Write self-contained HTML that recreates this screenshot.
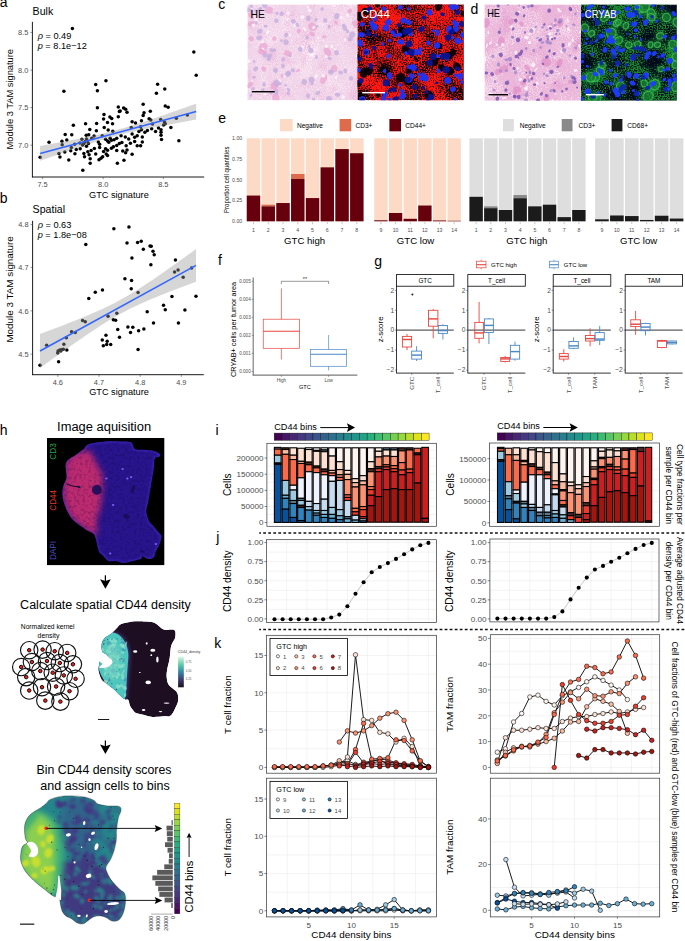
<!DOCTYPE html>
<html><head><meta charset="utf-8"><title>Figure</title>
<style>html,body{margin:0;padding:0;background:#fff;width:685px;height:941px;overflow:hidden}svg{display:block}</style>
</head><body>
<svg width="685" height="941" viewBox="0 0 685 941" font-family="'Liberation Sans', sans-serif">
<defs><filter id="bl05" color-interpolation-filters="sRGB"><feGaussianBlur stdDeviation="0.5"/></filter><filter id="bl1" color-interpolation-filters="sRGB"><feGaussianBlur stdDeviation="1"/></filter><filter id="bl2" x="-20%" y="-20%" width="140%" height="140%" color-interpolation-filters="sRGB"><feGaussianBlur stdDeviation="2"/></filter><filter id="bl3" x="-20%" y="-20%" width="140%" height="140%" color-interpolation-filters="sRGB"><feGaussianBlur stdDeviation="3"/></filter><clipPath id="cHE"><rect x="247.4" y="4.4" width="110.1" height="95.8"/></clipPath><filter id="cHEn1" x="0" y="0" width="100%" height="100%" color-interpolation-filters="sRGB"><feTurbulence type="fractalNoise" baseFrequency="0.05" numOctaves="2" seed="11" result="c"/><feTurbulence type="fractalNoise" baseFrequency="0.8" numOctaves="1" seed="12" result="f"/><feComposite in="c" in2="f" operator="arithmetic" k1="0" k2="0.4" k3="0.60" k4="0" result="m"/><feColorMatrix in="m" type="matrix" values="0 0 0 0 1.000 0 0 0 0 0.961 0 0 0 0 0.980 7 0 0 0 -3.4"/></filter><filter id="cHEn2" x="0" y="0" width="100%" height="100%" color-interpolation-filters="sRGB"><feTurbulence type="fractalNoise" baseFrequency="0.06" numOctaves="2" seed="16" result="c"/><feTurbulence type="fractalNoise" baseFrequency="0.9" numOctaves="1" seed="17" result="f"/><feComposite in="c" in2="f" operator="arithmetic" k1="0" k2="0.5" k3="0.50" k4="0" result="m"/><feColorMatrix in="m" type="matrix" values="0 0 0 0 0.914 0 0 0 0 0.639 0 0 0 0 0.816 6 0 0 0 -3.2"/></filter><clipPath id="cCD"><rect x="357.5" y="4.4" width="106.3" height="95.8"/></clipPath><filter id="cCDn1" x="0" y="0" width="100%" height="100%" color-interpolation-filters="sRGB"><feTurbulence type="fractalNoise" baseFrequency="0.04" numOctaves="2" seed="12" result="c"/><feTurbulence type="fractalNoise" baseFrequency="0.75" numOctaves="1" seed="13" result="f"/><feComposite in="c" in2="f" operator="arithmetic" k1="0" k2="0.4" k3="0.60" k4="0" result="m"/><feColorMatrix in="m" type="matrix" values="0 0 0 0 1.000 0 0 0 0 0.094 0 0 0 0 0.071 6 0 0 0 -2.3"/></filter><clipPath id="dHE"><rect x="484.5" y="4.4" width="96.4" height="96.3"/></clipPath><filter id="dHEn1" x="0" y="0" width="100%" height="100%" color-interpolation-filters="sRGB"><feTurbulence type="fractalNoise" baseFrequency="0.05" numOctaves="2" seed="21" result="c"/><feTurbulence type="fractalNoise" baseFrequency="0.8" numOctaves="1" seed="22" result="f"/><feComposite in="c" in2="f" operator="arithmetic" k1="0" k2="0.4" k3="0.60" k4="0" result="m"/><feColorMatrix in="m" type="matrix" values="0 0 0 0 1.000 0 0 0 0 0.961 0 0 0 0 0.980 7 0 0 0 -3.4"/></filter><filter id="dHEn2" x="0" y="0" width="100%" height="100%" color-interpolation-filters="sRGB"><feTurbulence type="fractalNoise" baseFrequency="0.06" numOctaves="2" seed="26" result="c"/><feTurbulence type="fractalNoise" baseFrequency="0.9" numOctaves="1" seed="27" result="f"/><feComposite in="c" in2="f" operator="arithmetic" k1="0" k2="0.5" k3="0.50" k4="0" result="m"/><feColorMatrix in="m" type="matrix" values="0 0 0 0 0.878 0 0 0 0 0.561 0 0 0 0 0.776 6 0 0 0 -3.2"/></filter><clipPath id="dCR"><rect x="580.9" y="4.4" width="96" height="96.3"/></clipPath><filter id="dCRn1" x="0" y="0" width="100%" height="100%" color-interpolation-filters="sRGB"><feTurbulence type="fractalNoise" baseFrequency="0.045" numOctaves="2" seed="22" result="c"/><feTurbulence type="fractalNoise" baseFrequency="0.75" numOctaves="1" seed="23" result="f"/><feComposite in="c" in2="f" operator="arithmetic" k1="0" k2="0.4" k3="0.60" k4="0" result="m"/><feColorMatrix in="m" type="matrix" values="0 0 0 0 0.118 0 0 0 0 0.647 0 0 0 0 0.196 6 0 0 0 -2.75"/></filter><clipPath id="tisA"><path d="M88.4 444.2 C91.6 443.0 97.4 442.2 102.6 441.8 C107.8 441.3 115.0 441.3 119.7 441.4 C124.5 441.5 128.6 441.1 131.1 442.3 C133.6 443.6 132.4 447.7 134.9 449.0 C137.4 450.2 143.1 449.6 146.3 449.9 C149.4 450.2 151.7 450.2 153.9 450.9 C156.1 451.5 158.6 452.8 159.6 453.7 C160.5 454.7 160.4 455.8 159.6 456.6 C158.8 457.4 155.8 456.6 154.8 458.5 C153.9 460.4 154.3 464.5 153.9 468.0 C153.4 471.4 152.6 475.5 152.0 479.3 C151.3 483.1 150.7 486.9 150.1 490.7 C149.4 494.5 148.8 498.6 148.2 502.1 C147.5 505.6 146.1 508.4 146.3 511.6 C146.4 514.8 147.9 518.6 149.1 521.1 C150.4 523.6 152.3 524.9 153.9 526.8 C155.5 528.7 157.4 530.9 158.6 532.5 C159.9 534.1 161.3 534.4 161.5 536.3 C161.6 538.2 160.5 541.3 159.6 543.9 C158.6 546.4 156.7 549.3 155.8 551.5 C154.8 553.7 155.1 555.9 153.9 557.2 C152.6 558.4 150.1 559.2 148.2 559.1 C146.3 558.9 143.8 556.2 142.5 556.2 C141.2 556.2 142.2 558.3 140.6 559.1 C139.0 559.8 135.8 560.3 133.0 561.0 C130.1 561.6 126.4 562.9 123.5 562.9 C120.7 562.9 118.4 561.3 115.9 561.0 C113.4 560.6 110.5 561.9 108.3 561.0 C106.1 560.0 104.2 556.8 102.6 555.3 C101.0 553.7 99.8 553.4 98.8 551.5 C97.9 549.6 97.6 546.4 96.9 543.9 C96.3 541.3 95.7 538.0 95.0 536.3 C94.4 534.5 94.4 534.4 93.1 533.4 C91.9 532.5 89.3 531.7 87.4 530.6 C85.5 529.5 84.0 528.4 81.8 526.8 C79.5 525.2 76.4 523.3 74.2 521.1 C71.9 518.9 70.2 516.7 68.5 513.5 C66.7 510.3 64.7 505.6 63.7 502.1 C62.7 498.6 62.4 495.5 62.4 492.6 C62.4 489.8 63.0 487.6 63.7 485.0 C64.4 482.5 66.3 480.6 66.6 477.4 C66.9 474.3 65.5 468.9 65.6 466.1 C65.8 463.2 65.8 462.3 67.5 460.4 C69.3 458.5 73.4 456.6 76.1 454.7 C78.7 452.8 81.6 450.7 83.7 449.0 C85.7 447.2 85.2 445.4 88.4 444.2 Z"/></clipPath><linearGradient id="gA" x1="0" y1="0" x2="1" y2="0.15"><stop offset="0" stop-color="#C4307E"/><stop offset="0.28" stop-color="#B52F88"/><stop offset="0.4" stop-color="#4A2AA8"/><stop offset="1" stop-color="#3325A0"/></linearGradient><filter id="tisN" x="0" y="0" width="100%" height="100%" filterUnits="objectBoundingBox" color-interpolation-filters="sRGB"><feTurbulence type="fractalNoise" baseFrequency="0.35" numOctaves="2" seed="5" result="t"/><feColorMatrix in="t" type="matrix" values="0 0 0 0 0.078 0 0 0 0 0.039 0 0 0 0 0.235 4 0 0 0 -1.9"/></filter><clipPath id="tisB"><path d="M120.7 624.2 C123.0 623.0 126.0 622.4 129.9 621.9 C133.7 621.4 139.6 621.3 143.6 621.4 C147.7 621.6 151.1 621.3 154.4 622.7 C157.7 624.0 160.8 628.4 163.6 629.6 C166.4 630.7 169.3 629.3 171.2 629.6 C173.2 629.8 174.4 629.7 175.1 631.1 C175.7 632.5 175.7 635.6 175.1 638.0 C174.4 640.4 172.1 642.3 171.2 645.7 C170.3 649.0 170.3 654.1 169.7 657.9 C169.1 661.8 167.9 665.6 167.4 668.6 C166.9 671.7 166.5 673.8 166.6 676.3 C166.8 678.9 167.2 681.9 168.2 684.0 C169.2 686.0 171.2 687.0 172.8 688.6 C174.3 690.1 176.5 691.1 177.4 693.2 C178.3 695.2 178.4 698.5 178.1 700.8 C177.9 703.1 176.7 704.9 175.8 707.0 C174.9 709.0 173.8 711.6 172.8 713.1 C171.7 714.6 171.2 715.7 169.7 716.2 C168.2 716.7 166.1 716.0 163.6 716.2 C161.0 716.3 156.9 716.9 154.4 716.9 C151.8 716.9 150.3 716.5 148.2 716.2 C146.2 715.8 144.2 715.1 142.1 714.6 C140.1 714.1 137.5 713.9 136.0 713.1 C134.5 712.3 133.9 711.3 132.9 710.0 C131.9 708.8 130.6 707.1 129.9 705.4 C129.1 703.8 129.2 701.1 128.3 700.1 C127.4 699.0 126.0 700.2 124.5 699.3 C123.0 698.4 121.0 696.5 119.1 694.7 C117.2 692.9 115.0 690.4 113.0 688.6 C110.9 686.8 108.8 685.5 106.9 684.0 C104.9 682.4 102.9 681.7 101.5 679.4 C100.1 677.1 98.8 672.7 98.4 670.2 C98.0 667.6 98.9 665.8 99.2 664.0 C99.5 662.3 99.2 660.5 100.0 659.5 C100.7 658.4 102.1 657.9 103.8 657.9 C105.5 657.9 109.4 660.0 109.9 659.5 C110.4 658.9 108.1 656.1 106.9 654.9 C105.6 653.6 103.2 653.6 102.3 651.8 C101.4 650.0 101.1 646.4 101.5 644.1 C101.9 641.8 102.9 639.8 104.6 638.0 C106.2 636.2 109.5 634.9 111.5 633.4 C113.4 631.9 114.5 630.3 116.1 628.8 C117.6 627.3 118.4 625.3 120.7 624.2 Z"/></clipPath><linearGradient id="gMako" x1="0" y1="0" x2="0" y2="1"><stop offset="0" stop-color="#DEF5E5"/><stop offset="0.25" stop-color="#60CEAC"/><stop offset="0.5" stop-color="#3487A6"/><stop offset="0.75" stop-color="#3F3C6C"/><stop offset="1" stop-color="#1A0F1F"/></linearGradient><clipPath id="tisC"><path d="M50.0 799.4 C52.4 798.3 56.8 797.0 60.6 796.4 C64.3 795.8 68.7 795.8 72.8 795.9 C76.9 796.0 81.6 796.4 85.1 797.1 C88.6 797.8 91.6 799.1 93.8 800.3 C96.0 801.4 95.9 803.2 98.2 804.1 C100.6 805.0 104.3 805.5 107.9 805.9 C111.4 806.2 117.0 805.6 119.2 806.4 C121.4 807.2 121.1 808.9 121.0 810.8 C120.8 812.7 119.1 814.6 118.4 817.8 C117.6 821.0 117.0 826.2 116.6 830.0 C116.3 833.8 116.7 837.0 116.3 840.6 C115.8 844.1 114.9 847.8 114.0 851.1 C113.0 854.3 111.8 857.2 110.5 859.8 C109.2 862.4 106.7 864.8 106.1 866.8 C105.5 868.9 106.2 870.0 107.0 872.1 C107.7 874.1 109.2 877.0 110.5 879.1 C111.8 881.1 113.3 882.6 114.9 884.3 C116.5 886.1 118.5 888.1 120.1 889.6 C121.7 891.1 123.6 891.4 124.5 893.1 C125.4 894.9 125.7 897.5 125.7 900.1 C125.7 902.7 125.1 906.2 124.5 908.9 C123.9 911.5 122.9 914.0 121.9 915.9 C120.8 917.8 120.0 919.4 118.4 920.3 C116.8 921.1 114.3 921.6 112.2 921.1 C110.2 920.7 108.0 918.5 106.1 917.6 C104.2 916.8 102.9 916.0 100.8 915.9 C98.8 915.7 95.9 916.0 93.8 916.8 C91.8 917.5 90.3 919.1 88.6 920.3 C86.8 921.4 85.2 923.3 83.3 923.8 C81.4 924.2 79.2 923.8 77.2 922.9 C75.1 922.0 73.0 919.7 71.1 918.5 C69.2 917.3 67.3 917.1 65.8 915.9 C64.3 914.7 63.2 913.3 62.3 911.5 C61.4 909.8 61.0 907.3 60.6 905.4 C60.1 903.5 60.3 901.4 59.7 900.1 C59.1 898.8 58.2 898.2 57.0 897.5 C55.9 896.8 54.7 897.0 52.7 895.7 C50.6 894.4 47.6 891.8 44.8 889.6 C42.0 887.4 38.9 885.2 36.0 882.6 C33.1 880.0 29.5 876.5 27.3 873.8 C25.1 871.2 24.0 869.2 22.9 866.8 C21.8 864.5 20.9 862.4 20.6 859.8 C20.3 857.2 20.8 853.4 21.1 851.1 C21.5 848.7 21.9 847.2 22.9 845.8 C23.9 844.4 26.8 843.8 27.3 842.7 C27.7 841.5 25.9 840.5 25.5 838.8 C25.1 837.1 24.8 834.7 24.6 832.7 C24.5 830.6 24.4 828.4 24.6 826.5 C24.8 824.6 25.1 823.0 25.9 821.3 C26.6 819.5 27.6 817.6 29.0 816.0 C30.4 814.4 32.2 813.1 34.3 811.6 C36.3 810.2 39.2 808.7 41.3 807.3 C43.3 805.8 45.1 804.2 46.5 802.9 C48.0 801.6 47.7 800.5 50.0 799.4 Z"/></clipPath></defs>
<rect width="685" height="941" fill="#fff"/>
<text x="-0.3" y="6.8" font-size="14" >a</text>
<text x="32.6" y="14.9" font-size="10.6" >Bulk</text>
<circle cx="105.94" cy="80.77" r="1.75" fill="#000" />
<circle cx="95.69" cy="84.45" r="1.75" fill="#000" />
<circle cx="97.4" cy="90.63" r="1.75" fill="#000" />
<circle cx="63.9" cy="91.28" r="1.75" fill="#000" />
<circle cx="97.4" cy="107.84" r="1.75" fill="#000" />
<circle cx="118.29" cy="107.05" r="1.75" fill="#000" />
<circle cx="119.34" cy="111.39" r="1.75" fill="#000" />
<circle cx="103.97" cy="114.41" r="1.75" fill="#000" />
<circle cx="109.88" cy="117.04" r="1.75" fill="#000" />
<circle cx="111.72" cy="118.61" r="1.75" fill="#000" />
<circle cx="103.58" cy="119.01" r="1.75" fill="#000" />
<circle cx="118.29" cy="116.64" r="1.75" fill="#000" />
<circle cx="107.52" cy="122.56" r="1.75" fill="#000" />
<circle cx="112.51" cy="123.87" r="1.75" fill="#000" />
<circle cx="85.58" cy="123.87" r="1.75" fill="#000" />
<circle cx="96.61" cy="123.48" r="1.75" fill="#000" />
<circle cx="73.36" cy="125.18" r="1.75" fill="#000" />
<circle cx="104.23" cy="127.42" r="1.75" fill="#000" />
<circle cx="89.78" cy="129.52" r="1.75" fill="#000" />
<circle cx="96.35" cy="130.7" r="1.75" fill="#000" />
<circle cx="108.18" cy="130.04" r="1.75" fill="#000" />
<circle cx="112.77" cy="131.23" r="1.75" fill="#000" />
<circle cx="65.21" cy="134.38" r="1.75" fill="#000" />
<circle cx="71.78" cy="134.64" r="1.75" fill="#000" />
<circle cx="86.23" cy="135.3" r="1.75" fill="#000" />
<circle cx="88.73" cy="134.64" r="1.75" fill="#000" />
<circle cx="94.12" cy="136.09" r="1.75" fill="#000" />
<circle cx="61.93" cy="141.21" r="1.75" fill="#000" />
<circle cx="66.79" cy="140.03" r="1.75" fill="#000" />
<circle cx="49.05" cy="142.26" r="1.75" fill="#000" />
<circle cx="81.9" cy="139.24" r="1.75" fill="#000" />
<circle cx="86.5" cy="138.98" r="1.75" fill="#000" />
<circle cx="87.42" cy="140.95" r="1.75" fill="#000" />
<circle cx="98.32" cy="142" r="1.75" fill="#000" />
<circle cx="105.55" cy="139.24" r="1.75" fill="#000" />
<circle cx="107.52" cy="140.95" r="1.75" fill="#000" />
<circle cx="111.46" cy="140.29" r="1.75" fill="#000" />
<circle cx="114.09" cy="139.64" r="1.75" fill="#000" />
<circle cx="116.72" cy="138.32" r="1.75" fill="#000" />
<circle cx="62.19" cy="144.63" r="1.75" fill="#000" />
<circle cx="71.39" cy="147.52" r="1.75" fill="#000" />
<circle cx="74.67" cy="144.23" r="1.75" fill="#000" />
<circle cx="83.87" cy="143.58" r="1.75" fill="#000" />
<circle cx="88.47" cy="143.58" r="1.75" fill="#000" />
<circle cx="99.64" cy="144.23" r="1.75" fill="#000" />
<circle cx="108.83" cy="142.26" r="1.75" fill="#000" />
<circle cx="113.43" cy="146.86" r="1.75" fill="#000" />
<circle cx="116.72" cy="145.55" r="1.75" fill="#000" />
<circle cx="119.34" cy="143.58" r="1.75" fill="#000" />
<circle cx="76.25" cy="149.49" r="1.75" fill="#000" />
<circle cx="80.19" cy="148.83" r="1.75" fill="#000" />
<circle cx="70.73" cy="150.8" r="1.75" fill="#000" />
<circle cx="64.82" cy="152.12" r="1.75" fill="#000" />
<circle cx="58.91" cy="153.43" r="1.75" fill="#000" />
<circle cx="87.81" cy="151.72" r="1.75" fill="#000" />
<circle cx="91.1" cy="150.41" r="1.75" fill="#000" />
<circle cx="94.38" cy="148.57" r="1.75" fill="#000" />
<circle cx="99.64" cy="147.52" r="1.75" fill="#000" />
<circle cx="105.55" cy="148.83" r="1.75" fill="#000" />
<circle cx="107.52" cy="150.15" r="1.75" fill="#000" />
<circle cx="116.72" cy="150.41" r="1.75" fill="#000" />
<circle cx="83.87" cy="153.43" r="1.75" fill="#000" />
<circle cx="74.93" cy="153.83" r="1.75" fill="#000" />
<circle cx="59.96" cy="156.98" r="1.75" fill="#000" />
<circle cx="89.12" cy="154.75" r="1.75" fill="#000" />
<circle cx="84.53" cy="156.72" r="1.75" fill="#000" />
<circle cx="106.21" cy="154.09" r="1.75" fill="#000" />
<circle cx="107.52" cy="155.4" r="1.75" fill="#000" />
<circle cx="102.66" cy="156.72" r="1.75" fill="#000" />
<circle cx="100.95" cy="158.29" r="1.75" fill="#000" />
<circle cx="98.98" cy="159.74" r="1.75" fill="#000" />
<circle cx="90.18" cy="158.69" r="1.75" fill="#000" />
<circle cx="68.76" cy="160" r="1.75" fill="#000" />
<circle cx="40.12" cy="157.37" r="1.75" fill="#000" />
<circle cx="90.18" cy="163.29" r="1.75" fill="#000" />
<circle cx="117.37" cy="163.29" r="1.75" fill="#000" />
<circle cx="82.82" cy="170.25" r="1.75" fill="#000" />
<circle cx="85.18" cy="141.61" r="1.75" fill="#000" />
<circle cx="82.56" cy="144.89" r="1.75" fill="#000" />
<circle cx="86.5" cy="146.21" r="1.75" fill="#000" />
<circle cx="103.58" cy="151.46" r="1.75" fill="#000" />
<circle cx="110.15" cy="138.32" r="1.75" fill="#000" />
<circle cx="102.26" cy="135.69" r="1.75" fill="#000" />
<circle cx="91.75" cy="138.32" r="1.75" fill="#000" />
<circle cx="79.93" cy="142.92" r="1.75" fill="#000" />
<circle cx="95.69" cy="154.09" r="1.75" fill="#000" />
<circle cx="111.46" cy="148.18" r="1.75" fill="#000" />
<circle cx="193.84" cy="51.97" r="1.75" fill="#000" />
<circle cx="196.22" cy="75.27" r="1.75" fill="#000" />
<circle cx="157.62" cy="84.29" r="1.75" fill="#000" />
<circle cx="164.76" cy="88.88" r="1.75" fill="#000" />
<circle cx="156.43" cy="93.13" r="1.75" fill="#000" />
<circle cx="143.16" cy="104.35" r="1.75" fill="#000" />
<circle cx="165.27" cy="105.88" r="1.75" fill="#000" />
<circle cx="168.16" cy="107.24" r="1.75" fill="#000" />
<circle cx="123.61" cy="108.1" r="1.75" fill="#000" />
<circle cx="125.65" cy="109.29" r="1.75" fill="#000" />
<circle cx="120.2" cy="110.99" r="1.75" fill="#000" />
<circle cx="127.01" cy="112.35" r="1.75" fill="#000" />
<circle cx="150.31" cy="111.33" r="1.75" fill="#000" />
<circle cx="144.01" cy="112.69" r="1.75" fill="#000" />
<circle cx="143.16" cy="115.58" r="1.75" fill="#000" />
<circle cx="132.11" cy="121.7" r="1.75" fill="#000" />
<circle cx="149.12" cy="118.64" r="1.75" fill="#000" />
<circle cx="150.82" cy="120" r="1.75" fill="#000" />
<circle cx="141.46" cy="120.68" r="1.75" fill="#000" />
<circle cx="160.68" cy="119.49" r="1.75" fill="#000" />
<circle cx="164.42" cy="122.04" r="1.75" fill="#000" />
<circle cx="165.27" cy="123.74" r="1.75" fill="#000" />
<circle cx="163.57" cy="125.1" r="1.75" fill="#000" />
<circle cx="176.33" cy="118.3" r="1.75" fill="#000" />
<circle cx="187.38" cy="114.9" r="1.75" fill="#000" />
<circle cx="131.26" cy="127.48" r="1.75" fill="#000" />
<circle cx="140.61" cy="126.8" r="1.75" fill="#000" />
<circle cx="141.46" cy="129.69" r="1.75" fill="#000" />
<circle cx="138.91" cy="131.39" r="1.75" fill="#000" />
<circle cx="147.41" cy="130.54" r="1.75" fill="#000" />
<circle cx="151.67" cy="128.84" r="1.75" fill="#000" />
<circle cx="158.47" cy="127.99" r="1.75" fill="#000" />
<circle cx="161.02" cy="129.69" r="1.75" fill="#000" />
<circle cx="170.88" cy="127.48" r="1.75" fill="#000" />
<circle cx="161.02" cy="132.24" r="1.75" fill="#000" />
<circle cx="161.02" cy="135.31" r="1.75" fill="#000" />
<circle cx="161.53" cy="139.56" r="1.75" fill="#000" />
<circle cx="178.88" cy="140.75" r="1.75" fill="#000" />
<circle cx="121.05" cy="135.65" r="1.75" fill="#000" />
<circle cx="125.31" cy="137.01" r="1.75" fill="#000" />
<circle cx="132.11" cy="133.95" r="1.75" fill="#000" />
<circle cx="134.66" cy="137.35" r="1.75" fill="#000" />
<circle cx="137.21" cy="135.65" r="1.75" fill="#000" />
<circle cx="144.86" cy="132.24" r="1.75" fill="#000" />
<circle cx="142.31" cy="137.01" r="1.75" fill="#000" />
<circle cx="121.9" cy="142.45" r="1.75" fill="#000" />
<circle cx="130.41" cy="143.3" r="1.75" fill="#000" />
<circle cx="134.66" cy="141.6" r="1.75" fill="#000" />
<circle cx="142.31" cy="141.94" r="1.75" fill="#000" />
<circle cx="140.61" cy="145.85" r="1.75" fill="#000" />
<circle cx="126.16" cy="145.85" r="1.75" fill="#000" />
<circle cx="122.76" cy="150.95" r="1.75" fill="#000" />
<circle cx="127.01" cy="150.1" r="1.75" fill="#000" />
<circle cx="125.65" cy="152.65" r="1.75" fill="#000" />
<circle cx="132.11" cy="154.35" r="1.75" fill="#000" />
<circle cx="123.95" cy="160.31" r="1.75" fill="#000" />
<circle cx="135.51" cy="122.89" r="1.75" fill="#000" />
<circle cx="128.71" cy="139.05" r="1.75" fill="#000" />
<circle cx="137.21" cy="145.85" r="1.75" fill="#000" />
<circle cx="152.52" cy="124.08" r="1.75" fill="#000" />
<circle cx="155.58" cy="131.39" r="1.75" fill="#000" />
<circle cx="72.4" cy="28.6" r="1.75" fill="#000" />
<path d="M40.1 146.06 L44.1 145.32 L48.11 144.58 L52.11 143.84 L56.11 143.09 L60.11 142.33 L64.12 141.57 L68.12 140.81 L72.12 140.03 L76.12 139.25 L80.13 138.45 L84.13 137.64 L88.13 136.82 L92.13 135.97 L96.14 135.1 L100.14 134.2 L104.14 133.27 L108.14 132.3 L112.15 131.28 L116.15 130.22 L120.15 129.11 L124.15 127.95 L128.16 126.76 L132.16 125.53 L136.16 124.26 L140.16 122.97 L144.17 121.66 L148.17 120.33 L152.17 118.99 L156.17 117.63 L160.18 116.26 L164.18 114.89 L168.18 113.5 L172.18 112.11 L176.19 110.72 L180.19 109.32 L184.19 107.92 L188.19 106.52 L192.2 105.11 L196.2 103.7 L196.2 119.43 L192.2 120.17 L188.19 120.91 L184.19 121.65 L180.19 122.39 L176.19 123.14 L172.18 123.89 L168.18 124.64 L164.18 125.41 L160.18 126.18 L156.17 126.95 L152.17 127.74 L148.17 128.54 L144.17 129.36 L140.16 130.19 L136.16 131.05 L132.16 131.93 L128.16 132.84 L124.15 133.79 L120.15 134.78 L116.15 135.82 L112.15 136.9 L108.14 138.03 L104.14 139.2 L100.14 140.42 L96.14 141.66 L92.13 142.94 L88.13 144.24 L84.13 145.56 L80.13 146.89 L76.12 148.24 L72.12 149.61 L68.12 150.98 L64.12 152.36 L60.11 153.74 L56.11 155.13 L52.11 156.53 L48.11 157.93 L44.1 159.33 L40.1 160.74 Z" fill="#999" fill-opacity="0.4"/>
<line x1="40.1" y1="153.4" x2="196.2" y2="111.57" stroke="#3366FF" stroke-width="1.55" />
<line x1="32.4" y1="21.8" x2="32.4" y2="177.4" stroke="#000" stroke-width="0.9" />
<line x1="32" y1="177" x2="204.2" y2="177" stroke="#000" stroke-width="0.9" />
<line x1="30.3" y1="32.4" x2="32.4" y2="32.4" stroke="#333" stroke-width="0.5" />
<text x="28.3" y="35" font-size="7.4" fill="#4D4D4D" text-anchor="end" >8.5</text>
<line x1="30.3" y1="70.1" x2="32.4" y2="70.1" stroke="#333" stroke-width="0.5" />
<text x="28.3" y="72.7" font-size="7.4" fill="#4D4D4D" text-anchor="end" >8.0</text>
<line x1="30.3" y1="107.6" x2="32.4" y2="107.6" stroke="#333" stroke-width="0.5" />
<text x="28.3" y="110.2" font-size="7.4" fill="#4D4D4D" text-anchor="end" >7.5</text>
<line x1="30.3" y1="145.2" x2="32.4" y2="145.2" stroke="#333" stroke-width="0.5" />
<text x="28.3" y="147.8" font-size="7.4" fill="#4D4D4D" text-anchor="end" >7.0</text>
<line x1="42.6" y1="177" x2="42.6" y2="179.2" stroke="#333" stroke-width="0.5" />
<text x="42.6" y="186.8" font-size="7.4" fill="#4D4D4D" text-anchor="middle" >7.5</text>
<line x1="103.2" y1="177" x2="103.2" y2="179.2" stroke="#333" stroke-width="0.5" />
<text x="103.2" y="186.8" font-size="7.4" fill="#4D4D4D" text-anchor="middle" >8.0</text>
<line x1="163.3" y1="177" x2="163.3" y2="179.2" stroke="#333" stroke-width="0.5" />
<text x="163.3" y="186.8" font-size="7.4" fill="#4D4D4D" text-anchor="middle" >8.5</text>
<text x="118.9" y="197.6" font-size="9.2" text-anchor="middle" >GTC signature</text>
<text x="13" y="99.2" font-size="9.3" text-anchor="middle" transform="rotate(-90 13 99.2)" textLength="100.5" lengthAdjust="spacingAndGlyphs" >Module 3 TAM signature</text>
<text x="37.7" y="38.5" font-size="9.2"><tspan font-style="italic">ρ</tspan> = 0.49</text>
<text x="37.7" y="48.7" font-size="9.2"><tspan font-style="italic">p</tspan> = 8.1e−12</text>
<text x="-0.2" y="203" font-size="14" >b</text>
<text x="32.6" y="213" font-size="10.6" >Spatial</text>
<circle cx="113.86" cy="228.68" r="1.75" fill="#000" />
<circle cx="85.79" cy="244.47" r="1.75" fill="#000" />
<circle cx="102.46" cy="290.09" r="1.75" fill="#000" />
<circle cx="95.26" cy="292.19" r="1.75" fill="#000" />
<circle cx="88.77" cy="298.51" r="1.75" fill="#000" />
<circle cx="108.07" cy="316.23" r="1.75" fill="#000" />
<circle cx="116.84" cy="313.25" r="1.75" fill="#000" />
<circle cx="113.33" cy="319.74" r="1.75" fill="#000" />
<circle cx="115.61" cy="320.26" r="1.75" fill="#000" />
<circle cx="82.63" cy="320.61" r="1.75" fill="#000" />
<circle cx="85.26" cy="321.67" r="1.75" fill="#000" />
<circle cx="117.72" cy="329.56" r="1.75" fill="#000" />
<circle cx="119.47" cy="337.28" r="1.75" fill="#000" />
<circle cx="71.58" cy="331.67" r="1.75" fill="#000" />
<circle cx="75.26" cy="332.54" r="1.75" fill="#000" />
<circle cx="66.32" cy="337.81" r="1.75" fill="#000" />
<circle cx="105.96" cy="335.18" r="1.75" fill="#000" />
<circle cx="102.28" cy="339.91" r="1.75" fill="#000" />
<circle cx="107.19" cy="341.32" r="1.75" fill="#000" />
<circle cx="103.33" cy="345.7" r="1.75" fill="#000" />
<circle cx="106.67" cy="344.47" r="1.75" fill="#000" />
<circle cx="110.7" cy="344.47" r="1.75" fill="#000" />
<circle cx="63.86" cy="344.3" r="1.75" fill="#000" />
<circle cx="46.67" cy="345.18" r="1.75" fill="#000" />
<circle cx="58.07" cy="350.96" r="1.75" fill="#000" />
<circle cx="59.82" cy="350.09" r="1.75" fill="#000" />
<circle cx="61.58" cy="349.74" r="1.75" fill="#000" />
<circle cx="63.33" cy="349.21" r="1.75" fill="#000" />
<circle cx="66.84" cy="350.09" r="1.75" fill="#000" />
<circle cx="57.72" cy="353.07" r="1.75" fill="#000" />
<circle cx="60.7" cy="350.96" r="1.75" fill="#000" />
<circle cx="58.6" cy="361.67" r="1.75" fill="#000" />
<circle cx="40" cy="365.35" r="1.75" fill="#000" />
<circle cx="128.95" cy="226.93" r="1.75" fill="#000" />
<circle cx="127.02" cy="243.07" r="1.75" fill="#000" />
<circle cx="137.54" cy="242.54" r="1.75" fill="#000" />
<circle cx="141.23" cy="241.32" r="1.75" fill="#000" />
<circle cx="143.33" cy="249.21" r="1.75" fill="#000" />
<circle cx="150" cy="246.05" r="1.75" fill="#000" />
<circle cx="151.23" cy="246.23" r="1.75" fill="#000" />
<circle cx="152.98" cy="251.32" r="1.75" fill="#000" />
<circle cx="154.21" cy="254.82" r="1.75" fill="#000" />
<circle cx="131.93" cy="257.98" r="1.75" fill="#000" />
<circle cx="150.88" cy="264.82" r="1.75" fill="#000" />
<circle cx="175.44" cy="259.91" r="1.75" fill="#000" />
<circle cx="174.56" cy="272.02" r="1.75" fill="#000" />
<circle cx="178.07" cy="269.91" r="1.75" fill="#000" />
<circle cx="191.58" cy="267.98" r="1.75" fill="#000" />
<circle cx="183.16" cy="277.28" r="1.75" fill="#000" />
<circle cx="124.91" cy="278.68" r="1.75" fill="#000" />
<circle cx="131.58" cy="280.44" r="1.75" fill="#000" />
<circle cx="131.23" cy="288.68" r="1.75" fill="#000" />
<circle cx="138.07" cy="292.54" r="1.75" fill="#000" />
<circle cx="171.93" cy="296.58" r="1.75" fill="#000" />
<circle cx="195.96" cy="296.23" r="1.75" fill="#000" />
<circle cx="163.51" cy="305.35" r="1.75" fill="#000" />
<circle cx="165.26" cy="309.74" r="1.75" fill="#000" />
<circle cx="184.91" cy="309.91" r="1.75" fill="#000" />
<circle cx="147.19" cy="311.84" r="1.75" fill="#000" />
<circle cx="153.51" cy="322.89" r="1.75" fill="#000" />
<circle cx="178.42" cy="322.89" r="1.75" fill="#000" />
<circle cx="127.89" cy="326.93" r="1.75" fill="#000" />
<circle cx="132.81" cy="327.28" r="1.75" fill="#000" />
<circle cx="130.53" cy="332.54" r="1.75" fill="#000" />
<circle cx="138.6" cy="330.79" r="1.75" fill="#000" />
<circle cx="143.86" cy="329.04" r="1.75" fill="#000" />
<circle cx="138.07" cy="349.56" r="1.75" fill="#000" />
<path d="M40 334 L44 332.51 L48 331.01 L52 329.5 L56 327.98 L60 326.46 L64 324.92 L68 323.36 L72 321.8 L76 320.21 L80 318.6 L84 316.96 L88 315.3 L92 313.6 L96 311.85 L100 310.06 L104 308.21 L108 306.29 L112 304.3 L116 302.23 L120 300.08 L124 297.84 L128 295.52 L132 293.12 L136 290.64 L140 288.1 L144 285.5 L148 282.85 L152 280.16 L156 277.44 L160 274.68 L164 271.9 L168 269.09 L172 266.27 L176 263.43 L180 260.58 L184 257.71 L188 254.83 L192 251.95 L196 249.06 L196 281.65 L192 283.15 L188 284.66 L184 286.18 L180 287.7 L176 289.24 L172 290.8 L168 292.36 L164 293.95 L160 295.56 L156 297.2 L152 298.86 L148 300.56 L144 302.31 L140 304.1 L136 305.95 L132 307.87 L128 309.86 L124 311.93 L120 314.08 L116 316.32 L112 318.64 L108 321.04 L104 323.52 L100 326.06 L96 328.66 L92 331.31 L88 334 L84 336.72 L80 339.48 L76 342.26 L72 345.07 L68 347.89 L64 350.73 L60 353.58 L56 356.45 L52 359.33 L48 362.21 L44 365.1 L40 368 Z" fill="#999" fill-opacity="0.4"/>
<line x1="40" y1="351" x2="196" y2="265.36" stroke="#3366FF" stroke-width="1.55" />
<line x1="32.6" y1="220.8" x2="32.6" y2="375.1" stroke="#000" stroke-width="0.9" />
<line x1="32.2" y1="374.7" x2="203.8" y2="374.7" stroke="#000" stroke-width="0.9" />
<line x1="30.5" y1="224.6" x2="32.6" y2="224.6" stroke="#333" stroke-width="0.5" />
<text x="28.5" y="227.2" font-size="7.4" fill="#4D4D4D" text-anchor="end" >4.8</text>
<line x1="30.5" y1="267.4" x2="32.6" y2="267.4" stroke="#333" stroke-width="0.5" />
<text x="28.5" y="270" font-size="7.4" fill="#4D4D4D" text-anchor="end" >4.7</text>
<line x1="30.5" y1="310.9" x2="32.6" y2="310.9" stroke="#333" stroke-width="0.5" />
<text x="28.5" y="313.5" font-size="7.4" fill="#4D4D4D" text-anchor="end" >4.6</text>
<line x1="30.5" y1="354.2" x2="32.6" y2="354.2" stroke="#333" stroke-width="0.5" />
<text x="28.5" y="356.8" font-size="7.4" fill="#4D4D4D" text-anchor="end" >4.5</text>
<line x1="57.8" y1="374.7" x2="57.8" y2="376.9" stroke="#333" stroke-width="0.5" />
<text x="57.8" y="384.8" font-size="7.4" fill="#4D4D4D" text-anchor="middle" >4.6</text>
<line x1="99" y1="374.7" x2="99" y2="376.9" stroke="#333" stroke-width="0.5" />
<text x="99" y="384.8" font-size="7.4" fill="#4D4D4D" text-anchor="middle" >4.7</text>
<line x1="140.2" y1="374.7" x2="140.2" y2="376.9" stroke="#333" stroke-width="0.5" />
<text x="140.2" y="384.8" font-size="7.4" fill="#4D4D4D" text-anchor="middle" >4.8</text>
<line x1="181.3" y1="374.7" x2="181.3" y2="376.9" stroke="#333" stroke-width="0.5" />
<text x="181.3" y="384.8" font-size="7.4" fill="#4D4D4D" text-anchor="middle" >4.9</text>
<text x="119" y="395.3" font-size="9.2" text-anchor="middle" >GTC signature</text>
<text x="13.2" y="289.4" font-size="9.8" text-anchor="middle" transform="rotate(-90 13.2 289.4)" textLength="106.4" lengthAdjust="spacingAndGlyphs" >Module 3 TAM signature</text>
<text x="37.7" y="228.2" font-size="9.2"><tspan font-style="italic">ρ</tspan> = 0.63</text>
<text x="37.7" y="237.9" font-size="9.2"><tspan font-style="italic">p</tspan> = 1.8e−08</text>
<text x="218.2" y="9.1" font-size="14" >c</text>
<g clip-path="url(#cHE)">
<rect x="247.4" y="4.4" width="110.1" height="95.8" fill="#F1D4E9" />
<rect x="247.4" y="4.4" width="110.1" height="95.8" filter="url(#cHEn1)" opacity="0.55"/>
<rect x="247.4" y="4.4" width="110.1" height="95.8" filter="url(#cHEn2)" opacity="0.5"/>
<g filter="url(#bl05)"><ellipse cx="261.6" cy="52.2" rx="4.0" ry="2.4" transform="rotate(27 261.6 52.2)" fill="#E9A3D0" fill-opacity="0.70" /><ellipse cx="349.6" cy="11.1" rx="2.6" ry="2.3" transform="rotate(112 349.6 11.1)" fill="#E9A3D0" fill-opacity="0.70" /><ellipse cx="288.0" cy="53.4" rx="4.2" ry="2.9" transform="rotate(25 288.0 53.4)" fill="#E9A3D0" fill-opacity="0.70" /><ellipse cx="334.2" cy="68.6" rx="3.7" ry="3.2" transform="rotate(99 334.2 68.6)" fill="#E9A3D0" fill-opacity="0.70" /><ellipse cx="355.4" cy="24.0" rx="3.9" ry="2.9" transform="rotate(64 355.4 24.0)" fill="#E9A3D0" fill-opacity="0.70" /><ellipse cx="312.5" cy="26.9" rx="4.6" ry="4.0" transform="rotate(23 312.5 26.9)" fill="#E9A3D0" fill-opacity="0.70" /><ellipse cx="298.8" cy="31.0" rx="2.4" ry="2.1" transform="rotate(77 298.8 31.0)" fill="#E9A3D0" fill-opacity="0.70" /><ellipse cx="263.7" cy="68.9" rx="2.8" ry="2.4" transform="rotate(39 263.7 68.9)" fill="#E9A3D0" fill-opacity="0.70" /><ellipse cx="251.0" cy="23.6" rx="3.2" ry="2.4" transform="rotate(163 251.0 23.6)" fill="#E9A3D0" fill-opacity="0.70" /><ellipse cx="324.2" cy="36.9" rx="2.3" ry="1.5" transform="rotate(179 324.2 36.9)" fill="#E9A3D0" fill-opacity="0.70" /><ellipse cx="298.0" cy="70.6" rx="2.4" ry="1.4" transform="rotate(152 298.0 70.6)" fill="#E9A3D0" fill-opacity="0.70" /><ellipse cx="312.1" cy="34.0" rx="3.2" ry="2.0" transform="rotate(31 312.1 34.0)" fill="#E9A3D0" fill-opacity="0.70" /><ellipse cx="250.1" cy="84.8" rx="3.6" ry="2.3" transform="rotate(133 250.1 84.8)" fill="#E9A3D0" fill-opacity="0.70" /><ellipse cx="268.9" cy="10.3" rx="4.0" ry="3.5" transform="rotate(5 268.9 10.3)" fill="#E9A3D0" fill-opacity="0.70" /><ellipse cx="336.0" cy="22.6" rx="2.5" ry="1.5" transform="rotate(53 336.0 22.6)" fill="#E9A3D0" fill-opacity="0.70" /><ellipse cx="327.5" cy="51.6" rx="4.8" ry="3.2" transform="rotate(57 327.5 51.6)" fill="#E9A3D0" fill-opacity="0.70" /><ellipse cx="275.8" cy="98.1" rx="5.0" ry="3.5" transform="rotate(78 275.8 98.1)" fill="#E9A3D0" fill-opacity="0.70" /><ellipse cx="282.0" cy="75.9" rx="2.3" ry="1.4" transform="rotate(73 282.0 75.9)" fill="#E9A3D0" fill-opacity="0.70" /><ellipse cx="274.4" cy="85.4" rx="4.4" ry="3.4" transform="rotate(119 274.4 85.4)" fill="#E9A3D0" fill-opacity="0.70" /><ellipse cx="323.6" cy="79.2" rx="5.0" ry="3.2" transform="rotate(113 323.6 79.2)" fill="#E9A3D0" fill-opacity="0.70" /><ellipse cx="263.2" cy="46.9" rx="4.6" ry="4.0" transform="rotate(137 263.2 46.9)" fill="#E9A3D0" fill-opacity="0.70" /><ellipse cx="251.3" cy="38.8" rx="2.7" ry="2.4" transform="rotate(26 251.3 38.8)" fill="#E9A3D0" fill-opacity="0.70" /><ellipse cx="274.3" cy="38.6" rx="2.4" ry="2.1" transform="rotate(115 274.3 38.6)" fill="#E9A3D0" fill-opacity="0.70" /><ellipse cx="265.0" cy="52.1" rx="2.4" ry="1.9" transform="rotate(42 265.0 52.1)" fill="#E9A3D0" fill-opacity="0.70" /><ellipse cx="251.7" cy="15.4" rx="3.9" ry="3.1" transform="rotate(58 251.7 15.4)" fill="#E9A3D0" fill-opacity="0.70" /><ellipse cx="318.2" cy="38.1" rx="1.0" ry="1.2" transform="rotate(71 318.2 38.1)" fill="#FFF6FB" fill-opacity="0.85" /><ellipse cx="347.9" cy="15.5" rx="1.0" ry="1.6" transform="rotate(173 347.9 15.5)" fill="#FFF6FB" fill-opacity="0.85" /><ellipse cx="347.3" cy="71.5" rx="0.9" ry="1.9" transform="rotate(123 347.3 71.5)" fill="#FFF6FB" fill-opacity="0.85" /><ellipse cx="263.2" cy="48.9" rx="0.9" ry="1.9" transform="rotate(129 263.2 48.9)" fill="#FFF6FB" fill-opacity="0.85" /><ellipse cx="336.0" cy="77.2" rx="1.3" ry="1.9" transform="rotate(45 336.0 77.2)" fill="#FFF6FB" fill-opacity="0.85" /><ellipse cx="262.6" cy="41.8" rx="1.7" ry="1.2" transform="rotate(109 262.6 41.8)" fill="#FFF6FB" fill-opacity="0.85" /><ellipse cx="313.7" cy="27.4" rx="1.9" ry="1.3" transform="rotate(132 313.7 27.4)" fill="#FFF6FB" fill-opacity="0.85" /><ellipse cx="279.4" cy="80.9" rx="1.5" ry="1.6" transform="rotate(121 279.4 80.9)" fill="#FFF6FB" fill-opacity="0.85" /><ellipse cx="304.5" cy="29.1" rx="2.6" ry="0.9" transform="rotate(58 304.5 29.1)" fill="#FFF6FB" fill-opacity="0.85" /><ellipse cx="307.9" cy="7.1" rx="1.1" ry="1.9" transform="rotate(141 307.9 7.1)" fill="#FFF6FB" fill-opacity="0.85" /><ellipse cx="317.5" cy="90.8" rx="2.2" ry="1.2" transform="rotate(116 317.5 90.8)" fill="#FFF6FB" fill-opacity="0.85" /><ellipse cx="284.8" cy="76.2" rx="1.5" ry="1.0" transform="rotate(158 284.8 76.2)" fill="#FFF6FB" fill-opacity="0.85" /><ellipse cx="323.4" cy="75.7" rx="1.8" ry="1.9" transform="rotate(81 323.4 75.7)" fill="#FFF6FB" fill-opacity="0.85" /><ellipse cx="309.7" cy="10.4" rx="1.8" ry="1.9" transform="rotate(127 309.7 10.4)" fill="#FFF6FB" fill-opacity="0.85" /><ellipse cx="335.8" cy="51.9" rx="2.4" ry="1.0" transform="rotate(158 335.8 51.9)" fill="#FFF6FB" fill-opacity="0.85" /><ellipse cx="288.3" cy="13.1" rx="1.9" ry="1.4" transform="rotate(77 288.3 13.1)" fill="#FFF6FB" fill-opacity="0.85" /><ellipse cx="341.2" cy="17.6" rx="1.9" ry="1.4" transform="rotate(95 341.2 17.6)" fill="#FFF6FB" fill-opacity="0.85" /><ellipse cx="302.4" cy="17.2" rx="1.7" ry="2.0" transform="rotate(31 302.4 17.2)" fill="#FFF6FB" fill-opacity="0.85" /><ellipse cx="248.7" cy="10.9" rx="1.6" ry="2.2" transform="rotate(8 248.7 10.9)" fill="#FFF6FB" fill-opacity="0.85" /><ellipse cx="356.5" cy="55.8" rx="1.0" ry="1.4" transform="rotate(37 356.5 55.8)" fill="#FFF6FB" fill-opacity="0.85" /><ellipse cx="326.0" cy="56.3" rx="1.3" ry="1.2" transform="rotate(156 326.0 56.3)" fill="#FFF6FB" fill-opacity="0.85" /><ellipse cx="331.8" cy="46.2" rx="1.5" ry="1.8" transform="rotate(175 331.8 46.2)" fill="#FFF6FB" fill-opacity="0.85" /><ellipse cx="256.2" cy="19.6" rx="1.5" ry="1.5" transform="rotate(13 256.2 19.6)" fill="#FFF6FB" fill-opacity="0.85" /><ellipse cx="253.3" cy="25.4" rx="1.5" ry="1.8" transform="rotate(110 253.3 25.4)" fill="#FFF6FB" fill-opacity="0.85" /><ellipse cx="250.6" cy="8.7" rx="1.6" ry="2.0" transform="rotate(165 250.6 8.7)" fill="#FFF6FB" fill-opacity="0.85" /><ellipse cx="287.6" cy="89.4" rx="2.5" ry="1.4" transform="rotate(134 287.6 89.4)" fill="#FFF6FB" fill-opacity="0.85" /><ellipse cx="287.6" cy="19.1" rx="1.8" ry="0.9" transform="rotate(119 287.6 19.1)" fill="#FFF6FB" fill-opacity="0.85" /><ellipse cx="336.5" cy="92.1" rx="1.6" ry="1.0" transform="rotate(162 336.5 92.1)" fill="#FFF6FB" fill-opacity="0.85" /><ellipse cx="343.2" cy="97.1" rx="1.9" ry="1.7" transform="rotate(67 343.2 97.1)" fill="#FFF6FB" fill-opacity="0.85" /><ellipse cx="267.6" cy="32.3" rx="2.1" ry="1.3" transform="rotate(124 267.6 32.3)" fill="#FFF6FB" fill-opacity="0.85" /><ellipse cx="302.7" cy="47.4" rx="2.5" ry="1.0" transform="rotate(88 302.7 47.4)" fill="#FFF6FB" fill-opacity="0.85" /><ellipse cx="265.0" cy="94.2" rx="1.7" ry="1.3" transform="rotate(30 265.0 94.2)" fill="#FFF6FB" fill-opacity="0.85" /><ellipse cx="312.8" cy="42.6" rx="1.0" ry="0.8" transform="rotate(70 312.8 42.6)" fill="#FFF6FB" fill-opacity="0.85" /><ellipse cx="311.6" cy="54.1" rx="2.4" ry="2.1" transform="rotate(169 311.6 54.1)" fill="#FFF6FB" fill-opacity="0.85" /><ellipse cx="335.4" cy="50.2" rx="1.7" ry="1.4" transform="rotate(72 335.4 50.2)" fill="#FFF6FB" fill-opacity="0.85" /><ellipse cx="252.0" cy="80.9" rx="1.2" ry="0.8" transform="rotate(84 252.0 80.9)" fill="#FFF6FB" fill-opacity="0.85" /><ellipse cx="326.4" cy="46.2" rx="1.5" ry="1.7" transform="rotate(29 326.4 46.2)" fill="#FFF6FB" fill-opacity="0.85" /><ellipse cx="248.6" cy="61.2" rx="1.8" ry="2.0" transform="rotate(75 248.6 61.2)" fill="#FFF6FB" fill-opacity="0.85" /><ellipse cx="334.0" cy="6.1" rx="0.8" ry="1.6" transform="rotate(41 334.0 6.1)" fill="#FFF6FB" fill-opacity="0.85" /><ellipse cx="254.8" cy="16.6" rx="1.5" ry="1.3" transform="rotate(101 254.8 16.6)" fill="#FFF6FB" fill-opacity="0.85" /><ellipse cx="345.1" cy="39.4" rx="1.1" ry="1.6" transform="rotate(0 345.1 39.4)" fill="#FFF6FB" fill-opacity="0.85" /><ellipse cx="289.8" cy="34.8" rx="1.5" ry="0.9" transform="rotate(100 289.8 34.8)" fill="#FFF6FB" fill-opacity="0.85" /><ellipse cx="316.1" cy="76.2" rx="2.5" ry="1.3" transform="rotate(118 316.1 76.2)" fill="#FFF6FB" fill-opacity="0.85" /><ellipse cx="296.1" cy="25.0" rx="2.4" ry="1.8" transform="rotate(170 296.1 25.0)" fill="#FFF6FB" fill-opacity="0.85" /><ellipse cx="337.9" cy="92.3" rx="1.0" ry="0.8" transform="rotate(36 337.9 92.3)" fill="#FFF6FB" fill-opacity="0.85" /></g>
<g filter="url(#bl05)"><ellipse cx="292.8" cy="70.3" rx="2.2" ry="2.0" transform="rotate(13 292.8 70.3)" fill="#C8B0DE" fill-opacity="0.85" /><ellipse cx="322.1" cy="9.1" rx="1.8" ry="1.7" transform="rotate(73 322.1 9.1)" fill="#C8B0DE" fill-opacity="0.85" /><ellipse cx="279.8" cy="83.7" rx="1.9" ry="1.5" transform="rotate(4 279.8 83.7)" fill="#C8B0DE" fill-opacity="0.85" /><ellipse cx="336.7" cy="16.1" rx="3.2" ry="2.5" transform="rotate(105 336.7 16.1)" fill="#C8B0DE" fill-opacity="0.85" /><ellipse cx="281.3" cy="40.7" rx="1.6" ry="1.1" transform="rotate(40 281.3 40.7)" fill="#C8B0DE" fill-opacity="0.85" /><ellipse cx="347.5" cy="31.3" rx="1.9" ry="1.8" transform="rotate(53 347.5 31.3)" fill="#C8B0DE" fill-opacity="0.85" /><ellipse cx="288.8" cy="72.9" rx="2.8" ry="2.1" transform="rotate(33 288.8 72.9)" fill="#C8B0DE" fill-opacity="0.85" /><ellipse cx="330.9" cy="72.1" rx="3.0" ry="2.5" transform="rotate(24 330.9 72.1)" fill="#C8B0DE" fill-opacity="0.85" /><ellipse cx="345.4" cy="71.0" rx="2.4" ry="2.0" transform="rotate(62 345.4 71.0)" fill="#C8B0DE" fill-opacity="0.85" /><ellipse cx="310.8" cy="50.6" rx="2.7" ry="2.6" transform="rotate(70 310.8 50.6)" fill="#C8B0DE" fill-opacity="0.85" /><ellipse cx="288.4" cy="93.2" rx="2.1" ry="1.5" transform="rotate(81 288.4 93.2)" fill="#C8B0DE" fill-opacity="0.85" /><ellipse cx="304.2" cy="81.9" rx="3.0" ry="2.7" transform="rotate(113 304.2 81.9)" fill="#C8B0DE" fill-opacity="0.85" /><ellipse cx="264.1" cy="84.3" rx="2.4" ry="1.8" transform="rotate(94 264.1 84.3)" fill="#C8B0DE" fill-opacity="0.85" /><ellipse cx="283.0" cy="65.9" rx="2.5" ry="2.0" transform="rotate(91 283.0 65.9)" fill="#C8B0DE" fill-opacity="0.85" /><ellipse cx="288.4" cy="89.7" rx="2.2" ry="1.7" transform="rotate(46 288.4 89.7)" fill="#C8B0DE" fill-opacity="0.85" /><ellipse cx="352.4" cy="34.5" rx="3.0" ry="3.0" transform="rotate(30 352.4 34.5)" fill="#C8B0DE" fill-opacity="0.85" /><ellipse cx="351.1" cy="78.4" rx="2.4" ry="2.2" transform="rotate(81 351.1 78.4)" fill="#C8B0DE" fill-opacity="0.85" /><ellipse cx="317.3" cy="26.3" rx="1.4" ry="1.2" transform="rotate(163 317.3 26.3)" fill="#C8B0DE" fill-opacity="0.85" /><ellipse cx="276.5" cy="82.8" rx="3.2" ry="3.2" transform="rotate(29 276.5 82.8)" fill="#C8B0DE" fill-opacity="0.85" /><ellipse cx="265.6" cy="26.3" rx="2.0" ry="1.5" transform="rotate(3 265.6 26.3)" fill="#C8B0DE" fill-opacity="0.85" /><ellipse cx="350.2" cy="39.0" rx="2.5" ry="2.3" transform="rotate(145 350.2 39.0)" fill="#C8B0DE" fill-opacity="0.85" /><ellipse cx="289.6" cy="55.7" rx="1.6" ry="1.2" transform="rotate(56 289.6 55.7)" fill="#C8B0DE" fill-opacity="0.85" /><ellipse cx="283.1" cy="59.5" rx="2.0" ry="1.9" transform="rotate(2 283.1 59.5)" fill="#C8B0DE" fill-opacity="0.85" /><ellipse cx="248.0" cy="9.9" rx="3.0" ry="2.7" transform="rotate(172 248.0 9.9)" fill="#C8B0DE" fill-opacity="0.85" /><ellipse cx="271.4" cy="92.5" rx="1.8" ry="1.7" transform="rotate(144 271.4 92.5)" fill="#C8B0DE" fill-opacity="0.85" /><ellipse cx="274.7" cy="50.1" rx="1.5" ry="1.5" transform="rotate(163 274.7 50.1)" fill="#C8B0DE" fill-opacity="0.85" /><ellipse cx="311.5" cy="79.7" rx="3.0" ry="3.0" transform="rotate(81 311.5 79.7)" fill="#C8B0DE" fill-opacity="0.85" /><ellipse cx="264.9" cy="55.2" rx="2.5" ry="2.2" transform="rotate(7 264.9 55.2)" fill="#C8B0DE" fill-opacity="0.85" /><ellipse cx="317.8" cy="92.7" rx="2.6" ry="2.2" transform="rotate(146 317.8 92.7)" fill="#C8B0DE" fill-opacity="0.85" /><ellipse cx="262.8" cy="90.2" rx="2.2" ry="1.7" transform="rotate(112 262.8 90.2)" fill="#C8B0DE" fill-opacity="0.85" /><ellipse cx="340.6" cy="72.5" rx="2.5" ry="1.8" transform="rotate(18 340.6 72.5)" fill="#C8B0DE" fill-opacity="0.85" /><ellipse cx="308.1" cy="95.9" rx="2.6" ry="1.9" transform="rotate(81 308.1 95.9)" fill="#C8B0DE" fill-opacity="0.85" /><ellipse cx="300.3" cy="49.3" rx="2.5" ry="2.4" transform="rotate(52 300.3 49.3)" fill="#C8B0DE" fill-opacity="0.85" /><ellipse cx="259.2" cy="37.8" rx="3.1" ry="2.4" transform="rotate(167 259.2 37.8)" fill="#C8B0DE" fill-opacity="0.85" /><ellipse cx="285.7" cy="85.2" rx="1.5" ry="1.1" transform="rotate(33 285.7 85.2)" fill="#C8B0DE" fill-opacity="0.85" /><ellipse cx="329.1" cy="99.2" rx="3.1" ry="3.1" transform="rotate(178 329.1 99.2)" fill="#C8B0DE" fill-opacity="0.85" /><ellipse cx="308.3" cy="18.3" rx="2.9" ry="2.3" transform="rotate(90 308.3 18.3)" fill="#C8B0DE" fill-opacity="0.85" /><ellipse cx="251.2" cy="6.2" rx="1.9" ry="1.7" transform="rotate(172 251.2 6.2)" fill="#C8B0DE" fill-opacity="0.85" /><ellipse cx="337.5" cy="94.6" rx="2.6" ry="2.2" transform="rotate(15 337.5 94.6)" fill="#C8B0DE" fill-opacity="0.85" /><ellipse cx="254.2" cy="77.2" rx="1.8" ry="1.5" transform="rotate(1 254.2 77.2)" fill="#C8B0DE" fill-opacity="0.85" /><ellipse cx="309.2" cy="46.8" rx="1.5" ry="1.2" transform="rotate(62 309.2 46.8)" fill="#C8B0DE" fill-opacity="0.85" /><ellipse cx="325.2" cy="20.4" rx="2.2" ry="2.2" transform="rotate(21 325.2 20.4)" fill="#C8B0DE" fill-opacity="0.85" /><ellipse cx="256.1" cy="22.8" rx="1.8" ry="1.3" transform="rotate(38 256.1 22.8)" fill="#C8B0DE" fill-opacity="0.85" /><ellipse cx="272.0" cy="50.3" rx="2.6" ry="1.9" transform="rotate(17 272.0 50.3)" fill="#C8B0DE" fill-opacity="0.85" /><ellipse cx="276.4" cy="20.8" rx="2.3" ry="2.1" transform="rotate(37 276.4 20.8)" fill="#C8B0DE" fill-opacity="0.85" /><ellipse cx="251.3" cy="10.9" rx="2.2" ry="2.0" transform="rotate(15 251.3 10.9)" fill="#C8B0DE" fill-opacity="0.85" /><ellipse cx="275.4" cy="70.1" rx="2.4" ry="2.4" transform="rotate(20 275.4 70.1)" fill="#C8B0DE" fill-opacity="0.85" /><ellipse cx="268.9" cy="58.6" rx="2.4" ry="2.4" transform="rotate(106 268.9 58.6)" fill="#C8B0DE" fill-opacity="0.85" /><ellipse cx="331.0" cy="71.2" rx="1.6" ry="1.3" transform="rotate(65 331.0 71.2)" fill="#C8B0DE" fill-opacity="0.85" /><ellipse cx="264.6" cy="5.2" rx="3.0" ry="2.7" transform="rotate(52 264.6 5.2)" fill="#C8B0DE" fill-opacity="0.85" /><ellipse cx="293.4" cy="21.3" rx="2.5" ry="2.3" transform="rotate(168 293.4 21.3)" fill="#C8B0DE" fill-opacity="0.85" /><ellipse cx="276.1" cy="71.6" rx="1.6" ry="1.2" transform="rotate(97 276.1 71.6)" fill="#C8B0DE" fill-opacity="0.85" /><ellipse cx="307.1" cy="37.6" rx="2.0" ry="1.7" transform="rotate(73 307.1 37.6)" fill="#C8B0DE" fill-opacity="0.85" /><ellipse cx="259.8" cy="31.4" rx="2.9" ry="2.4" transform="rotate(157 259.8 31.4)" fill="#C8B0DE" fill-opacity="0.85" /><ellipse cx="343.6" cy="25.3" rx="1.9" ry="1.5" transform="rotate(172 343.6 25.3)" fill="#C8B0DE" fill-opacity="0.85" /><ellipse cx="287.6" cy="74.4" rx="2.7" ry="2.6" transform="rotate(59 287.6 74.4)" fill="#C8B0DE" fill-opacity="0.85" /><ellipse cx="259.5" cy="9.2" rx="2.2" ry="1.7" transform="rotate(152 259.5 9.2)" fill="#C8B0DE" fill-opacity="0.85" /><ellipse cx="276.9" cy="85.6" rx="1.4" ry="1.1" transform="rotate(81 276.9 85.6)" fill="#C8B0DE" fill-opacity="0.85" /><ellipse cx="286.0" cy="42.2" rx="2.9" ry="2.6" transform="rotate(70 286.0 42.2)" fill="#C8B0DE" fill-opacity="0.85" /><ellipse cx="336.4" cy="52.5" rx="2.8" ry="2.4" transform="rotate(78 336.4 52.5)" fill="#C8B0DE" fill-opacity="0.85" /><ellipse cx="276.4" cy="91.8" rx="2.8" ry="2.1" transform="rotate(79 276.4 91.8)" fill="#C8B0DE" fill-opacity="0.85" /><ellipse cx="344.7" cy="28.0" rx="2.9" ry="2.2" transform="rotate(68 344.7 28.0)" fill="#C8B0DE" fill-opacity="0.85" /><ellipse cx="255.8" cy="68.9" rx="2.7" ry="2.1" transform="rotate(138 255.8 68.9)" fill="#C8B0DE" fill-opacity="0.85" /><ellipse cx="269.5" cy="55.8" rx="2.9" ry="2.1" transform="rotate(164 269.5 55.8)" fill="#C8B0DE" fill-opacity="0.85" /><ellipse cx="329.6" cy="58.5" rx="2.0" ry="1.6" transform="rotate(21 329.6 58.5)" fill="#C8B0DE" fill-opacity="0.85" /><ellipse cx="260.8" cy="8.7" rx="1.7" ry="1.5" transform="rotate(104 260.8 8.7)" fill="#C8B0DE" fill-opacity="0.85" /><ellipse cx="312.4" cy="83.1" rx="1.6" ry="1.1" transform="rotate(75 312.4 83.1)" fill="#C8B0DE" fill-opacity="0.85" /><ellipse cx="256.1" cy="10.8" rx="1.6" ry="1.5" transform="rotate(51 256.1 10.8)" fill="#C8B0DE" fill-opacity="0.85" /><ellipse cx="329.1" cy="26.7" rx="1.9" ry="1.4" transform="rotate(81 329.1 26.7)" fill="#C8B0DE" fill-opacity="0.85" /><ellipse cx="311.7" cy="83.4" rx="1.5" ry="1.3" transform="rotate(104 311.7 83.4)" fill="#C8B0DE" fill-opacity="0.85" /><ellipse cx="253.0" cy="88.7" rx="1.9" ry="1.6" transform="rotate(164 253.0 88.7)" fill="#C8B0DE" fill-opacity="0.85" /><ellipse cx="313.6" cy="99.4" rx="1.8" ry="1.6" transform="rotate(92 313.6 99.4)" fill="#C8B0DE" fill-opacity="0.85" /><ellipse cx="316.5" cy="57.1" rx="2.0" ry="1.4" transform="rotate(86 316.5 57.1)" fill="#C8B0DE" fill-opacity="0.85" /><ellipse cx="297.3" cy="24.8" rx="2.4" ry="1.8" transform="rotate(53 297.3 24.8)" fill="#C8B0DE" fill-opacity="0.85" /><ellipse cx="254.2" cy="61.6" rx="1.5" ry="1.3" transform="rotate(81 254.2 61.6)" fill="#C8B0DE" fill-opacity="0.85" /><ellipse cx="251.0" cy="95.2" rx="1.8" ry="1.4" transform="rotate(107 251.0 95.2)" fill="#C8B0DE" fill-opacity="0.85" /><ellipse cx="286.2" cy="34.9" rx="2.3" ry="2.0" transform="rotate(124 286.2 34.9)" fill="#C8B0DE" fill-opacity="0.85" /><ellipse cx="277.0" cy="13.2" rx="1.8" ry="1.6" transform="rotate(75 277.0 13.2)" fill="#C8B0DE" fill-opacity="0.85" /><ellipse cx="281.7" cy="13.8" rx="2.5" ry="2.1" transform="rotate(124 281.7 13.8)" fill="#C8B0DE" fill-opacity="0.85" /><ellipse cx="316.0" cy="19.7" rx="2.0" ry="1.5" transform="rotate(122 316.0 19.7)" fill="#C8B0DE" fill-opacity="0.85" /></g>
</g>
<g clip-path="url(#cCD)">
<rect x="357.5" y="4.4" width="106.3" height="95.8" fill="#030008" />
<rect x="357.5" y="4.4" width="106.3" height="95.8" filter="url(#cCDn1)"/>
<g filter="url(#bl05)"><ellipse cx="384.2" cy="95.1" rx="2.7" ry="2.0" transform="rotate(63 384.2 95.1)" fill="#02010A" fill-opacity="0.90" /><ellipse cx="382.0" cy="68.6" rx="2.5" ry="2.4" transform="rotate(154 382.0 68.6)" fill="#02010A" fill-opacity="0.90" /><ellipse cx="357.8" cy="56.3" rx="2.5" ry="1.9" transform="rotate(75 357.8 56.3)" fill="#02010A" fill-opacity="0.90" /><ellipse cx="405.7" cy="49.2" rx="4.6" ry="3.6" transform="rotate(34 405.7 49.2)" fill="#02010A" fill-opacity="0.90" /><ellipse cx="428.8" cy="95.1" rx="4.6" ry="4.4" transform="rotate(12 428.8 95.1)" fill="#02010A" fill-opacity="0.90" /><ellipse cx="457.1" cy="66.6" rx="4.5" ry="3.7" transform="rotate(39 457.1 66.6)" fill="#02010A" fill-opacity="0.90" /><ellipse cx="441.8" cy="67.8" rx="4.2" ry="3.2" transform="rotate(24 441.8 67.8)" fill="#02010A" fill-opacity="0.90" /><ellipse cx="438.7" cy="6.3" rx="4.7" ry="3.4" transform="rotate(108 438.7 6.3)" fill="#02010A" fill-opacity="0.90" /><ellipse cx="402.0" cy="35.4" rx="2.6" ry="2.5" transform="rotate(165 402.0 35.4)" fill="#02010A" fill-opacity="0.90" /><ellipse cx="435.0" cy="61.9" rx="4.0" ry="3.5" transform="rotate(100 435.0 61.9)" fill="#02010A" fill-opacity="0.90" /><ellipse cx="453.8" cy="31.5" rx="2.8" ry="2.7" transform="rotate(170 453.8 31.5)" fill="#02010A" fill-opacity="0.90" /><ellipse cx="408.1" cy="81.1" rx="4.1" ry="4.1" transform="rotate(15 408.1 81.1)" fill="#02010A" fill-opacity="0.90" /><ellipse cx="453.0" cy="52.3" rx="3.4" ry="3.1" transform="rotate(111 453.0 52.3)" fill="#02010A" fill-opacity="0.90" /><ellipse cx="403.9" cy="32.3" rx="4.6" ry="4.3" transform="rotate(18 403.9 32.3)" fill="#02010A" fill-opacity="0.90" /><ellipse cx="400.5" cy="77.5" rx="4.5" ry="4.4" transform="rotate(43 400.5 77.5)" fill="#02010A" fill-opacity="0.90" /><ellipse cx="452.3" cy="71.0" rx="2.4" ry="1.8" transform="rotate(34 452.3 71.0)" fill="#02010A" fill-opacity="0.90" /><ellipse cx="365.7" cy="70.3" rx="3.0" ry="2.7" transform="rotate(15 365.7 70.3)" fill="#02010A" fill-opacity="0.90" /><ellipse cx="450.1" cy="71.0" rx="4.2" ry="3.7" transform="rotate(82 450.1 71.0)" fill="#02010A" fill-opacity="0.90" /><ellipse cx="378.0" cy="94.7" rx="2.6" ry="2.2" transform="rotate(22 378.0 94.7)" fill="#02010A" fill-opacity="0.90" /><ellipse cx="369.0" cy="71.1" rx="4.5" ry="3.8" transform="rotate(143 369.0 71.1)" fill="#02010A" fill-opacity="0.90" /><ellipse cx="448.9" cy="55.7" rx="4.2" ry="3.3" transform="rotate(27 448.9 55.7)" fill="#02010A" fill-opacity="0.90" /><ellipse cx="377.6" cy="5.1" rx="2.4" ry="2.2" transform="rotate(163 377.6 5.1)" fill="#02010A" fill-opacity="0.90" /><ellipse cx="363.6" cy="73.5" rx="4.2" ry="3.8" transform="rotate(90 363.6 73.5)" fill="#02010A" fill-opacity="0.90" /><ellipse cx="409.1" cy="70.9" rx="2.8" ry="2.6" transform="rotate(35 409.1 70.9)" fill="#02010A" fill-opacity="0.90" /><ellipse cx="361.2" cy="93.9" rx="2.4" ry="1.8" transform="rotate(10 361.2 93.9)" fill="#02010A" fill-opacity="0.90" /><ellipse cx="358.6" cy="16.3" rx="4.6" ry="4.2" transform="rotate(73 358.6 16.3)" fill="#02010A" fill-opacity="0.90" /><ellipse cx="358.2" cy="83.8" rx="3.5" ry="3.3" transform="rotate(91 358.2 83.8)" fill="#02010A" fill-opacity="0.90" /><ellipse cx="365.8" cy="11.5" rx="4.3" ry="3.3" transform="rotate(27 365.8 11.5)" fill="#02010A" fill-opacity="0.90" /><ellipse cx="401.0" cy="29.5" rx="2.9" ry="2.7" transform="rotate(84 401.0 29.5)" fill="#02010A" fill-opacity="0.90" /><ellipse cx="463.4" cy="13.8" rx="3.0" ry="2.9" transform="rotate(78 463.4 13.8)" fill="#02010A" fill-opacity="0.90" /><ellipse cx="439.3" cy="45.9" rx="3.3" ry="3.1" transform="rotate(56 439.3 45.9)" fill="#02010A" fill-opacity="0.90" /><ellipse cx="415.6" cy="58.5" rx="2.3" ry="1.7" transform="rotate(42 415.6 58.5)" fill="#02010A" fill-opacity="0.90" /></g>
<g filter="url(#bl05)"><ellipse cx="357.8" cy="69.9" rx="2.9" ry="2.4" transform="rotate(7 357.8 69.9)" fill="#1C34F5" fill-opacity="0.95" /><ellipse cx="400.1" cy="85.0" rx="1.8" ry="1.6" transform="rotate(39 400.1 85.0)" fill="#1C34F5" fill-opacity="0.95" /><ellipse cx="388.9" cy="21.6" rx="2.8" ry="2.1" transform="rotate(52 388.9 21.6)" fill="#1C34F5" fill-opacity="0.95" /><ellipse cx="383.5" cy="98.9" rx="2.9" ry="2.5" transform="rotate(104 383.5 98.9)" fill="#1C34F5" fill-opacity="0.95" /><ellipse cx="461.8" cy="41.3" rx="1.8" ry="1.3" transform="rotate(36 461.8 41.3)" fill="#1C34F5" fill-opacity="0.95" /><ellipse cx="421.5" cy="29.1" rx="3.4" ry="2.5" transform="rotate(145 421.5 29.1)" fill="#0A1490" fill-opacity="0.95" /><ellipse cx="427.8" cy="99.5" rx="2.1" ry="1.7" transform="rotate(36 427.8 99.5)" fill="#0A1490" fill-opacity="0.95" /><ellipse cx="385.1" cy="94.3" rx="2.7" ry="2.6" transform="rotate(154 385.1 94.3)" fill="#1C34F5" fill-opacity="0.95" /><ellipse cx="452.8" cy="6.6" rx="3.7" ry="3.6" transform="rotate(145 452.8 6.6)" fill="#1C34F5" fill-opacity="0.95" /><ellipse cx="453.0" cy="89.3" rx="3.0" ry="2.7" transform="rotate(6 453.0 89.3)" fill="#1C34F5" fill-opacity="0.95" /><ellipse cx="394.7" cy="31.5" rx="2.3" ry="2.2" transform="rotate(162 394.7 31.5)" fill="#0A1490" fill-opacity="0.95" /><ellipse cx="423.4" cy="78.4" rx="2.0" ry="1.8" transform="rotate(82 423.4 78.4)" fill="#1C34F5" fill-opacity="0.95" /><ellipse cx="410.1" cy="79.6" rx="2.1" ry="2.0" transform="rotate(14 410.1 79.6)" fill="#0A1490" fill-opacity="0.95" /><ellipse cx="402.6" cy="92.2" rx="2.2" ry="1.7" transform="rotate(98 402.6 92.2)" fill="#1C34F5" fill-opacity="0.95" /><ellipse cx="368.3" cy="9.6" rx="2.0" ry="2.0" transform="rotate(24 368.3 9.6)" fill="#0A1490" fill-opacity="0.95" /><ellipse cx="416.9" cy="69.6" rx="1.8" ry="1.7" transform="rotate(123 416.9 69.6)" fill="#0A1490" fill-opacity="0.95" /><ellipse cx="408.6" cy="80.1" rx="3.3" ry="2.6" transform="rotate(177 408.6 80.1)" fill="#1C34F5" fill-opacity="0.95" /><ellipse cx="409.0" cy="43.9" rx="3.6" ry="3.3" transform="rotate(145 409.0 43.9)" fill="#0A1490" fill-opacity="0.95" /><ellipse cx="446.2" cy="69.8" rx="3.7" ry="3.5" transform="rotate(150 446.2 69.8)" fill="#0A1490" fill-opacity="0.95" /><ellipse cx="362.4" cy="99.2" rx="3.2" ry="3.0" transform="rotate(128 362.4 99.2)" fill="#1C34F5" fill-opacity="0.95" /><ellipse cx="410.5" cy="33.4" rx="2.8" ry="2.3" transform="rotate(112 410.5 33.4)" fill="#1C34F5" fill-opacity="0.95" /><ellipse cx="433.5" cy="56.5" rx="3.5" ry="3.4" transform="rotate(107 433.5 56.5)" fill="#0A1490" fill-opacity="0.95" /><ellipse cx="384.0" cy="8.8" rx="2.9" ry="2.0" transform="rotate(26 384.0 8.8)" fill="#1C34F5" fill-opacity="0.95" /><ellipse cx="460.3" cy="76.4" rx="3.5" ry="2.9" transform="rotate(105 460.3 76.4)" fill="#1C34F5" fill-opacity="0.95" /><ellipse cx="400.3" cy="7.4" rx="2.6" ry="2.1" transform="rotate(166 400.3 7.4)" fill="#1C34F5" fill-opacity="0.95" /><ellipse cx="456.6" cy="7.2" rx="2.5" ry="2.1" transform="rotate(176 456.6 7.2)" fill="#1C34F5" fill-opacity="0.95" /><ellipse cx="389.6" cy="90.4" rx="2.4" ry="1.7" transform="rotate(153 389.6 90.4)" fill="#0A1490" fill-opacity="0.95" /><ellipse cx="447.0" cy="58.4" rx="2.3" ry="1.7" transform="rotate(50 447.0 58.4)" fill="#1C34F5" fill-opacity="0.95" /><ellipse cx="412.3" cy="54.4" rx="2.6" ry="2.0" transform="rotate(141 412.3 54.4)" fill="#0A1490" fill-opacity="0.95" /><ellipse cx="449.2" cy="38.4" rx="1.8" ry="1.7" transform="rotate(87 449.2 38.4)" fill="#0A1490" fill-opacity="0.95" /><ellipse cx="455.9" cy="29.3" rx="3.2" ry="2.6" transform="rotate(140 455.9 29.3)" fill="#1C34F5" fill-opacity="0.95" /><ellipse cx="368.8" cy="33.9" rx="2.7" ry="2.5" transform="rotate(10 368.8 33.9)" fill="#0A1490" fill-opacity="0.95" /><ellipse cx="424.0" cy="17.6" rx="2.5" ry="1.9" transform="rotate(19 424.0 17.6)" fill="#0A1490" fill-opacity="0.95" /><ellipse cx="456.1" cy="24.8" rx="2.9" ry="2.8" transform="rotate(135 456.1 24.8)" fill="#1C34F5" fill-opacity="0.95" /><ellipse cx="442.5" cy="14.2" rx="2.4" ry="1.9" transform="rotate(19 442.5 14.2)" fill="#0A1490" fill-opacity="0.95" /><ellipse cx="448.5" cy="30.2" rx="2.9" ry="2.1" transform="rotate(89 448.5 30.2)" fill="#1C34F5" fill-opacity="0.95" /><ellipse cx="425.4" cy="78.1" rx="3.6" ry="3.2" transform="rotate(56 425.4 78.1)" fill="#1C34F5" fill-opacity="0.95" /><ellipse cx="452.4" cy="37.4" rx="1.8" ry="1.3" transform="rotate(115 452.4 37.4)" fill="#1C34F5" fill-opacity="0.95" /><ellipse cx="374.4" cy="48.1" rx="2.4" ry="1.9" transform="rotate(43 374.4 48.1)" fill="#0A1490" fill-opacity="0.95" /><ellipse cx="388.1" cy="22.6" rx="3.0" ry="2.7" transform="rotate(21 388.1 22.6)" fill="#1C34F5" fill-opacity="0.95" /><ellipse cx="442.7" cy="56.4" rx="3.6" ry="2.6" transform="rotate(108 442.7 56.4)" fill="#0A1490" fill-opacity="0.95" /><ellipse cx="384.5" cy="70.9" rx="2.0" ry="1.8" transform="rotate(103 384.5 70.9)" fill="#1C34F5" fill-opacity="0.95" /><ellipse cx="389.6" cy="75.8" rx="3.6" ry="2.6" transform="rotate(71 389.6 75.8)" fill="#1C34F5" fill-opacity="0.95" /><ellipse cx="400.9" cy="42.0" rx="3.6" ry="2.6" transform="rotate(3 400.9 42.0)" fill="#1C34F5" fill-opacity="0.95" /><ellipse cx="408.8" cy="30.2" rx="2.7" ry="2.1" transform="rotate(23 408.8 30.2)" fill="#1C34F5" fill-opacity="0.95" /><ellipse cx="454.5" cy="22.1" rx="2.3" ry="2.1" transform="rotate(43 454.5 22.1)" fill="#1C34F5" fill-opacity="0.95" /><ellipse cx="437.0" cy="45.5" rx="3.4" ry="3.1" transform="rotate(13 437.0 45.5)" fill="#1C34F5" fill-opacity="0.95" /><ellipse cx="395.1" cy="35.2" rx="2.5" ry="2.0" transform="rotate(175 395.1 35.2)" fill="#1C34F5" fill-opacity="0.95" /><ellipse cx="366.2" cy="51.9" rx="3.5" ry="2.9" transform="rotate(94 366.2 51.9)" fill="#1C34F5" fill-opacity="0.95" /><ellipse cx="371.7" cy="23.6" rx="3.1" ry="2.4" transform="rotate(87 371.7 23.6)" fill="#1C34F5" fill-opacity="0.95" /><ellipse cx="462.3" cy="24.0" rx="3.3" ry="2.8" transform="rotate(29 462.3 24.0)" fill="#0A1490" fill-opacity="0.95" /><ellipse cx="407.8" cy="79.5" rx="3.0" ry="2.6" transform="rotate(1 407.8 79.5)" fill="#0A1490" fill-opacity="0.95" /><ellipse cx="360.9" cy="80.8" rx="2.8" ry="2.6" transform="rotate(116 360.9 80.8)" fill="#0A1490" fill-opacity="0.95" /><ellipse cx="420.6" cy="78.7" rx="2.0" ry="1.8" transform="rotate(94 420.6 78.7)" fill="#1C34F5" fill-opacity="0.95" /><ellipse cx="375.2" cy="35.5" rx="2.0" ry="1.5" transform="rotate(117 375.2 35.5)" fill="#0A1490" fill-opacity="0.95" /><ellipse cx="375.5" cy="16.6" rx="1.8" ry="1.7" transform="rotate(164 375.5 16.6)" fill="#1C34F5" fill-opacity="0.95" /><ellipse cx="414.7" cy="87.2" rx="3.0" ry="2.3" transform="rotate(46 414.7 87.2)" fill="#0A1490" fill-opacity="0.95" /><ellipse cx="386.2" cy="82.9" rx="3.6" ry="3.5" transform="rotate(1 386.2 82.9)" fill="#0A1490" fill-opacity="0.95" /><ellipse cx="374.7" cy="19.0" rx="2.4" ry="1.9" transform="rotate(28 374.7 19.0)" fill="#1C34F5" fill-opacity="0.95" /><ellipse cx="413.3" cy="67.4" rx="3.3" ry="3.3" transform="rotate(47 413.3 67.4)" fill="#1C34F5" fill-opacity="0.95" /><ellipse cx="401.9" cy="90.7" rx="2.0" ry="1.6" transform="rotate(16 401.9 90.7)" fill="#1C34F5" fill-opacity="0.95" /><ellipse cx="362.2" cy="24.3" rx="2.7" ry="2.1" transform="rotate(170 362.2 24.3)" fill="#1C34F5" fill-opacity="0.95" /><ellipse cx="409.1" cy="30.8" rx="3.7" ry="2.9" transform="rotate(152 409.1 30.8)" fill="#0A1490" fill-opacity="0.95" /><ellipse cx="361.5" cy="34.8" rx="3.6" ry="2.6" transform="rotate(16 361.5 34.8)" fill="#1C34F5" fill-opacity="0.95" /><ellipse cx="457.6" cy="40.9" rx="3.5" ry="3.0" transform="rotate(43 457.6 40.9)" fill="#1C34F5" fill-opacity="0.95" /><ellipse cx="447.7" cy="80.5" rx="3.6" ry="3.4" transform="rotate(17 447.7 80.5)" fill="#1C34F5" fill-opacity="0.95" /><ellipse cx="422.6" cy="75.6" rx="3.2" ry="2.3" transform="rotate(111 422.6 75.6)" fill="#1C34F5" fill-opacity="0.95" /><ellipse cx="438.1" cy="55.9" rx="2.1" ry="1.6" transform="rotate(158 438.1 55.9)" fill="#1C34F5" fill-opacity="0.95" /><ellipse cx="429.8" cy="62.9" rx="3.1" ry="3.1" transform="rotate(2 429.8 62.9)" fill="#0A1490" fill-opacity="0.95" /><ellipse cx="362.4" cy="99.7" rx="2.4" ry="2.0" transform="rotate(143 362.4 99.7)" fill="#0A1490" fill-opacity="0.95" /><ellipse cx="437.3" cy="32.8" rx="3.2" ry="2.2" transform="rotate(92 437.3 32.8)" fill="#1C34F5" fill-opacity="0.95" /><ellipse cx="455.1" cy="99.8" rx="1.8" ry="1.3" transform="rotate(159 455.1 99.8)" fill="#1C34F5" fill-opacity="0.95" /><ellipse cx="399.7" cy="34.7" rx="2.6" ry="2.2" transform="rotate(15 399.7 34.7)" fill="#1C34F5" fill-opacity="0.95" /><ellipse cx="367.6" cy="30.0" rx="1.9" ry="1.5" transform="rotate(160 367.6 30.0)" fill="#0A1490" fill-opacity="0.95" /><ellipse cx="389.5" cy="99.5" rx="2.0" ry="1.8" transform="rotate(5 389.5 99.5)" fill="#1C34F5" fill-opacity="0.95" /><ellipse cx="415.9" cy="52.1" rx="3.3" ry="2.8" transform="rotate(5 415.9 52.1)" fill="#1C34F5" fill-opacity="0.95" /><ellipse cx="431.1" cy="97.0" rx="3.3" ry="3.0" transform="rotate(42 431.1 97.0)" fill="#0A1490" fill-opacity="0.95" /><ellipse cx="457.5" cy="12.3" rx="2.6" ry="2.4" transform="rotate(44 457.5 12.3)" fill="#0A1490" fill-opacity="0.95" /><ellipse cx="388.7" cy="56.2" rx="2.5" ry="1.9" transform="rotate(134 388.7 56.2)" fill="#1C34F5" fill-opacity="0.95" /><ellipse cx="406.1" cy="53.3" rx="1.9" ry="1.9" transform="rotate(152 406.1 53.3)" fill="#1C34F5" fill-opacity="0.95" /><ellipse cx="409.8" cy="67.0" rx="3.0" ry="2.2" transform="rotate(4 409.8 67.0)" fill="#1C34F5" fill-opacity="0.95" /><ellipse cx="436.7" cy="82.9" rx="1.8" ry="1.3" transform="rotate(158 436.7 82.9)" fill="#0A1490" fill-opacity="0.95" /><ellipse cx="411.0" cy="51.9" rx="3.7" ry="3.2" transform="rotate(153 411.0 51.9)" fill="#0A1490" fill-opacity="0.95" /><ellipse cx="405.2" cy="31.6" rx="3.3" ry="2.9" transform="rotate(49 405.2 31.6)" fill="#0A1490" fill-opacity="0.95" /><ellipse cx="462.1" cy="82.1" rx="2.0" ry="1.8" transform="rotate(8 462.1 82.1)" fill="#1C34F5" fill-opacity="0.95" /><ellipse cx="429.6" cy="12.5" rx="3.1" ry="2.9" transform="rotate(52 429.6 12.5)" fill="#1C34F5" fill-opacity="0.95" /><ellipse cx="418.8" cy="74.3" rx="1.8" ry="1.6" transform="rotate(155 418.8 74.3)" fill="#1C34F5" fill-opacity="0.95" /><ellipse cx="402.7" cy="96.0" rx="3.7" ry="3.0" transform="rotate(118 402.7 96.0)" fill="#1C34F5" fill-opacity="0.95" /><ellipse cx="426.6" cy="91.9" rx="2.1" ry="1.8" transform="rotate(54 426.6 91.9)" fill="#0A1490" fill-opacity="0.95" /><ellipse cx="398.7" cy="25.0" rx="2.3" ry="1.8" transform="rotate(160 398.7 25.0)" fill="#0A1490" fill-opacity="0.95" /><ellipse cx="428.4" cy="43.0" rx="2.5" ry="2.2" transform="rotate(55 428.4 43.0)" fill="#1C34F5" fill-opacity="0.95" /><ellipse cx="359.8" cy="58.8" rx="2.3" ry="2.3" transform="rotate(62 359.8 58.8)" fill="#0A1490" fill-opacity="0.95" /><ellipse cx="395.7" cy="98.9" rx="3.3" ry="2.5" transform="rotate(166 395.7 98.9)" fill="#0A1490" fill-opacity="0.95" /><ellipse cx="420.4" cy="49.4" rx="2.2" ry="2.0" transform="rotate(74 420.4 49.4)" fill="#1C34F5" fill-opacity="0.95" /><ellipse cx="438.6" cy="70.9" rx="2.3" ry="1.7" transform="rotate(90 438.6 70.9)" fill="#1C34F5" fill-opacity="0.95" /><ellipse cx="411.9" cy="75.8" rx="3.2" ry="2.3" transform="rotate(23 411.9 75.8)" fill="#1C34F5" fill-opacity="0.95" /><ellipse cx="423.4" cy="87.7" rx="1.8" ry="1.6" transform="rotate(122 423.4 87.7)" fill="#0A1490" fill-opacity="0.95" /><ellipse cx="360.2" cy="43.1" rx="3.6" ry="2.7" transform="rotate(71 360.2 43.1)" fill="#1C34F5" fill-opacity="0.95" /><ellipse cx="408.7" cy="8.7" rx="1.9" ry="1.3" transform="rotate(43 408.7 8.7)" fill="#1C34F5" fill-opacity="0.95" /><ellipse cx="385.9" cy="27.9" rx="3.5" ry="3.2" transform="rotate(34 385.9 27.9)" fill="#1C34F5" fill-opacity="0.95" /><ellipse cx="455.7" cy="75.4" rx="2.1" ry="1.8" transform="rotate(1 455.7 75.4)" fill="#1C34F5" fill-opacity="0.95" /><ellipse cx="449.6" cy="28.7" rx="3.1" ry="2.6" transform="rotate(67 449.6 28.7)" fill="#1C34F5" fill-opacity="0.95" /><ellipse cx="433.4" cy="30.8" rx="1.9" ry="1.4" transform="rotate(178 433.4 30.8)" fill="#1C34F5" fill-opacity="0.95" /><ellipse cx="393.9" cy="89.7" rx="2.7" ry="2.3" transform="rotate(32 393.9 89.7)" fill="#0A1490" fill-opacity="0.95" /><ellipse cx="383.1" cy="44.0" rx="1.9" ry="1.4" transform="rotate(85 383.1 44.0)" fill="#1C34F5" fill-opacity="0.95" /><ellipse cx="415.3" cy="96.3" rx="2.5" ry="2.2" transform="rotate(111 415.3 96.3)" fill="#0A1490" fill-opacity="0.95" /><ellipse cx="446.9" cy="56.2" rx="3.6" ry="3.0" transform="rotate(133 446.9 56.2)" fill="#0A1490" fill-opacity="0.95" /><ellipse cx="374.6" cy="27.1" rx="3.5" ry="3.4" transform="rotate(30 374.6 27.1)" fill="#1C34F5" fill-opacity="0.95" /><ellipse cx="408.6" cy="22.2" rx="3.2" ry="2.5" transform="rotate(30 408.6 22.2)" fill="#1C34F5" fill-opacity="0.95" /><ellipse cx="457.6" cy="68.7" rx="2.9" ry="2.0" transform="rotate(19 457.6 68.7)" fill="#0A1490" fill-opacity="0.95" /><ellipse cx="448.0" cy="37.6" rx="3.2" ry="3.1" transform="rotate(178 448.0 37.6)" fill="#0A1490" fill-opacity="0.95" /><ellipse cx="451.6" cy="32.0" rx="3.3" ry="2.7" transform="rotate(149 451.6 32.0)" fill="#0A1490" fill-opacity="0.95" /><ellipse cx="403.3" cy="20.5" rx="2.9" ry="2.8" transform="rotate(17 403.3 20.5)" fill="#1C34F5" fill-opacity="0.95" /><ellipse cx="389.5" cy="40.7" rx="1.9" ry="1.6" transform="rotate(4 389.5 40.7)" fill="#1C34F5" fill-opacity="0.95" /><ellipse cx="365.9" cy="52.4" rx="2.3" ry="1.6" transform="rotate(167 365.9 52.4)" fill="#0A1490" fill-opacity="0.95" /><ellipse cx="370.0" cy="9.0" rx="2.7" ry="2.4" transform="rotate(34 370.0 9.0)" fill="#0A1490" fill-opacity="0.95" /><ellipse cx="419.8" cy="53.2" rx="1.8" ry="1.7" transform="rotate(140 419.8 53.2)" fill="#1C34F5" fill-opacity="0.95" /><ellipse cx="392.3" cy="32.4" rx="2.5" ry="1.8" transform="rotate(29 392.3 32.4)" fill="#1C34F5" fill-opacity="0.95" /><ellipse cx="371.0" cy="66.0" rx="2.9" ry="2.3" transform="rotate(65 371.0 66.0)" fill="#0A1490" fill-opacity="0.95" /><ellipse cx="463.0" cy="35.1" rx="3.0" ry="2.8" transform="rotate(22 463.0 35.1)" fill="#1C34F5" fill-opacity="0.95" /></g>
</g>
<text x="250.6" y="18.1" font-size="11.5" textLength="14.4" lengthAdjust="spacingAndGlyphs" >HE</text>
<text x="360.7" y="17.8" font-size="11.5" fill="#fff" textLength="29" lengthAdjust="spacingAndGlyphs" >CD44</text>
<rect x="251.8" y="91" width="22.9" height="1.4" fill="#000" />
<rect x="362.2" y="92" width="22.7" height="1.4" fill="#fff" />
<text x="470.4" y="14.2" font-size="14" >d</text>
<g clip-path="url(#dHE)">
<rect x="484.5" y="4.4" width="96.4" height="96.3" fill="#EBB8DB" />
<rect x="484.5" y="4.4" width="96.4" height="96.3" filter="url(#dHEn1)" opacity="0.55"/>
<rect x="484.5" y="4.4" width="96.4" height="96.3" filter="url(#dHEn2)" opacity="0.5"/>
<g filter="url(#bl05)"><ellipse cx="559.8" cy="62.7" rx="4.3" ry="2.7" transform="rotate(114 559.8 62.7)" fill="#E08FC6" fill-opacity="0.70" /><ellipse cx="579.1" cy="45.2" rx="2.5" ry="2.3" transform="rotate(122 579.1 45.2)" fill="#E08FC6" fill-opacity="0.70" /><ellipse cx="503.5" cy="69.1" rx="5.2" ry="3.4" transform="rotate(154 503.5 69.1)" fill="#E08FC6" fill-opacity="0.70" /><ellipse cx="551.9" cy="25.7" rx="2.8" ry="2.4" transform="rotate(61 551.9 25.7)" fill="#E08FC6" fill-opacity="0.70" /><ellipse cx="527.1" cy="67.6" rx="3.5" ry="2.1" transform="rotate(47 527.1 67.6)" fill="#E08FC6" fill-opacity="0.70" /><ellipse cx="530.0" cy="77.7" rx="4.0" ry="2.9" transform="rotate(34 530.0 77.7)" fill="#E08FC6" fill-opacity="0.70" /><ellipse cx="560.1" cy="22.4" rx="4.4" ry="3.3" transform="rotate(99 560.1 22.4)" fill="#E08FC6" fill-opacity="0.70" /><ellipse cx="521.5" cy="23.9" rx="2.7" ry="2.1" transform="rotate(50 521.5 23.9)" fill="#E08FC6" fill-opacity="0.70" /><ellipse cx="485.9" cy="23.0" rx="5.0" ry="4.0" transform="rotate(104 485.9 23.0)" fill="#E08FC6" fill-opacity="0.70" /><ellipse cx="523.2" cy="83.2" rx="3.0" ry="2.4" transform="rotate(2 523.2 83.2)" fill="#E08FC6" fill-opacity="0.70" /><ellipse cx="546.7" cy="98.1" rx="4.3" ry="2.7" transform="rotate(106 546.7 98.1)" fill="#E08FC6" fill-opacity="0.70" /><ellipse cx="515.0" cy="93.0" rx="2.3" ry="1.4" transform="rotate(17 515.0 93.0)" fill="#E08FC6" fill-opacity="0.70" /><ellipse cx="517.2" cy="89.4" rx="3.9" ry="3.1" transform="rotate(8 517.2 89.4)" fill="#E08FC6" fill-opacity="0.70" /><ellipse cx="501.4" cy="41.1" rx="4.1" ry="3.4" transform="rotate(103 501.4 41.1)" fill="#E08FC6" fill-opacity="0.70" /><ellipse cx="511.4" cy="21.7" rx="3.5" ry="2.3" transform="rotate(137 511.4 21.7)" fill="#E08FC6" fill-opacity="0.70" /><ellipse cx="570.6" cy="81.8" rx="2.6" ry="2.1" transform="rotate(3 570.6 81.8)" fill="#E08FC6" fill-opacity="0.70" /><ellipse cx="497.5" cy="71.9" rx="3.2" ry="2.7" transform="rotate(124 497.5 71.9)" fill="#E08FC6" fill-opacity="0.70" /><ellipse cx="546.2" cy="62.2" rx="4.9" ry="4.2" transform="rotate(5 546.2 62.2)" fill="#E08FC6" fill-opacity="0.70" /><ellipse cx="579.4" cy="45.9" rx="1.3" ry="2.0" transform="rotate(165 579.4 45.9)" fill="#FFF6FB" fill-opacity="0.85" /><ellipse cx="559.0" cy="73.7" rx="0.8" ry="1.2" transform="rotate(146 559.0 73.7)" fill="#FFF6FB" fill-opacity="0.85" /><ellipse cx="580.7" cy="31.4" rx="2.2" ry="1.0" transform="rotate(135 580.7 31.4)" fill="#FFF6FB" fill-opacity="0.85" /><ellipse cx="518.9" cy="11.9" rx="1.1" ry="1.6" transform="rotate(85 518.9 11.9)" fill="#FFF6FB" fill-opacity="0.85" /><ellipse cx="550.8" cy="38.0" rx="1.9" ry="1.3" transform="rotate(138 550.8 38.0)" fill="#FFF6FB" fill-opacity="0.85" /><ellipse cx="485.1" cy="61.1" rx="1.9" ry="0.9" transform="rotate(138 485.1 61.1)" fill="#FFF6FB" fill-opacity="0.85" /><ellipse cx="545.7" cy="95.9" rx="1.1" ry="1.4" transform="rotate(156 545.7 95.9)" fill="#FFF6FB" fill-opacity="0.85" /><ellipse cx="575.5" cy="70.4" rx="1.4" ry="1.8" transform="rotate(82 575.5 70.4)" fill="#FFF6FB" fill-opacity="0.85" /><ellipse cx="536.0" cy="69.6" rx="2.5" ry="0.8" transform="rotate(126 536.0 69.6)" fill="#FFF6FB" fill-opacity="0.85" /><ellipse cx="572.7" cy="40.4" rx="1.2" ry="1.6" transform="rotate(5 572.7 40.4)" fill="#FFF6FB" fill-opacity="0.85" /><ellipse cx="562.1" cy="51.4" rx="2.0" ry="1.9" transform="rotate(4 562.1 51.4)" fill="#FFF6FB" fill-opacity="0.85" /><ellipse cx="502.8" cy="44.6" rx="1.9" ry="1.3" transform="rotate(50 502.8 44.6)" fill="#FFF6FB" fill-opacity="0.85" /><ellipse cx="486.9" cy="45.6" rx="2.5" ry="0.8" transform="rotate(108 486.9 45.6)" fill="#FFF6FB" fill-opacity="0.85" /><ellipse cx="504.2" cy="98.0" rx="2.3" ry="1.1" transform="rotate(175 504.2 98.0)" fill="#FFF6FB" fill-opacity="0.85" /><ellipse cx="514.5" cy="70.9" rx="1.3" ry="1.2" transform="rotate(11 514.5 70.9)" fill="#FFF6FB" fill-opacity="0.85" /><ellipse cx="512.8" cy="43.9" rx="0.8" ry="0.8" transform="rotate(2 512.8 43.9)" fill="#FFF6FB" fill-opacity="0.85" /><ellipse cx="569.3" cy="44.4" rx="2.4" ry="1.5" transform="rotate(101 569.3 44.4)" fill="#FFF6FB" fill-opacity="0.85" /><ellipse cx="520.3" cy="79.5" rx="1.4" ry="1.9" transform="rotate(70 520.3 79.5)" fill="#FFF6FB" fill-opacity="0.85" /><ellipse cx="496.8" cy="44.6" rx="0.9" ry="1.3" transform="rotate(70 496.8 44.6)" fill="#FFF6FB" fill-opacity="0.85" /><ellipse cx="552.7" cy="100.6" rx="1.1" ry="1.7" transform="rotate(151 552.7 100.6)" fill="#FFF6FB" fill-opacity="0.85" /><ellipse cx="550.2" cy="26.9" rx="1.6" ry="2.1" transform="rotate(94 550.2 26.9)" fill="#FFF6FB" fill-opacity="0.85" /><ellipse cx="549.7" cy="34.1" rx="2.2" ry="1.6" transform="rotate(142 549.7 34.1)" fill="#FFF6FB" fill-opacity="0.85" /><ellipse cx="511.5" cy="26.8" rx="1.1" ry="1.6" transform="rotate(14 511.5 26.8)" fill="#FFF6FB" fill-opacity="0.85" /><ellipse cx="517.8" cy="68.4" rx="1.3" ry="1.2" transform="rotate(42 517.8 68.4)" fill="#FFF6FB" fill-opacity="0.85" /><ellipse cx="530.1" cy="77.2" rx="1.3" ry="1.5" transform="rotate(178 530.1 77.2)" fill="#FFF6FB" fill-opacity="0.85" /><ellipse cx="532.8" cy="30.4" rx="2.3" ry="2.1" transform="rotate(134 532.8 30.4)" fill="#FFF6FB" fill-opacity="0.85" /><ellipse cx="515.9" cy="52.6" rx="1.4" ry="2.1" transform="rotate(2 515.9 52.6)" fill="#FFF6FB" fill-opacity="0.85" /><ellipse cx="568.8" cy="29.6" rx="1.1" ry="2.0" transform="rotate(143 568.8 29.6)" fill="#FFF6FB" fill-opacity="0.85" /><ellipse cx="488.4" cy="32.8" rx="1.0" ry="1.8" transform="rotate(163 488.4 32.8)" fill="#FFF6FB" fill-opacity="0.85" /><ellipse cx="512.6" cy="38.7" rx="0.9" ry="0.9" transform="rotate(12 512.6 38.7)" fill="#FFF6FB" fill-opacity="0.85" /><ellipse cx="554.3" cy="24.4" rx="1.6" ry="1.2" transform="rotate(94 554.3 24.4)" fill="#FFF6FB" fill-opacity="0.85" /><ellipse cx="538.0" cy="37.8" rx="1.3" ry="2.1" transform="rotate(168 538.0 37.8)" fill="#FFF6FB" fill-opacity="0.85" /><ellipse cx="529.5" cy="42.7" rx="1.7" ry="1.6" transform="rotate(172 529.5 42.7)" fill="#FFF6FB" fill-opacity="0.85" /><ellipse cx="526.3" cy="37.5" rx="2.5" ry="1.7" transform="rotate(24 526.3 37.5)" fill="#FFF6FB" fill-opacity="0.85" /><ellipse cx="537.2" cy="83.2" rx="1.8" ry="1.2" transform="rotate(65 537.2 83.2)" fill="#FFF6FB" fill-opacity="0.85" /><ellipse cx="554.8" cy="58.0" rx="0.8" ry="1.2" transform="rotate(133 554.8 58.0)" fill="#FFF6FB" fill-opacity="0.85" /><ellipse cx="490.4" cy="43.1" rx="1.8" ry="1.2" transform="rotate(123 490.4 43.1)" fill="#FFF6FB" fill-opacity="0.85" /><ellipse cx="490.8" cy="94.4" rx="2.2" ry="2.0" transform="rotate(94 490.8 94.4)" fill="#FFF6FB" fill-opacity="0.85" /><ellipse cx="529.4" cy="34.1" rx="1.0" ry="1.5" transform="rotate(56 529.4 34.1)" fill="#FFF6FB" fill-opacity="0.85" /><ellipse cx="567.8" cy="20.2" rx="0.9" ry="1.9" transform="rotate(176 567.8 20.2)" fill="#FFF6FB" fill-opacity="0.85" /><ellipse cx="526.1" cy="88.3" rx="2.1" ry="1.9" transform="rotate(106 526.1 88.3)" fill="#FFF6FB" fill-opacity="0.85" /><ellipse cx="533.3" cy="65.0" rx="2.2" ry="2.1" transform="rotate(160 533.3 65.0)" fill="#FFF6FB" fill-opacity="0.85" /><ellipse cx="555.2" cy="94.0" rx="0.8" ry="0.8" transform="rotate(46 555.2 94.0)" fill="#FFF6FB" fill-opacity="0.85" /><ellipse cx="485.1" cy="58.3" rx="1.2" ry="2.0" transform="rotate(17 485.1 58.3)" fill="#FFF6FB" fill-opacity="0.85" /><ellipse cx="559.0" cy="10.2" rx="2.5" ry="1.3" transform="rotate(50 559.0 10.2)" fill="#FFF6FB" fill-opacity="0.85" /></g>
<g filter="url(#bl05)"><ellipse cx="515.5" cy="72.3" rx="2.1" ry="1.6" transform="rotate(67 515.5 72.3)" fill="#A58ACD" fill-opacity="0.85" /><ellipse cx="531.4" cy="30.7" rx="2.2" ry="2.0" transform="rotate(45 531.4 30.7)" fill="#A58ACD" fill-opacity="0.85" /><ellipse cx="535.7" cy="26.8" rx="1.4" ry="1.1" transform="rotate(123 535.7 26.8)" fill="#A58ACD" fill-opacity="0.85" /><ellipse cx="507.8" cy="80.8" rx="1.2" ry="0.9" transform="rotate(38 507.8 80.8)" fill="#A58ACD" fill-opacity="0.85" /><ellipse cx="547.8" cy="39.0" rx="1.2" ry="1.0" transform="rotate(55 547.8 39.0)" fill="#7A55B2" fill-opacity="0.85" /><ellipse cx="571.5" cy="76.3" rx="1.6" ry="1.3" transform="rotate(78 571.5 76.3)" fill="#A58ACD" fill-opacity="0.85" /><ellipse cx="562.3" cy="91.3" rx="1.2" ry="1.1" transform="rotate(52 562.3 91.3)" fill="#7A55B2" fill-opacity="0.85" /><ellipse cx="517.1" cy="13.8" rx="2.1" ry="1.9" transform="rotate(17 517.1 13.8)" fill="#7A55B2" fill-opacity="0.85" /><ellipse cx="510.0" cy="93.6" rx="1.1" ry="0.9" transform="rotate(148 510.0 93.6)" fill="#A58ACD" fill-opacity="0.85" /><ellipse cx="516.6" cy="56.3" rx="2.1" ry="1.7" transform="rotate(163 516.6 56.3)" fill="#7A55B2" fill-opacity="0.85" /><ellipse cx="510.0" cy="59.1" rx="2.2" ry="2.1" transform="rotate(100 510.0 59.1)" fill="#A58ACD" fill-opacity="0.85" /><ellipse cx="549.2" cy="10.6" rx="2.2" ry="1.9" transform="rotate(96 549.2 10.6)" fill="#7A55B2" fill-opacity="0.85" /><ellipse cx="514.8" cy="96.7" rx="1.9" ry="1.4" transform="rotate(132 514.8 96.7)" fill="#7A55B2" fill-opacity="0.85" /><ellipse cx="546.3" cy="95.7" rx="1.7" ry="1.5" transform="rotate(27 546.3 95.7)" fill="#7A55B2" fill-opacity="0.85" /><ellipse cx="506.4" cy="59.7" rx="1.8" ry="1.3" transform="rotate(158 506.4 59.7)" fill="#A58ACD" fill-opacity="0.85" /><ellipse cx="523.6" cy="7.4" rx="1.5" ry="1.2" transform="rotate(63 523.6 7.4)" fill="#7A55B2" fill-opacity="0.85" /><ellipse cx="563.1" cy="45.3" rx="2.3" ry="1.6" transform="rotate(87 563.1 45.3)" fill="#7A55B2" fill-opacity="0.85" /><ellipse cx="554.8" cy="38.2" rx="1.3" ry="1.2" transform="rotate(104 554.8 38.2)" fill="#7A55B2" fill-opacity="0.85" /><ellipse cx="542.4" cy="42.5" rx="1.9" ry="1.3" transform="rotate(176 542.4 42.5)" fill="#A58ACD" fill-opacity="0.85" /><ellipse cx="526.2" cy="48.6" rx="1.6" ry="1.4" transform="rotate(109 526.2 48.6)" fill="#A58ACD" fill-opacity="0.85" /><ellipse cx="513.2" cy="28.9" rx="1.7" ry="1.2" transform="rotate(128 513.2 28.9)" fill="#7A55B2" fill-opacity="0.85" /><ellipse cx="498.5" cy="64.5" rx="2.2" ry="1.6" transform="rotate(84 498.5 64.5)" fill="#A58ACD" fill-opacity="0.85" /><ellipse cx="537.6" cy="37.7" rx="1.5" ry="1.1" transform="rotate(153 537.6 37.7)" fill="#A58ACD" fill-opacity="0.85" /><ellipse cx="559.8" cy="22.1" rx="1.5" ry="1.4" transform="rotate(0 559.8 22.1)" fill="#7A55B2" fill-opacity="0.85" /><ellipse cx="570.8" cy="9.8" rx="1.4" ry="1.4" transform="rotate(173 570.8 9.8)" fill="#7A55B2" fill-opacity="0.85" /><ellipse cx="526.3" cy="72.7" rx="1.1" ry="0.9" transform="rotate(99 526.3 72.7)" fill="#7A55B2" fill-opacity="0.85" /><ellipse cx="514.1" cy="68.5" rx="1.6" ry="1.4" transform="rotate(63 514.1 68.5)" fill="#7A55B2" fill-opacity="0.85" /><ellipse cx="533.6" cy="73.6" rx="1.8" ry="1.6" transform="rotate(36 533.6 73.6)" fill="#7A55B2" fill-opacity="0.85" /><ellipse cx="547.0" cy="75.7" rx="1.8" ry="1.5" transform="rotate(178 547.0 75.7)" fill="#A58ACD" fill-opacity="0.85" /><ellipse cx="569.9" cy="55.5" rx="1.4" ry="1.2" transform="rotate(26 569.9 55.5)" fill="#A58ACD" fill-opacity="0.85" /><ellipse cx="524.0" cy="15.8" rx="1.6" ry="1.2" transform="rotate(137 524.0 15.8)" fill="#7A55B2" fill-opacity="0.85" /><ellipse cx="514.7" cy="96.5" rx="1.9" ry="1.5" transform="rotate(25 514.7 96.5)" fill="#7A55B2" fill-opacity="0.85" /><ellipse cx="518.4" cy="57.8" rx="1.0" ry="0.8" transform="rotate(30 518.4 57.8)" fill="#7A55B2" fill-opacity="0.85" /><ellipse cx="499.3" cy="32.3" rx="1.8" ry="1.6" transform="rotate(89 499.3 32.3)" fill="#7A55B2" fill-opacity="0.85" /><ellipse cx="518.7" cy="96.9" rx="2.2" ry="1.9" transform="rotate(101 518.7 96.9)" fill="#7A55B2" fill-opacity="0.85" /><ellipse cx="518.0" cy="39.9" rx="2.3" ry="2.2" transform="rotate(63 518.0 39.9)" fill="#7A55B2" fill-opacity="0.85" /><ellipse cx="546.9" cy="57.0" rx="2.0" ry="1.4" transform="rotate(146 546.9 57.0)" fill="#7A55B2" fill-opacity="0.85" /><ellipse cx="570.4" cy="8.8" rx="2.1" ry="1.6" transform="rotate(45 570.4 8.8)" fill="#7A55B2" fill-opacity="0.85" /><ellipse cx="500.8" cy="54.8" rx="2.3" ry="2.1" transform="rotate(54 500.8 54.8)" fill="#7A55B2" fill-opacity="0.85" /><ellipse cx="497.4" cy="98.7" rx="2.2" ry="1.7" transform="rotate(98 497.4 98.7)" fill="#7A55B2" fill-opacity="0.85" /><ellipse cx="556.3" cy="34.0" rx="1.1" ry="0.9" transform="rotate(155 556.3 34.0)" fill="#7A55B2" fill-opacity="0.85" /><ellipse cx="486.4" cy="72.9" rx="1.8" ry="1.5" transform="rotate(7 486.4 72.9)" fill="#7A55B2" fill-opacity="0.85" /><ellipse cx="531.7" cy="78.5" rx="1.4" ry="1.3" transform="rotate(21 531.7 78.5)" fill="#7A55B2" fill-opacity="0.85" /><ellipse cx="525.0" cy="32.4" rx="1.3" ry="0.9" transform="rotate(92 525.0 32.4)" fill="#7A55B2" fill-opacity="0.85" /><ellipse cx="554.2" cy="25.1" rx="1.0" ry="1.0" transform="rotate(61 554.2 25.1)" fill="#A58ACD" fill-opacity="0.85" /><ellipse cx="566.4" cy="26.2" rx="1.3" ry="0.9" transform="rotate(64 566.4 26.2)" fill="#A58ACD" fill-opacity="0.85" /><ellipse cx="547.0" cy="29.6" rx="1.0" ry="0.8" transform="rotate(48 547.0 29.6)" fill="#A58ACD" fill-opacity="0.85" /><ellipse cx="534.6" cy="84.6" rx="1.5" ry="1.4" transform="rotate(174 534.6 84.6)" fill="#7A55B2" fill-opacity="0.85" /><ellipse cx="544.6" cy="83.1" rx="1.3" ry="0.9" transform="rotate(49 544.6 83.1)" fill="#7A55B2" fill-opacity="0.85" /><ellipse cx="507.0" cy="82.9" rx="2.3" ry="2.0" transform="rotate(178 507.0 82.9)" fill="#7A55B2" fill-opacity="0.85" /><ellipse cx="573.6" cy="24.7" rx="1.8" ry="1.2" transform="rotate(14 573.6 24.7)" fill="#A58ACD" fill-opacity="0.85" /><ellipse cx="554.2" cy="53.6" rx="1.9" ry="1.4" transform="rotate(141 554.2 53.6)" fill="#7A55B2" fill-opacity="0.85" /><ellipse cx="521.6" cy="51.6" rx="2.0" ry="1.5" transform="rotate(90 521.6 51.6)" fill="#7A55B2" fill-opacity="0.85" /><ellipse cx="547.4" cy="36.2" rx="1.7" ry="1.6" transform="rotate(45 547.4 36.2)" fill="#A58ACD" fill-opacity="0.85" /><ellipse cx="555.2" cy="25.1" rx="1.6" ry="1.3" transform="rotate(111 555.2 25.1)" fill="#A58ACD" fill-opacity="0.85" /><ellipse cx="510.5" cy="64.4" rx="1.6" ry="1.2" transform="rotate(70 510.5 64.4)" fill="#7A55B2" fill-opacity="0.85" /><ellipse cx="560.4" cy="20.9" rx="2.0" ry="2.0" transform="rotate(94 560.4 20.9)" fill="#A58ACD" fill-opacity="0.85" /><ellipse cx="533.8" cy="50.7" rx="1.7" ry="1.5" transform="rotate(102 533.8 50.7)" fill="#A58ACD" fill-opacity="0.85" /><ellipse cx="559.7" cy="34.1" rx="1.0" ry="0.8" transform="rotate(88 559.7 34.1)" fill="#A58ACD" fill-opacity="0.85" /><ellipse cx="530.0" cy="72.5" rx="1.3" ry="1.0" transform="rotate(130 530.0 72.5)" fill="#7A55B2" fill-opacity="0.85" /><ellipse cx="526.1" cy="100.4" rx="2.2" ry="1.6" transform="rotate(37 526.1 100.4)" fill="#A58ACD" fill-opacity="0.85" /><ellipse cx="557.9" cy="66.8" rx="1.4" ry="1.0" transform="rotate(176 557.9 66.8)" fill="#7A55B2" fill-opacity="0.85" /><ellipse cx="495.0" cy="81.7" rx="1.6" ry="1.2" transform="rotate(94 495.0 81.7)" fill="#A58ACD" fill-opacity="0.85" /><ellipse cx="529.8" cy="71.8" rx="1.2" ry="1.2" transform="rotate(38 529.8 71.8)" fill="#A58ACD" fill-opacity="0.85" /><ellipse cx="492.9" cy="56.2" rx="1.6" ry="1.6" transform="rotate(130 492.9 56.2)" fill="#A58ACD" fill-opacity="0.85" /><ellipse cx="554.2" cy="90.7" rx="1.8" ry="1.3" transform="rotate(49 554.2 90.7)" fill="#7A55B2" fill-opacity="0.85" /><ellipse cx="542.5" cy="27.2" rx="1.3" ry="1.3" transform="rotate(52 542.5 27.2)" fill="#A58ACD" fill-opacity="0.85" /><ellipse cx="575.0" cy="78.9" rx="1.5" ry="1.1" transform="rotate(141 575.0 78.9)" fill="#7A55B2" fill-opacity="0.85" /><ellipse cx="572.5" cy="80.9" rx="1.1" ry="0.9" transform="rotate(107 572.5 80.9)" fill="#A58ACD" fill-opacity="0.85" /><ellipse cx="512.7" cy="37.3" rx="1.4" ry="1.2" transform="rotate(89 512.7 37.3)" fill="#7A55B2" fill-opacity="0.85" /><ellipse cx="547.5" cy="41.8" rx="2.3" ry="2.1" transform="rotate(53 547.5 41.8)" fill="#A58ACD" fill-opacity="0.85" /><ellipse cx="573.2" cy="77.8" rx="1.9" ry="1.7" transform="rotate(5 573.2 77.8)" fill="#7A55B2" fill-opacity="0.85" /><ellipse cx="500.5" cy="71.0" rx="1.5" ry="1.4" transform="rotate(9 500.5 71.0)" fill="#A58ACD" fill-opacity="0.85" /><ellipse cx="506.5" cy="70.7" rx="1.6" ry="1.5" transform="rotate(146 506.5 70.7)" fill="#A58ACD" fill-opacity="0.85" /><ellipse cx="550.4" cy="28.3" rx="1.5" ry="1.3" transform="rotate(13 550.4 28.3)" fill="#7A55B2" fill-opacity="0.85" /><ellipse cx="519.1" cy="5.3" rx="1.1" ry="0.8" transform="rotate(109 519.1 5.3)" fill="#A58ACD" fill-opacity="0.85" /><ellipse cx="520.0" cy="54.0" rx="2.3" ry="1.8" transform="rotate(161 520.0 54.0)" fill="#7A55B2" fill-opacity="0.85" /><ellipse cx="524.7" cy="80.7" rx="2.1" ry="1.6" transform="rotate(139 524.7 80.7)" fill="#7A55B2" fill-opacity="0.85" /><ellipse cx="552.2" cy="39.0" rx="1.3" ry="1.2" transform="rotate(128 552.2 39.0)" fill="#7A55B2" fill-opacity="0.85" /><ellipse cx="515.8" cy="20.7" rx="1.9" ry="1.7" transform="rotate(62 515.8 20.7)" fill="#7A55B2" fill-opacity="0.85" /><ellipse cx="512.6" cy="36.9" rx="1.7" ry="1.2" transform="rotate(8 512.6 36.9)" fill="#A58ACD" fill-opacity="0.85" /><ellipse cx="529.0" cy="80.9" rx="1.6" ry="1.2" transform="rotate(87 529.0 80.9)" fill="#A58ACD" fill-opacity="0.85" /><ellipse cx="577.0" cy="87.6" rx="1.1" ry="0.9" transform="rotate(57 577.0 87.6)" fill="#7A55B2" fill-opacity="0.85" /><ellipse cx="575.5" cy="58.1" rx="1.6" ry="1.5" transform="rotate(93 575.5 58.1)" fill="#7A55B2" fill-opacity="0.85" /><ellipse cx="574.7" cy="82.0" rx="2.2" ry="1.8" transform="rotate(147 574.7 82.0)" fill="#7A55B2" fill-opacity="0.85" /><ellipse cx="527.1" cy="92.9" rx="1.6" ry="1.1" transform="rotate(133 527.1 92.9)" fill="#A58ACD" fill-opacity="0.85" /><ellipse cx="526.4" cy="95.3" rx="2.0" ry="1.8" transform="rotate(179 526.4 95.3)" fill="#A58ACD" fill-opacity="0.85" /><ellipse cx="492.1" cy="74.1" rx="2.1" ry="1.8" transform="rotate(58 492.1 74.1)" fill="#7A55B2" fill-opacity="0.85" /><ellipse cx="544.3" cy="24.5" rx="1.5" ry="1.1" transform="rotate(134 544.3 24.5)" fill="#7A55B2" fill-opacity="0.85" /><ellipse cx="498.2" cy="5.7" rx="1.7" ry="1.5" transform="rotate(50 498.2 5.7)" fill="#7A55B2" fill-opacity="0.85" /><ellipse cx="551.4" cy="90.6" rx="2.1" ry="1.4" transform="rotate(153 551.4 90.6)" fill="#A58ACD" fill-opacity="0.85" /><ellipse cx="494.0" cy="90.1" rx="1.5" ry="1.1" transform="rotate(8 494.0 90.1)" fill="#A58ACD" fill-opacity="0.85" /><ellipse cx="540.6" cy="47.4" rx="1.4" ry="1.3" transform="rotate(46 540.6 47.4)" fill="#A58ACD" fill-opacity="0.85" /><ellipse cx="564.1" cy="50.3" rx="2.3" ry="2.2" transform="rotate(35 564.1 50.3)" fill="#A58ACD" fill-opacity="0.85" /><ellipse cx="528.6" cy="6.4" rx="1.7" ry="1.6" transform="rotate(146 528.6 6.4)" fill="#A58ACD" fill-opacity="0.85" /><ellipse cx="541.5" cy="93.9" rx="1.9" ry="1.4" transform="rotate(125 541.5 93.9)" fill="#7A55B2" fill-opacity="0.85" /><ellipse cx="575.5" cy="14.0" rx="1.5" ry="1.3" transform="rotate(104 575.5 14.0)" fill="#A58ACD" fill-opacity="0.85" /><ellipse cx="532.0" cy="5.5" rx="1.8" ry="1.7" transform="rotate(104 532.0 5.5)" fill="#7A55B2" fill-opacity="0.85" /><ellipse cx="543.0" cy="63.9" rx="1.2" ry="1.1" transform="rotate(27 543.0 63.9)" fill="#7A55B2" fill-opacity="0.85" /><ellipse cx="566.5" cy="88.9" rx="1.4" ry="1.4" transform="rotate(47 566.5 88.9)" fill="#7A55B2" fill-opacity="0.85" /><ellipse cx="551.4" cy="71.9" rx="2.3" ry="2.1" transform="rotate(171 551.4 71.9)" fill="#7A55B2" fill-opacity="0.85" /><ellipse cx="575.7" cy="47.8" rx="1.6" ry="1.4" transform="rotate(84 575.7 47.8)" fill="#A58ACD" fill-opacity="0.85" /><ellipse cx="557.8" cy="30.5" rx="1.7" ry="1.6" transform="rotate(166 557.8 30.5)" fill="#A58ACD" fill-opacity="0.85" /><ellipse cx="492.4" cy="13.4" rx="1.6" ry="1.2" transform="rotate(37 492.4 13.4)" fill="#7A55B2" fill-opacity="0.85" /><ellipse cx="555.4" cy="20.0" rx="2.0" ry="1.4" transform="rotate(102 555.4 20.0)" fill="#A58ACD" fill-opacity="0.85" /><ellipse cx="507.9" cy="4.5" rx="1.3" ry="1.3" transform="rotate(132 507.9 4.5)" fill="#A58ACD" fill-opacity="0.85" /><ellipse cx="500.3" cy="29.2" rx="1.1" ry="0.8" transform="rotate(102 500.3 29.2)" fill="#A58ACD" fill-opacity="0.85" /><ellipse cx="538.1" cy="100.7" rx="2.2" ry="2.1" transform="rotate(80 538.1 100.7)" fill="#7A55B2" fill-opacity="0.85" /><ellipse cx="555.1" cy="83.0" rx="1.0" ry="0.8" transform="rotate(111 555.1 83.0)" fill="#7A55B2" fill-opacity="0.85" /><ellipse cx="544.0" cy="73.9" rx="1.4" ry="1.1" transform="rotate(113 544.0 73.9)" fill="#A58ACD" fill-opacity="0.85" /><ellipse cx="549.5" cy="51.0" rx="1.7" ry="1.2" transform="rotate(118 549.5 51.0)" fill="#7A55B2" fill-opacity="0.85" /><ellipse cx="564.3" cy="77.8" rx="1.5" ry="1.3" transform="rotate(45 564.3 77.8)" fill="#A58ACD" fill-opacity="0.85" /><ellipse cx="550.2" cy="43.1" rx="1.8" ry="1.7" transform="rotate(173 550.2 43.1)" fill="#A58ACD" fill-opacity="0.85" /><ellipse cx="540.2" cy="39.8" rx="2.1" ry="1.5" transform="rotate(158 540.2 39.8)" fill="#7A55B2" fill-opacity="0.85" /><ellipse cx="505.9" cy="90.1" rx="1.7" ry="1.6" transform="rotate(79 505.9 90.1)" fill="#7A55B2" fill-opacity="0.85" /></g>
</g>
<g clip-path="url(#dCR)">
<rect x="580.9" y="4.4" width="96" height="96.3" fill="#020A1C" />
<rect x="580.9" y="4.4" width="96" height="96.3" filter="url(#dCRn1)" opacity="0.85"/>
<g filter="url(#bl2)"><ellipse cx="616.1" cy="23.6" rx="4.5" ry="4.2" transform="rotate(83 616.1 23.6)" fill="#24A040" fill-opacity="0.55" /><ellipse cx="675.7" cy="86.4" rx="7.5" ry="5.7" transform="rotate(100 675.7 86.4)" fill="#24A040" fill-opacity="0.55" /><ellipse cx="639.2" cy="9.2" rx="6.1" ry="5.0" transform="rotate(39 639.2 9.2)" fill="#24A040" fill-opacity="0.55" /><ellipse cx="657.4" cy="44.9" rx="4.6" ry="3.9" transform="rotate(165 657.4 44.9)" fill="#24A040" fill-opacity="0.55" /><ellipse cx="618.3" cy="22.4" rx="4.5" ry="3.9" transform="rotate(120 618.3 22.4)" fill="#24A040" fill-opacity="0.55" /><ellipse cx="620.5" cy="86.1" rx="6.2" ry="5.9" transform="rotate(102 620.5 86.1)" fill="#24A040" fill-opacity="0.55" /><ellipse cx="637.6" cy="44.1" rx="4.6" ry="4.3" transform="rotate(155 637.6 44.1)" fill="#24A040" fill-opacity="0.55" /><ellipse cx="650.5" cy="44.8" rx="4.5" ry="3.6" transform="rotate(99 650.5 44.8)" fill="#24A040" fill-opacity="0.55" /><ellipse cx="644.1" cy="6.9" rx="7.9" ry="7.3" transform="rotate(130 644.1 6.9)" fill="#24A040" fill-opacity="0.55" /><ellipse cx="675.8" cy="64.2" rx="6.1" ry="4.9" transform="rotate(123 675.8 64.2)" fill="#24A040" fill-opacity="0.55" /><ellipse cx="648.0" cy="96.1" rx="7.8" ry="6.8" transform="rotate(153 648.0 96.1)" fill="#24A040" fill-opacity="0.55" /><ellipse cx="672.9" cy="44.5" rx="6.6" ry="5.9" transform="rotate(86 672.9 44.5)" fill="#24A040" fill-opacity="0.55" /><ellipse cx="625.9" cy="25.7" rx="4.9" ry="4.1" transform="rotate(107 625.9 25.7)" fill="#24A040" fill-opacity="0.55" /><ellipse cx="644.2" cy="83.3" rx="5.3" ry="4.7" transform="rotate(82 644.2 83.3)" fill="#24A040" fill-opacity="0.55" /><ellipse cx="597.3" cy="98.9" rx="5.5" ry="5.1" transform="rotate(124 597.3 98.9)" fill="#24A040" fill-opacity="0.55" /><ellipse cx="654.9" cy="84.7" rx="7.9" ry="6.6" transform="rotate(120 654.9 84.7)" fill="#24A040" fill-opacity="0.55" /><ellipse cx="611.3" cy="33.1" rx="7.3" ry="6.8" transform="rotate(132 611.3 33.1)" fill="#24A040" fill-opacity="0.55" /><ellipse cx="592.7" cy="97.5" rx="6.7" ry="5.8" transform="rotate(164 592.7 97.5)" fill="#24A040" fill-opacity="0.55" /><ellipse cx="591.6" cy="33.4" rx="4.8" ry="4.0" transform="rotate(142 591.6 33.4)" fill="#24A040" fill-opacity="0.55" /><ellipse cx="595.3" cy="77.7" rx="6.5" ry="5.4" transform="rotate(153 595.3 77.7)" fill="#24A040" fill-opacity="0.55" /><ellipse cx="585.0" cy="27.9" rx="6.2" ry="5.2" transform="rotate(69 585.0 27.9)" fill="#24A040" fill-opacity="0.55" /><ellipse cx="676.6" cy="57.3" rx="6.8" ry="5.9" transform="rotate(36 676.6 57.3)" fill="#24A040" fill-opacity="0.55" /><ellipse cx="590.9" cy="77.2" rx="7.0" ry="7.0" transform="rotate(45 590.9 77.2)" fill="#24A040" fill-opacity="0.55" /><ellipse cx="618.7" cy="40.5" rx="6.4" ry="4.9" transform="rotate(144 618.7 40.5)" fill="#24A040" fill-opacity="0.55" /><ellipse cx="651.2" cy="13.5" rx="7.0" ry="5.8" transform="rotate(78 651.2 13.5)" fill="#24A040" fill-opacity="0.55" /><ellipse cx="600.2" cy="70.7" rx="6.5" ry="4.9" transform="rotate(27 600.2 70.7)" fill="#24A040" fill-opacity="0.55" /><ellipse cx="651.2" cy="17.3" rx="6.0" ry="5.5" transform="rotate(31 651.2 17.3)" fill="#24A040" fill-opacity="0.55" /><ellipse cx="628.7" cy="44.9" rx="4.7" ry="4.5" transform="rotate(15 628.7 44.9)" fill="#24A040" fill-opacity="0.55" /><ellipse cx="660.2" cy="35.8" rx="5.6" ry="4.5" transform="rotate(154 660.2 35.8)" fill="#24A040" fill-opacity="0.55" /><ellipse cx="676.7" cy="22.5" rx="6.7" ry="5.1" transform="rotate(72 676.7 22.5)" fill="#24A040" fill-opacity="0.55" /><ellipse cx="602.0" cy="65.3" rx="5.0" ry="4.5" transform="rotate(173 602.0 65.3)" fill="#24A040" fill-opacity="0.55" /><ellipse cx="604.9" cy="16.8" rx="7.5" ry="5.8" transform="rotate(133 604.9 16.8)" fill="#24A040" fill-opacity="0.55" /><ellipse cx="666.5" cy="17.4" rx="6.2" ry="6.2" transform="rotate(27 666.5 17.4)" fill="#24A040" fill-opacity="0.55" /><ellipse cx="661.0" cy="69.1" rx="4.5" ry="3.6" transform="rotate(166 661.0 69.1)" fill="#24A040" fill-opacity="0.55" /></g>
<g filter="url(#bl05)"><ellipse cx="616.1" cy="23.6" rx="3.0" ry="2.8" transform="rotate(83 616.1 23.6)" fill="#1A7A30" fill-opacity="0.45" stroke="#44CC5A" stroke-width="1.2" stroke-opacity="0.7"/><ellipse cx="675.7" cy="86.4" rx="5.0" ry="3.8" transform="rotate(100 675.7 86.4)" fill="#1A7A30" fill-opacity="0.45" stroke="#44CC5A" stroke-width="1.2" stroke-opacity="0.7"/><ellipse cx="639.2" cy="9.2" rx="4.0" ry="3.4" transform="rotate(39 639.2 9.2)" fill="#1A7A30" fill-opacity="0.45" stroke="#44CC5A" stroke-width="1.2" stroke-opacity="0.7"/><ellipse cx="657.4" cy="44.9" rx="3.1" ry="2.6" transform="rotate(165 657.4 44.9)" fill="#1A7A30" fill-opacity="0.45" stroke="#44CC5A" stroke-width="1.2" stroke-opacity="0.7"/><ellipse cx="618.3" cy="22.4" rx="3.0" ry="2.6" transform="rotate(120 618.3 22.4)" fill="#1A7A30" fill-opacity="0.45" stroke="#44CC5A" stroke-width="1.2" stroke-opacity="0.7"/><ellipse cx="620.5" cy="86.1" rx="4.2" ry="4.0" transform="rotate(102 620.5 86.1)" fill="#1A7A30" fill-opacity="0.45" stroke="#44CC5A" stroke-width="1.2" stroke-opacity="0.7"/><ellipse cx="637.6" cy="44.1" rx="3.1" ry="2.9" transform="rotate(155 637.6 44.1)" fill="#1A7A30" fill-opacity="0.45" stroke="#44CC5A" stroke-width="1.2" stroke-opacity="0.7"/><ellipse cx="650.5" cy="44.8" rx="3.0" ry="2.4" transform="rotate(99 650.5 44.8)" fill="#1A7A30" fill-opacity="0.45" stroke="#44CC5A" stroke-width="1.2" stroke-opacity="0.7"/><ellipse cx="644.1" cy="6.9" rx="5.3" ry="4.9" transform="rotate(130 644.1 6.9)" fill="#1A7A30" fill-opacity="0.45" stroke="#44CC5A" stroke-width="1.2" stroke-opacity="0.7"/><ellipse cx="675.8" cy="64.2" rx="4.1" ry="3.3" transform="rotate(123 675.8 64.2)" fill="#1A7A30" fill-opacity="0.45" stroke="#44CC5A" stroke-width="1.2" stroke-opacity="0.7"/><ellipse cx="648.0" cy="96.1" rx="5.2" ry="4.6" transform="rotate(153 648.0 96.1)" fill="#1A7A30" fill-opacity="0.45" stroke="#44CC5A" stroke-width="1.2" stroke-opacity="0.7"/><ellipse cx="672.9" cy="44.5" rx="4.4" ry="3.9" transform="rotate(86 672.9 44.5)" fill="#1A7A30" fill-opacity="0.45" stroke="#44CC5A" stroke-width="1.2" stroke-opacity="0.7"/><ellipse cx="625.9" cy="25.7" rx="3.3" ry="2.7" transform="rotate(107 625.9 25.7)" fill="#1A7A30" fill-opacity="0.45" stroke="#44CC5A" stroke-width="1.2" stroke-opacity="0.7"/><ellipse cx="644.2" cy="83.3" rx="3.5" ry="3.1" transform="rotate(82 644.2 83.3)" fill="#1A7A30" fill-opacity="0.45" stroke="#44CC5A" stroke-width="1.2" stroke-opacity="0.7"/><ellipse cx="597.3" cy="98.9" rx="3.7" ry="3.4" transform="rotate(124 597.3 98.9)" fill="#1A7A30" fill-opacity="0.45" stroke="#44CC5A" stroke-width="1.2" stroke-opacity="0.7"/><ellipse cx="654.9" cy="84.7" rx="5.3" ry="4.4" transform="rotate(120 654.9 84.7)" fill="#1A7A30" fill-opacity="0.45" stroke="#44CC5A" stroke-width="1.2" stroke-opacity="0.7"/><ellipse cx="611.3" cy="33.1" rx="4.9" ry="4.6" transform="rotate(132 611.3 33.1)" fill="#1A7A30" fill-opacity="0.45" stroke="#44CC5A" stroke-width="1.2" stroke-opacity="0.7"/><ellipse cx="592.7" cy="97.5" rx="4.4" ry="3.8" transform="rotate(164 592.7 97.5)" fill="#1A7A30" fill-opacity="0.45" stroke="#44CC5A" stroke-width="1.2" stroke-opacity="0.7"/><ellipse cx="591.6" cy="33.4" rx="3.2" ry="2.6" transform="rotate(142 591.6 33.4)" fill="#1A7A30" fill-opacity="0.45" stroke="#44CC5A" stroke-width="1.2" stroke-opacity="0.7"/><ellipse cx="595.3" cy="77.7" rx="4.4" ry="3.6" transform="rotate(153 595.3 77.7)" fill="#1A7A30" fill-opacity="0.45" stroke="#44CC5A" stroke-width="1.2" stroke-opacity="0.7"/><ellipse cx="585.0" cy="27.9" rx="4.1" ry="3.5" transform="rotate(69 585.0 27.9)" fill="#1A7A30" fill-opacity="0.45" stroke="#44CC5A" stroke-width="1.2" stroke-opacity="0.7"/><ellipse cx="676.6" cy="57.3" rx="4.5" ry="3.9" transform="rotate(36 676.6 57.3)" fill="#1A7A30" fill-opacity="0.45" stroke="#44CC5A" stroke-width="1.2" stroke-opacity="0.7"/><ellipse cx="590.9" cy="77.2" rx="4.7" ry="4.7" transform="rotate(45 590.9 77.2)" fill="#1A7A30" fill-opacity="0.45" stroke="#44CC5A" stroke-width="1.2" stroke-opacity="0.7"/><ellipse cx="618.7" cy="40.5" rx="4.3" ry="3.3" transform="rotate(144 618.7 40.5)" fill="#1A7A30" fill-opacity="0.45" stroke="#44CC5A" stroke-width="1.2" stroke-opacity="0.7"/><ellipse cx="651.2" cy="13.5" rx="4.7" ry="3.9" transform="rotate(78 651.2 13.5)" fill="#1A7A30" fill-opacity="0.45" stroke="#44CC5A" stroke-width="1.2" stroke-opacity="0.7"/><ellipse cx="600.2" cy="70.7" rx="4.3" ry="3.3" transform="rotate(27 600.2 70.7)" fill="#1A7A30" fill-opacity="0.45" stroke="#44CC5A" stroke-width="1.2" stroke-opacity="0.7"/><ellipse cx="651.2" cy="17.3" rx="4.0" ry="3.7" transform="rotate(31 651.2 17.3)" fill="#1A7A30" fill-opacity="0.45" stroke="#44CC5A" stroke-width="1.2" stroke-opacity="0.7"/><ellipse cx="628.7" cy="44.9" rx="3.2" ry="3.0" transform="rotate(15 628.7 44.9)" fill="#1A7A30" fill-opacity="0.45" stroke="#44CC5A" stroke-width="1.2" stroke-opacity="0.7"/><ellipse cx="660.2" cy="35.8" rx="3.7" ry="3.0" transform="rotate(154 660.2 35.8)" fill="#1A7A30" fill-opacity="0.45" stroke="#44CC5A" stroke-width="1.2" stroke-opacity="0.7"/><ellipse cx="676.7" cy="22.5" rx="4.4" ry="3.4" transform="rotate(72 676.7 22.5)" fill="#1A7A30" fill-opacity="0.45" stroke="#44CC5A" stroke-width="1.2" stroke-opacity="0.7"/><ellipse cx="602.0" cy="65.3" rx="3.3" ry="3.0" transform="rotate(173 602.0 65.3)" fill="#1A7A30" fill-opacity="0.45" stroke="#44CC5A" stroke-width="1.2" stroke-opacity="0.7"/><ellipse cx="604.9" cy="16.8" rx="5.0" ry="3.8" transform="rotate(133 604.9 16.8)" fill="#1A7A30" fill-opacity="0.45" stroke="#44CC5A" stroke-width="1.2" stroke-opacity="0.7"/><ellipse cx="666.5" cy="17.4" rx="4.1" ry="4.1" transform="rotate(27 666.5 17.4)" fill="#1A7A30" fill-opacity="0.45" stroke="#44CC5A" stroke-width="1.2" stroke-opacity="0.7"/><ellipse cx="661.0" cy="69.1" rx="3.0" ry="2.4" transform="rotate(166 661.0 69.1)" fill="#1A7A30" fill-opacity="0.45" stroke="#44CC5A" stroke-width="1.2" stroke-opacity="0.7"/></g>
<g filter="url(#bl05)"><ellipse cx="587.2" cy="38.7" rx="1.6" ry="1.2" transform="rotate(142 587.2 38.7)" fill="#1E3CFF" fill-opacity="0.95" /><ellipse cx="588.6" cy="15.1" rx="2.4" ry="2.1" transform="rotate(10 588.6 15.1)" fill="#1E3CFF" fill-opacity="0.95" /><ellipse cx="598.9" cy="37.4" rx="2.7" ry="2.1" transform="rotate(91 598.9 37.4)" fill="#1026B0" fill-opacity="0.95" /><ellipse cx="663.0" cy="55.7" rx="2.8" ry="2.3" transform="rotate(110 663.0 55.7)" fill="#1026B0" fill-opacity="0.95" /><ellipse cx="632.5" cy="24.0" rx="2.7" ry="1.9" transform="rotate(172 632.5 24.0)" fill="#1026B0" fill-opacity="0.95" /><ellipse cx="586.0" cy="43.3" rx="1.6" ry="1.4" transform="rotate(90 586.0 43.3)" fill="#1E3CFF" fill-opacity="0.95" /><ellipse cx="614.9" cy="54.7" rx="2.7" ry="2.0" transform="rotate(100 614.9 54.7)" fill="#1E3CFF" fill-opacity="0.95" /><ellipse cx="587.2" cy="66.3" rx="1.6" ry="1.2" transform="rotate(9 587.2 66.3)" fill="#1E3CFF" fill-opacity="0.95" /><ellipse cx="627.6" cy="33.9" rx="1.6" ry="1.2" transform="rotate(119 627.6 33.9)" fill="#1026B0" fill-opacity="0.95" /><ellipse cx="620.9" cy="80.3" rx="2.0" ry="1.6" transform="rotate(122 620.9 80.3)" fill="#1E3CFF" fill-opacity="0.95" /><ellipse cx="611.1" cy="83.7" rx="2.1" ry="1.8" transform="rotate(103 611.1 83.7)" fill="#1E3CFF" fill-opacity="0.95" /><ellipse cx="636.9" cy="7.0" rx="2.4" ry="1.8" transform="rotate(8 636.9 7.0)" fill="#1E3CFF" fill-opacity="0.95" /><ellipse cx="626.1" cy="65.5" rx="1.6" ry="1.2" transform="rotate(49 626.1 65.5)" fill="#1026B0" fill-opacity="0.95" /><ellipse cx="636.4" cy="12.8" rx="2.9" ry="2.0" transform="rotate(60 636.4 12.8)" fill="#1026B0" fill-opacity="0.95" /><ellipse cx="588.2" cy="15.9" rx="2.8" ry="2.2" transform="rotate(1 588.2 15.9)" fill="#1E3CFF" fill-opacity="0.95" /><ellipse cx="641.2" cy="48.9" rx="2.7" ry="2.6" transform="rotate(80 641.2 48.9)" fill="#1026B0" fill-opacity="0.95" /><ellipse cx="638.3" cy="93.6" rx="2.2" ry="1.8" transform="rotate(118 638.3 93.6)" fill="#1E3CFF" fill-opacity="0.95" /><ellipse cx="636.4" cy="76.0" rx="2.8" ry="2.7" transform="rotate(136 636.4 76.0)" fill="#1E3CFF" fill-opacity="0.95" /><ellipse cx="591.3" cy="42.6" rx="2.0" ry="2.0" transform="rotate(74 591.3 42.6)" fill="#1026B0" fill-opacity="0.95" /><ellipse cx="613.4" cy="51.2" rx="3.0" ry="2.7" transform="rotate(55 613.4 51.2)" fill="#1E3CFF" fill-opacity="0.95" /><ellipse cx="647.2" cy="87.8" rx="2.1" ry="1.9" transform="rotate(100 647.2 87.8)" fill="#1026B0" fill-opacity="0.95" /><ellipse cx="640.3" cy="16.5" rx="1.8" ry="1.8" transform="rotate(15 640.3 16.5)" fill="#1E3CFF" fill-opacity="0.95" /><ellipse cx="636.5" cy="93.8" rx="2.7" ry="2.5" transform="rotate(90 636.5 93.8)" fill="#1026B0" fill-opacity="0.95" /><ellipse cx="633.5" cy="90.5" rx="1.6" ry="1.5" transform="rotate(152 633.5 90.5)" fill="#1E3CFF" fill-opacity="0.95" /><ellipse cx="632.6" cy="83.1" rx="3.1" ry="2.2" transform="rotate(27 632.6 83.1)" fill="#1E3CFF" fill-opacity="0.95" /><ellipse cx="647.6" cy="20.1" rx="1.5" ry="1.2" transform="rotate(38 647.6 20.1)" fill="#1E3CFF" fill-opacity="0.95" /><ellipse cx="646.6" cy="57.1" rx="2.7" ry="2.4" transform="rotate(116 646.6 57.1)" fill="#1E3CFF" fill-opacity="0.95" /><ellipse cx="581.7" cy="61.6" rx="2.3" ry="1.9" transform="rotate(179 581.7 61.6)" fill="#1E3CFF" fill-opacity="0.95" /><ellipse cx="634.7" cy="24.0" rx="3.1" ry="2.4" transform="rotate(142 634.7 24.0)" fill="#1E3CFF" fill-opacity="0.95" /><ellipse cx="645.4" cy="22.6" rx="2.8" ry="2.4" transform="rotate(71 645.4 22.6)" fill="#1E3CFF" fill-opacity="0.95" /><ellipse cx="626.8" cy="64.4" rx="1.6" ry="1.3" transform="rotate(11 626.8 64.4)" fill="#1026B0" fill-opacity="0.95" /><ellipse cx="601.2" cy="15.2" rx="1.7" ry="1.2" transform="rotate(110 601.2 15.2)" fill="#1026B0" fill-opacity="0.95" /><ellipse cx="662.5" cy="7.9" rx="2.1" ry="1.7" transform="rotate(90 662.5 7.9)" fill="#1026B0" fill-opacity="0.95" /><ellipse cx="615.3" cy="75.5" rx="2.8" ry="1.9" transform="rotate(156 615.3 75.5)" fill="#1E3CFF" fill-opacity="0.95" /><ellipse cx="601.4" cy="72.4" rx="3.0" ry="2.2" transform="rotate(73 601.4 72.4)" fill="#1E3CFF" fill-opacity="0.95" /><ellipse cx="597.2" cy="22.9" rx="3.1" ry="2.3" transform="rotate(94 597.2 22.9)" fill="#1026B0" fill-opacity="0.95" /><ellipse cx="627.5" cy="8.7" rx="3.2" ry="2.3" transform="rotate(166 627.5 8.7)" fill="#1E3CFF" fill-opacity="0.95" /><ellipse cx="637.6" cy="100.6" rx="1.6" ry="1.4" transform="rotate(78 637.6 100.6)" fill="#1E3CFF" fill-opacity="0.95" /><ellipse cx="673.8" cy="13.8" rx="2.8" ry="2.1" transform="rotate(63 673.8 13.8)" fill="#1E3CFF" fill-opacity="0.95" /><ellipse cx="606.1" cy="82.2" rx="2.1" ry="1.9" transform="rotate(168 606.1 82.2)" fill="#1E3CFF" fill-opacity="0.95" /><ellipse cx="612.4" cy="41.3" rx="3.1" ry="2.4" transform="rotate(161 612.4 41.3)" fill="#1E3CFF" fill-opacity="0.95" /><ellipse cx="605.9" cy="42.9" rx="1.6" ry="1.2" transform="rotate(76 605.9 42.9)" fill="#1026B0" fill-opacity="0.95" /><ellipse cx="587.8" cy="8.0" rx="1.8" ry="1.4" transform="rotate(60 587.8 8.0)" fill="#1E3CFF" fill-opacity="0.95" /><ellipse cx="604.4" cy="95.0" rx="1.9" ry="1.6" transform="rotate(125 604.4 95.0)" fill="#1E3CFF" fill-opacity="0.95" /><ellipse cx="664.3" cy="79.6" rx="2.0" ry="1.6" transform="rotate(139 664.3 79.6)" fill="#1E3CFF" fill-opacity="0.95" /><ellipse cx="605.0" cy="49.8" rx="2.8" ry="2.5" transform="rotate(110 605.0 49.8)" fill="#1E3CFF" fill-opacity="0.95" /><ellipse cx="608.4" cy="40.8" rx="2.5" ry="2.3" transform="rotate(123 608.4 40.8)" fill="#1E3CFF" fill-opacity="0.95" /><ellipse cx="594.3" cy="19.3" rx="1.7" ry="1.2" transform="rotate(91 594.3 19.3)" fill="#1E3CFF" fill-opacity="0.95" /><ellipse cx="613.5" cy="14.0" rx="2.9" ry="2.7" transform="rotate(39 613.5 14.0)" fill="#1E3CFF" fill-opacity="0.95" /><ellipse cx="648.9" cy="87.4" rx="2.0" ry="1.6" transform="rotate(133 648.9 87.4)" fill="#1026B0" fill-opacity="0.95" /><ellipse cx="592.0" cy="5.0" rx="2.5" ry="1.8" transform="rotate(100 592.0 5.0)" fill="#1E3CFF" fill-opacity="0.95" /><ellipse cx="632.9" cy="14.9" rx="2.5" ry="2.5" transform="rotate(104 632.9 14.9)" fill="#1E3CFF" fill-opacity="0.95" /><ellipse cx="617.3" cy="47.5" rx="2.2" ry="2.0" transform="rotate(142 617.3 47.5)" fill="#1E3CFF" fill-opacity="0.95" /><ellipse cx="623.5" cy="86.9" rx="2.9" ry="2.6" transform="rotate(109 623.5 86.9)" fill="#1026B0" fill-opacity="0.95" /><ellipse cx="590.2" cy="13.3" rx="3.1" ry="2.8" transform="rotate(121 590.2 13.3)" fill="#1E3CFF" fill-opacity="0.95" /><ellipse cx="675.6" cy="36.4" rx="2.7" ry="1.9" transform="rotate(121 675.6 36.4)" fill="#1026B0" fill-opacity="0.95" /><ellipse cx="596.2" cy="41.1" rx="1.8" ry="1.4" transform="rotate(91 596.2 41.1)" fill="#1E3CFF" fill-opacity="0.95" /><ellipse cx="654.2" cy="53.5" rx="2.9" ry="2.1" transform="rotate(142 654.2 53.5)" fill="#1E3CFF" fill-opacity="0.95" /><ellipse cx="610.2" cy="23.1" rx="1.7" ry="1.6" transform="rotate(29 610.2 23.1)" fill="#1E3CFF" fill-opacity="0.95" /><ellipse cx="658.7" cy="56.8" rx="1.6" ry="1.2" transform="rotate(100 658.7 56.8)" fill="#1E3CFF" fill-opacity="0.95" /><ellipse cx="669.8" cy="60.8" rx="3.1" ry="2.9" transform="rotate(149 669.8 60.8)" fill="#1E3CFF" fill-opacity="0.95" /><ellipse cx="613.9" cy="57.2" rx="2.1" ry="2.0" transform="rotate(109 613.9 57.2)" fill="#1026B0" fill-opacity="0.95" /><ellipse cx="635.8" cy="30.2" rx="2.2" ry="1.9" transform="rotate(21 635.8 30.2)" fill="#1E3CFF" fill-opacity="0.95" /><ellipse cx="600.0" cy="70.6" rx="2.4" ry="1.7" transform="rotate(70 600.0 70.6)" fill="#1E3CFF" fill-opacity="0.95" /><ellipse cx="676.3" cy="49.4" rx="2.8" ry="2.7" transform="rotate(64 676.3 49.4)" fill="#1E3CFF" fill-opacity="0.95" /><ellipse cx="603.8" cy="7.1" rx="1.6" ry="1.5" transform="rotate(39 603.8 7.1)" fill="#1E3CFF" fill-opacity="0.95" /><ellipse cx="621.0" cy="89.0" rx="3.1" ry="2.5" transform="rotate(114 621.0 89.0)" fill="#1026B0" fill-opacity="0.95" /><ellipse cx="601.3" cy="62.9" rx="2.4" ry="2.0" transform="rotate(75 601.3 62.9)" fill="#1026B0" fill-opacity="0.95" /><ellipse cx="615.6" cy="90.6" rx="3.0" ry="2.9" transform="rotate(43 615.6 90.6)" fill="#1E3CFF" fill-opacity="0.95" /><ellipse cx="648.3" cy="53.5" rx="3.1" ry="2.3" transform="rotate(154 648.3 53.5)" fill="#1E3CFF" fill-opacity="0.95" /><ellipse cx="609.7" cy="30.5" rx="2.2" ry="2.0" transform="rotate(107 609.7 30.5)" fill="#1E3CFF" fill-opacity="0.95" /><ellipse cx="670.5" cy="79.9" rx="3.1" ry="2.3" transform="rotate(8 670.5 79.9)" fill="#1026B0" fill-opacity="0.95" /><ellipse cx="585.0" cy="30.9" rx="2.1" ry="1.5" transform="rotate(4 585.0 30.9)" fill="#1E3CFF" fill-opacity="0.95" /><ellipse cx="592.3" cy="54.2" rx="1.7" ry="1.6" transform="rotate(142 592.3 54.2)" fill="#1E3CFF" fill-opacity="0.95" /><ellipse cx="622.5" cy="77.0" rx="1.7" ry="1.5" transform="rotate(140 622.5 77.0)" fill="#1026B0" fill-opacity="0.95" /><ellipse cx="582.0" cy="55.9" rx="2.7" ry="2.5" transform="rotate(44 582.0 55.9)" fill="#1026B0" fill-opacity="0.95" /><ellipse cx="670.1" cy="85.1" rx="2.2" ry="1.8" transform="rotate(45 670.1 85.1)" fill="#1E3CFF" fill-opacity="0.95" /><ellipse cx="607.5" cy="30.9" rx="2.7" ry="2.0" transform="rotate(32 607.5 30.9)" fill="#1E3CFF" fill-opacity="0.95" /><ellipse cx="583.8" cy="77.7" rx="2.8" ry="2.2" transform="rotate(118 583.8 77.7)" fill="#1E3CFF" fill-opacity="0.95" /><ellipse cx="601.5" cy="35.8" rx="2.8" ry="2.4" transform="rotate(14 601.5 35.8)" fill="#1E3CFF" fill-opacity="0.95" /><ellipse cx="664.9" cy="36.6" rx="2.4" ry="2.0" transform="rotate(155 664.9 36.6)" fill="#1E3CFF" fill-opacity="0.95" /><ellipse cx="635.1" cy="36.3" rx="1.6" ry="1.2" transform="rotate(71 635.1 36.3)" fill="#1E3CFF" fill-opacity="0.95" /><ellipse cx="589.3" cy="7.3" rx="2.6" ry="2.0" transform="rotate(119 589.3 7.3)" fill="#1E3CFF" fill-opacity="0.95" /><ellipse cx="652.0" cy="16.8" rx="1.7" ry="1.7" transform="rotate(163 652.0 16.8)" fill="#1026B0" fill-opacity="0.95" /><ellipse cx="645.8" cy="75.4" rx="3.1" ry="2.9" transform="rotate(133 645.8 75.4)" fill="#1E3CFF" fill-opacity="0.95" /><ellipse cx="593.1" cy="96.1" rx="2.7" ry="2.6" transform="rotate(8 593.1 96.1)" fill="#1026B0" fill-opacity="0.95" /><ellipse cx="638.5" cy="55.0" rx="1.6" ry="1.5" transform="rotate(15 638.5 55.0)" fill="#1026B0" fill-opacity="0.95" /><ellipse cx="617.5" cy="65.2" rx="1.6" ry="1.3" transform="rotate(19 617.5 65.2)" fill="#1E3CFF" fill-opacity="0.95" /><ellipse cx="675.4" cy="79.4" rx="2.5" ry="2.3" transform="rotate(0 675.4 79.4)" fill="#1E3CFF" fill-opacity="0.95" /><ellipse cx="640.9" cy="39.6" rx="1.6" ry="1.1" transform="rotate(75 640.9 39.6)" fill="#1E3CFF" fill-opacity="0.95" /><ellipse cx="620.4" cy="50.4" rx="2.2" ry="2.0" transform="rotate(3 620.4 50.4)" fill="#1E3CFF" fill-opacity="0.95" /><ellipse cx="617.7" cy="63.0" rx="3.0" ry="2.3" transform="rotate(5 617.7 63.0)" fill="#1026B0" fill-opacity="0.95" /><ellipse cx="665.7" cy="89.2" rx="2.8" ry="2.0" transform="rotate(107 665.7 89.2)" fill="#1026B0" fill-opacity="0.95" /><ellipse cx="587.7" cy="91.5" rx="3.1" ry="3.0" transform="rotate(66 587.7 91.5)" fill="#1E3CFF" fill-opacity="0.95" /><ellipse cx="644.7" cy="49.6" rx="2.1" ry="1.8" transform="rotate(141 644.7 49.6)" fill="#1026B0" fill-opacity="0.95" /><ellipse cx="632.5" cy="58.3" rx="2.8" ry="2.2" transform="rotate(69 632.5 58.3)" fill="#1E3CFF" fill-opacity="0.95" /><ellipse cx="616.4" cy="93.5" rx="1.9" ry="1.6" transform="rotate(149 616.4 93.5)" fill="#1E3CFF" fill-opacity="0.95" /><ellipse cx="643.5" cy="77.4" rx="2.5" ry="2.3" transform="rotate(3 643.5 77.4)" fill="#1026B0" fill-opacity="0.95" /><ellipse cx="669.6" cy="81.3" rx="2.6" ry="2.0" transform="rotate(49 669.6 81.3)" fill="#1E3CFF" fill-opacity="0.95" /><ellipse cx="633.7" cy="10.8" rx="1.7" ry="1.5" transform="rotate(22 633.7 10.8)" fill="#1026B0" fill-opacity="0.95" /><ellipse cx="610.6" cy="37.8" rx="2.8" ry="2.5" transform="rotate(106 610.6 37.8)" fill="#1E3CFF" fill-opacity="0.95" /><ellipse cx="637.5" cy="47.7" rx="2.4" ry="1.9" transform="rotate(75 637.5 47.7)" fill="#1026B0" fill-opacity="0.95" /><ellipse cx="664.1" cy="70.2" rx="1.9" ry="1.4" transform="rotate(34 664.1 70.2)" fill="#1E3CFF" fill-opacity="0.95" /><ellipse cx="598.6" cy="92.6" rx="1.6" ry="1.5" transform="rotate(142 598.6 92.6)" fill="#1E3CFF" fill-opacity="0.95" /><ellipse cx="595.6" cy="74.2" rx="2.9" ry="2.1" transform="rotate(24 595.6 74.2)" fill="#1E3CFF" fill-opacity="0.95" /><ellipse cx="674.3" cy="75.3" rx="1.8" ry="1.6" transform="rotate(110 674.3 75.3)" fill="#1E3CFF" fill-opacity="0.95" /><ellipse cx="629.5" cy="14.8" rx="3.1" ry="3.0" transform="rotate(59 629.5 14.8)" fill="#1E3CFF" fill-opacity="0.95" /><ellipse cx="633.5" cy="56.8" rx="3.2" ry="2.8" transform="rotate(92 633.5 56.8)" fill="#1026B0" fill-opacity="0.95" /><ellipse cx="634.4" cy="48.3" rx="2.0" ry="1.4" transform="rotate(49 634.4 48.3)" fill="#1026B0" fill-opacity="0.95" /><ellipse cx="653.0" cy="83.8" rx="3.2" ry="2.3" transform="rotate(149 653.0 83.8)" fill="#1E3CFF" fill-opacity="0.95" /><ellipse cx="667.8" cy="68.8" rx="2.4" ry="1.8" transform="rotate(23 667.8 68.8)" fill="#1E3CFF" fill-opacity="0.95" /><ellipse cx="623.4" cy="92.2" rx="2.0" ry="1.8" transform="rotate(90 623.4 92.2)" fill="#1E3CFF" fill-opacity="0.95" /><ellipse cx="617.6" cy="94.4" rx="2.9" ry="2.7" transform="rotate(92 617.6 94.4)" fill="#1E3CFF" fill-opacity="0.95" /><ellipse cx="618.0" cy="12.2" rx="2.0" ry="1.7" transform="rotate(110 618.0 12.2)" fill="#1E3CFF" fill-opacity="0.95" /><ellipse cx="610.2" cy="70.4" rx="1.5" ry="1.5" transform="rotate(53 610.2 70.4)" fill="#1E3CFF" fill-opacity="0.95" /><ellipse cx="581.9" cy="99.1" rx="2.2" ry="1.5" transform="rotate(123 581.9 99.1)" fill="#1E3CFF" fill-opacity="0.95" /><ellipse cx="582.4" cy="15.2" rx="2.6" ry="2.2" transform="rotate(167 582.4 15.2)" fill="#1E3CFF" fill-opacity="0.95" /><ellipse cx="602.7" cy="12.4" rx="3.0" ry="2.5" transform="rotate(116 602.7 12.4)" fill="#1E3CFF" fill-opacity="0.95" /><ellipse cx="668.8" cy="89.2" rx="1.9" ry="1.6" transform="rotate(114 668.8 89.2)" fill="#1E3CFF" fill-opacity="0.95" /><ellipse cx="623.4" cy="50.0" rx="2.2" ry="1.7" transform="rotate(129 623.4 50.0)" fill="#1E3CFF" fill-opacity="0.95" /><ellipse cx="662.6" cy="55.2" rx="2.4" ry="1.7" transform="rotate(154 662.6 55.2)" fill="#1E3CFF" fill-opacity="0.95" /><ellipse cx="656.9" cy="21.1" rx="1.6" ry="1.6" transform="rotate(28 656.9 21.1)" fill="#1E3CFF" fill-opacity="0.95" /><ellipse cx="628.9" cy="74.7" rx="3.2" ry="2.5" transform="rotate(67 628.9 74.7)" fill="#1E3CFF" fill-opacity="0.95" /><ellipse cx="653.5" cy="4.6" rx="2.6" ry="1.9" transform="rotate(108 653.5 4.6)" fill="#1E3CFF" fill-opacity="0.95" /><ellipse cx="673.1" cy="37.9" rx="2.1" ry="2.0" transform="rotate(115 673.1 37.9)" fill="#1E3CFF" fill-opacity="0.95" /></g>
</g>
<text x="487.2" y="16.6" font-size="10.4" textLength="12.8" lengthAdjust="spacingAndGlyphs" >HE</text>
<text x="584.8" y="17.6" font-size="10.4" fill="#fff" textLength="31.9" lengthAdjust="spacingAndGlyphs" >CRYAB</text>
<rect x="488.6" y="94" width="19.4" height="1.4" fill="#000" />
<rect x="586" y="94" width="17.8" height="1.4" fill="#fff" />
<text x="218.2" y="122.5" font-size="14" >e</text>
<rect x="246.75" y="138.3" width="13.46" height="83" fill="#FCDAC6" />
<rect x="246.75" y="195.57" width="13.46" height="25.73" fill="#67000D" />
<rect x="261.51" y="138.3" width="13.46" height="83" fill="#FCDAC6" />
<rect x="261.51" y="204.7" width="13.46" height="1.66" fill="#DE6B4C" />
<rect x="261.51" y="206.36" width="13.46" height="14.94" fill="#67000D" />
<rect x="276.27" y="138.3" width="13.46" height="83" fill="#FCDAC6" />
<rect x="276.27" y="203.04" width="13.46" height="18.26" fill="#67000D" />
<rect x="291.04" y="138.3" width="13.46" height="83" fill="#FCDAC6" />
<rect x="291.04" y="173.99" width="13.46" height="4.98" fill="#DE6B4C" />
<rect x="291.04" y="178.97" width="13.46" height="42.33" fill="#67000D" />
<rect x="305.8" y="138.3" width="13.46" height="83" fill="#FCDAC6" />
<rect x="305.8" y="198.06" width="13.46" height="23.24" fill="#67000D" />
<rect x="320.56" y="138.3" width="13.46" height="83" fill="#FCDAC6" />
<rect x="320.56" y="167.35" width="13.46" height="53.95" fill="#67000D" />
<rect x="335.32" y="138.3" width="13.46" height="83" fill="#FCDAC6" />
<rect x="335.32" y="149.09" width="13.46" height="72.21" fill="#67000D" />
<rect x="350.09" y="138.3" width="13.46" height="83" fill="#FCDAC6" />
<rect x="350.09" y="153.24" width="13.46" height="68.06" fill="#67000D" />
<rect x="374.25" y="138.3" width="13.35" height="83" fill="#FCDAC6" />
<rect x="374.25" y="220.3" width="13.35" height="1" fill="#67000D" />
<rect x="388.9" y="138.3" width="13.35" height="83" fill="#FCDAC6" />
<rect x="388.9" y="213" width="13.35" height="8.3" fill="#67000D" />
<rect x="403.55" y="138.3" width="13.35" height="83" fill="#FCDAC6" />
<rect x="403.55" y="218.81" width="13.35" height="2.49" fill="#67000D" />
<rect x="418.2" y="138.3" width="13.35" height="83" fill="#FCDAC6" />
<rect x="418.2" y="205.53" width="13.35" height="15.77" fill="#67000D" />
<rect x="432.85" y="138.3" width="13.35" height="83" fill="#FCDAC6" />
<rect x="432.85" y="220.47" width="13.35" height="0.83" fill="#67000D" />
<rect x="447.5" y="138.3" width="13.35" height="83" fill="#FCDAC6" />
<rect x="447.5" y="220.8" width="13.35" height="0.5" fill="#67000D" />
<rect x="469.45" y="138.3" width="13.38" height="83" fill="#DEDEDE" />
<rect x="469.45" y="196.81" width="13.38" height="24.48" fill="#1B1B1B" />
<rect x="484.12" y="138.3" width="13.38" height="83" fill="#DEDEDE" />
<rect x="484.12" y="206.36" width="13.38" height="1.83" fill="#8A8A8A" />
<rect x="484.12" y="208.19" width="13.38" height="13.11" fill="#1B1B1B" />
<rect x="498.8" y="138.3" width="13.38" height="83" fill="#DEDEDE" />
<rect x="498.8" y="210.01" width="13.38" height="11.29" fill="#1B1B1B" />
<rect x="513.48" y="138.3" width="13.38" height="83" fill="#DEDEDE" />
<rect x="513.48" y="194.99" width="13.38" height="3.24" fill="#8A8A8A" />
<rect x="513.48" y="198.23" width="13.38" height="23.07" fill="#1B1B1B" />
<rect x="528.15" y="138.3" width="13.38" height="83" fill="#DEDEDE" />
<rect x="528.15" y="206.36" width="13.38" height="14.94" fill="#1B1B1B" />
<rect x="542.83" y="138.3" width="13.38" height="83" fill="#DEDEDE" />
<rect x="542.83" y="204.7" width="13.38" height="16.6" fill="#1B1B1B" />
<rect x="557.5" y="138.3" width="13.38" height="83" fill="#DEDEDE" />
<rect x="557.5" y="217.15" width="13.38" height="4.15" fill="#1B1B1B" />
<rect x="572.18" y="138.3" width="13.38" height="83" fill="#DEDEDE" />
<rect x="572.18" y="210.01" width="13.38" height="11.29" fill="#1B1B1B" />
<rect x="595.15" y="138.3" width="13.62" height="83" fill="#DEDEDE" />
<rect x="595.15" y="219.31" width="13.62" height="1.99" fill="#1B1B1B" />
<rect x="610.07" y="138.3" width="13.62" height="83" fill="#DEDEDE" />
<rect x="610.07" y="215.49" width="13.62" height="5.81" fill="#1B1B1B" />
<rect x="624.98" y="138.3" width="13.62" height="83" fill="#DEDEDE" />
<rect x="624.98" y="216.07" width="13.62" height="5.23" fill="#1B1B1B" />
<rect x="639.9" y="138.3" width="13.62" height="83" fill="#DEDEDE" />
<rect x="639.9" y="219.97" width="13.62" height="1.33" fill="#1B1B1B" />
<rect x="654.82" y="138.3" width="13.62" height="83" fill="#DEDEDE" />
<rect x="654.82" y="215.74" width="13.62" height="5.56" fill="#1B1B1B" />
<rect x="669.73" y="138.3" width="13.62" height="83" fill="#DEDEDE" />
<rect x="669.73" y="218.56" width="13.62" height="2.74" fill="#1B1B1B" />
<text x="242.2" y="140.1" font-size="5.2" fill="#4D4D4D" text-anchor="end" >1.00</text>
<text x="242.2" y="160.85" font-size="5.2" fill="#4D4D4D" text-anchor="end" >0.75</text>
<text x="242.2" y="181.6" font-size="5.2" fill="#4D4D4D" text-anchor="end" >0.50</text>
<text x="242.2" y="202.35" font-size="5.2" fill="#4D4D4D" text-anchor="end" >0.25</text>
<text x="242.2" y="223.1" font-size="5.2" fill="#4D4D4D" text-anchor="end" >0.00</text>
<text x="228.7" y="179.8" font-size="6.3" text-anchor="middle" transform="rotate(-90 228.7 179.8)" textLength="66.5" lengthAdjust="spacingAndGlyphs" >Proportion cell quantities</text>
<text x="253.48" y="231.8" font-size="5.2" fill="#4D4D4D" text-anchor="middle" >1</text>
<line x1="253.48" y1="222.2" x2="253.48" y2="224.2" stroke="#666" stroke-width="0.4" />
<text x="268.24" y="231.8" font-size="5.2" fill="#4D4D4D" text-anchor="middle" >2</text>
<line x1="268.24" y1="222.2" x2="268.24" y2="224.2" stroke="#666" stroke-width="0.4" />
<text x="283.01" y="231.8" font-size="5.2" fill="#4D4D4D" text-anchor="middle" >3</text>
<line x1="283.01" y1="222.2" x2="283.01" y2="224.2" stroke="#666" stroke-width="0.4" />
<text x="297.77" y="231.8" font-size="5.2" fill="#4D4D4D" text-anchor="middle" >4</text>
<line x1="297.77" y1="222.2" x2="297.77" y2="224.2" stroke="#666" stroke-width="0.4" />
<text x="312.53" y="231.8" font-size="5.2" fill="#4D4D4D" text-anchor="middle" >5</text>
<line x1="312.53" y1="222.2" x2="312.53" y2="224.2" stroke="#666" stroke-width="0.4" />
<text x="327.29" y="231.8" font-size="5.2" fill="#4D4D4D" text-anchor="middle" >6</text>
<line x1="327.29" y1="222.2" x2="327.29" y2="224.2" stroke="#666" stroke-width="0.4" />
<text x="342.06" y="231.8" font-size="5.2" fill="#4D4D4D" text-anchor="middle" >7</text>
<line x1="342.06" y1="222.2" x2="342.06" y2="224.2" stroke="#666" stroke-width="0.4" />
<text x="356.82" y="231.8" font-size="5.2" fill="#4D4D4D" text-anchor="middle" >8</text>
<line x1="356.82" y1="222.2" x2="356.82" y2="224.2" stroke="#666" stroke-width="0.4" />
<text x="380.93" y="231.8" font-size="5.2" fill="#4D4D4D" text-anchor="middle" >9</text>
<line x1="380.93" y1="222.2" x2="380.93" y2="224.2" stroke="#666" stroke-width="0.4" />
<text x="395.58" y="231.8" font-size="5.2" fill="#4D4D4D" text-anchor="middle" >10</text>
<line x1="395.58" y1="222.2" x2="395.58" y2="224.2" stroke="#666" stroke-width="0.4" />
<text x="410.23" y="231.8" font-size="5.2" fill="#4D4D4D" text-anchor="middle" >11</text>
<line x1="410.23" y1="222.2" x2="410.23" y2="224.2" stroke="#666" stroke-width="0.4" />
<text x="424.88" y="231.8" font-size="5.2" fill="#4D4D4D" text-anchor="middle" >12</text>
<line x1="424.88" y1="222.2" x2="424.88" y2="224.2" stroke="#666" stroke-width="0.4" />
<text x="439.52" y="231.8" font-size="5.2" fill="#4D4D4D" text-anchor="middle" >13</text>
<line x1="439.52" y1="222.2" x2="439.52" y2="224.2" stroke="#666" stroke-width="0.4" />
<text x="454.18" y="231.8" font-size="5.2" fill="#4D4D4D" text-anchor="middle" >14</text>
<line x1="454.18" y1="222.2" x2="454.18" y2="224.2" stroke="#666" stroke-width="0.4" />
<text x="476.14" y="231.8" font-size="5.2" fill="#4D4D4D" text-anchor="middle" >1</text>
<line x1="476.14" y1="222.2" x2="476.14" y2="224.2" stroke="#666" stroke-width="0.4" />
<text x="490.81" y="231.8" font-size="5.2" fill="#4D4D4D" text-anchor="middle" >2</text>
<line x1="490.81" y1="222.2" x2="490.81" y2="224.2" stroke="#666" stroke-width="0.4" />
<text x="505.49" y="231.8" font-size="5.2" fill="#4D4D4D" text-anchor="middle" >3</text>
<line x1="505.49" y1="222.2" x2="505.49" y2="224.2" stroke="#666" stroke-width="0.4" />
<text x="520.16" y="231.8" font-size="5.2" fill="#4D4D4D" text-anchor="middle" >4</text>
<line x1="520.16" y1="222.2" x2="520.16" y2="224.2" stroke="#666" stroke-width="0.4" />
<text x="534.84" y="231.8" font-size="5.2" fill="#4D4D4D" text-anchor="middle" >5</text>
<line x1="534.84" y1="222.2" x2="534.84" y2="224.2" stroke="#666" stroke-width="0.4" />
<text x="549.51" y="231.8" font-size="5.2" fill="#4D4D4D" text-anchor="middle" >6</text>
<line x1="549.51" y1="222.2" x2="549.51" y2="224.2" stroke="#666" stroke-width="0.4" />
<text x="564.19" y="231.8" font-size="5.2" fill="#4D4D4D" text-anchor="middle" >7</text>
<line x1="564.19" y1="222.2" x2="564.19" y2="224.2" stroke="#666" stroke-width="0.4" />
<text x="578.86" y="231.8" font-size="5.2" fill="#4D4D4D" text-anchor="middle" >8</text>
<line x1="578.86" y1="222.2" x2="578.86" y2="224.2" stroke="#666" stroke-width="0.4" />
<text x="601.96" y="231.8" font-size="5.2" fill="#4D4D4D" text-anchor="middle" >9</text>
<line x1="601.96" y1="222.2" x2="601.96" y2="224.2" stroke="#666" stroke-width="0.4" />
<text x="616.88" y="231.8" font-size="5.2" fill="#4D4D4D" text-anchor="middle" >10</text>
<line x1="616.88" y1="222.2" x2="616.88" y2="224.2" stroke="#666" stroke-width="0.4" />
<text x="631.79" y="231.8" font-size="5.2" fill="#4D4D4D" text-anchor="middle" >11</text>
<line x1="631.79" y1="222.2" x2="631.79" y2="224.2" stroke="#666" stroke-width="0.4" />
<text x="646.71" y="231.8" font-size="5.2" fill="#4D4D4D" text-anchor="middle" >12</text>
<line x1="646.71" y1="222.2" x2="646.71" y2="224.2" stroke="#666" stroke-width="0.4" />
<text x="661.62" y="231.8" font-size="5.2" fill="#4D4D4D" text-anchor="middle" >13</text>
<line x1="661.62" y1="222.2" x2="661.62" y2="224.2" stroke="#666" stroke-width="0.4" />
<text x="676.54" y="231.8" font-size="5.2" fill="#4D4D4D" text-anchor="middle" >14</text>
<line x1="676.54" y1="222.2" x2="676.54" y2="224.2" stroke="#666" stroke-width="0.4" />
<text x="304.6" y="243.5" font-size="9.6" text-anchor="middle" >GTC high</text>
<text x="415.5" y="243.5" font-size="9.6" text-anchor="middle" >GTC low</text>
<text x="526.9" y="243.5" font-size="9.6" text-anchor="middle" >GTC high</text>
<text x="638.6" y="243.5" font-size="9.6" text-anchor="middle" >GTC low</text>
<rect x="280" y="119" width="12.7" height="12.3" fill="#FCDAC6" />
<text x="296.9" y="127.8" font-size="6.6" >Negative</text>
<rect x="339.6" y="119" width="11.6" height="12.3" fill="#DE6B4C" />
<text x="355.4" y="127.8" font-size="6.6" >CD3+</text>
<rect x="389.4" y="119" width="11.6" height="12.3" fill="#67000D" />
<text x="405.2" y="127.8" font-size="6.6" >CD44+</text>
<rect x="503" y="119" width="10.8" height="12.3" fill="#DEDEDE" />
<text x="519.7" y="127.8" font-size="6.6" >Negative</text>
<rect x="561.7" y="119" width="10.8" height="12.3" fill="#8A8A8A" />
<text x="578.4" y="127.8" font-size="6.6" >CD3+</text>
<rect x="611.6" y="119" width="10.8" height="12.3" fill="#1B1B1B" />
<text x="627.3" y="127.8" font-size="6.6" >CD68+</text>
<text x="218" y="264.9" font-size="14" >f</text>
<line x1="253.2" y1="277.4" x2="253.2" y2="375.6" stroke="#7a7a7a" stroke-width="1.15" />
<line x1="252.7" y1="375.1" x2="357.3" y2="375.1" stroke="#7a7a7a" stroke-width="1.15" />
<line x1="251.6" y1="281.3" x2="253.3" y2="281.3" stroke="#333" stroke-width="0.4" />
<text x="250.7" y="282.9" font-size="4.6" fill="#4D4D4D" text-anchor="end" >0.005</text>
<line x1="251.6" y1="299.34" x2="253.3" y2="299.34" stroke="#333" stroke-width="0.4" />
<text x="250.7" y="300.94" font-size="4.6" fill="#4D4D4D" text-anchor="end" >0.004</text>
<line x1="251.6" y1="317.38" x2="253.3" y2="317.38" stroke="#333" stroke-width="0.4" />
<text x="250.7" y="318.98" font-size="4.6" fill="#4D4D4D" text-anchor="end" >0.003</text>
<line x1="251.6" y1="335.42" x2="253.3" y2="335.42" stroke="#333" stroke-width="0.4" />
<text x="250.7" y="337.02" font-size="4.6" fill="#4D4D4D" text-anchor="end" >0.002</text>
<line x1="251.6" y1="353.46" x2="253.3" y2="353.46" stroke="#333" stroke-width="0.4" />
<text x="250.7" y="355.06" font-size="4.6" fill="#4D4D4D" text-anchor="end" >0.001</text>
<line x1="251.6" y1="371.5" x2="253.3" y2="371.5" stroke="#333" stroke-width="0.4" />
<text x="250.7" y="373.1" font-size="4.6" fill="#4D4D4D" text-anchor="end" >0.000</text>
<line x1="281.4" y1="288.3" x2="281.4" y2="319.2" stroke="#E8463E" stroke-width="0.7" />
<line x1="281.4" y1="348.3" x2="281.4" y2="359.5" stroke="#E8463E" stroke-width="0.7" />
<rect x="263.25" y="319.2" width="36.3" height="29.1" fill="none" stroke="#E8463E" stroke-width="0.7" />
<line x1="263.25" y1="331.2" x2="299.55" y2="331.2" stroke="#E8463E" stroke-width="1.12" />
<line x1="328.6" y1="335" x2="328.6" y2="349.4" stroke="#4A88C7" stroke-width="0.7" />
<line x1="328.6" y1="366.3" x2="328.6" y2="370.4" stroke="#4A88C7" stroke-width="0.7" />
<rect x="310.65" y="349.4" width="35.9" height="16.9" fill="none" stroke="#4A88C7" stroke-width="0.7" />
<line x1="310.65" y1="354.2" x2="346.55" y2="354.2" stroke="#4A88C7" stroke-width="1.12" />
<path d="M281.4 284 L281.4 281.3 L328.6 281.3 L328.6 284" fill="none" stroke="#333" stroke-width="0.5"/>
<text x="305" y="281.2" font-size="5.6" fill="#333" text-anchor="middle" >**</text>
<line x1="281.4" y1="375.2" x2="281.4" y2="377" stroke="#333" stroke-width="0.4" />
<text x="281.4" y="381.8" font-size="4.6" fill="#4D4D4D" text-anchor="middle" >High</text>
<line x1="328.6" y1="375.2" x2="328.6" y2="377" stroke="#333" stroke-width="0.4" />
<text x="328.6" y="381.8" font-size="4.6" fill="#4D4D4D" text-anchor="middle" >Low</text>
<text x="304.8" y="388.6" font-size="5.6" text-anchor="middle" >GTC</text>
<text x="236.3" y="329.4" font-size="6.7" text-anchor="middle" transform="rotate(-90 236.3 329.4)" textLength="95" lengthAdjust="spacingAndGlyphs" >CRYAB+ cells per tumor area</text>
<text x="374.3" y="266.3" font-size="14" >g</text>
<rect x="396.5" y="274.6" width="57.3" height="11.6" fill="#fff" stroke="#000" stroke-width="0.8" />
<text x="425.15" y="283" font-size="6.4" text-anchor="middle" >GTC</text>
<line x1="396.5" y1="286.2" x2="396.5" y2="373.3" stroke="#000" stroke-width="0.8" />
<line x1="396.5" y1="373.1" x2="453.8" y2="373.1" stroke="#000" stroke-width="0.8" />
<line x1="396.5" y1="330.1" x2="453.8" y2="330.1" stroke="#000" stroke-width="0.8" />
<line x1="394.9" y1="290.4" x2="396.5" y2="290.4" stroke="#333" stroke-width="0.5" />
<text x="394.1" y="292.7" font-size="6.6" fill="#4D4D4D" text-anchor="end" >2</text>
<line x1="394.9" y1="310.3" x2="396.5" y2="310.3" stroke="#333" stroke-width="0.5" />
<text x="394.1" y="312.6" font-size="6.6" fill="#4D4D4D" text-anchor="end" >1</text>
<line x1="394.9" y1="330.1" x2="396.5" y2="330.1" stroke="#333" stroke-width="0.5" />
<text x="394.1" y="332.4" font-size="6.6" fill="#4D4D4D" text-anchor="end" >0</text>
<line x1="394.9" y1="350" x2="396.5" y2="350" stroke="#333" stroke-width="0.5" />
<text x="394.1" y="352.3" font-size="6.6" fill="#4D4D4D" text-anchor="end" >−1</text>
<line x1="394.9" y1="370.1" x2="396.5" y2="370.1" stroke="#333" stroke-width="0.5" />
<text x="394.1" y="372.4" font-size="6.6" fill="#4D4D4D" text-anchor="end" >−2</text>
<line x1="411.7" y1="373.1" x2="411.7" y2="374.8" stroke="#333" stroke-width="0.5" />
<text x="413.9" y="376.8" font-size="6.2" fill="#4D4D4D" text-anchor="end" transform="rotate(-90 413.9 376.8)" >GTC</text>
<line x1="437.9" y1="373.1" x2="437.9" y2="374.8" stroke="#333" stroke-width="0.5" />
<text x="440.1" y="376.8" font-size="6.2" fill="#4D4D4D" text-anchor="end" transform="rotate(-90 440.1 376.8)" >T_cell</text>
<line x1="407" y1="334" x2="407" y2="336.4" stroke="#E8463E" stroke-width="0.9" />
<line x1="407" y1="347" x2="407" y2="350" stroke="#E8463E" stroke-width="0.9" />
<rect x="402.4" y="336.4" width="9.2" height="10.6" fill="none" stroke="#E8463E" stroke-width="0.9" />
<line x1="402.4" y1="339.5" x2="411.6" y2="339.5" stroke="#E8463E" stroke-width="1.44" />
<line x1="416.6" y1="346.2" x2="416.6" y2="351.1" stroke="#4A88C7" stroke-width="0.9" />
<line x1="416.6" y1="359.1" x2="416.6" y2="361" stroke="#4A88C7" stroke-width="0.9" />
<rect x="411.7" y="351.1" width="9.8" height="8" fill="none" stroke="#4A88C7" stroke-width="0.9" />
<line x1="411.7" y1="355.1" x2="421.5" y2="355.1" stroke="#4A88C7" stroke-width="1.44" />
<line x1="433.2" y1="309.1" x2="433.2" y2="310.3" stroke="#E8463E" stroke-width="0.9" />
<line x1="433.2" y1="326.2" x2="433.2" y2="338.3" stroke="#E8463E" stroke-width="0.9" />
<rect x="428.5" y="310.3" width="9.4" height="15.9" fill="none" stroke="#E8463E" stroke-width="0.9" />
<line x1="428.5" y1="318.9" x2="437.9" y2="318.9" stroke="#E8463E" stroke-width="1.44" />
<line x1="442.9" y1="324.3" x2="442.9" y2="325.5" stroke="#4A88C7" stroke-width="0.9" />
<line x1="442.9" y1="333.4" x2="442.9" y2="339.5" stroke="#4A88C7" stroke-width="0.9" />
<rect x="438.3" y="325.5" width="9.2" height="7.9" fill="none" stroke="#4A88C7" stroke-width="0.9" />
<line x1="438.3" y1="330.6" x2="447.5" y2="330.6" stroke="#4A88C7" stroke-width="1.44" />
<circle cx="412.4" cy="294.4" r="1" fill="#222" />
<rect x="467.8" y="274.6" width="57.5" height="11.6" fill="#fff" stroke="#000" stroke-width="0.8" />
<text x="496.55" y="283" font-size="6.4" text-anchor="middle" >T_cell</text>
<line x1="467.8" y1="286.2" x2="467.8" y2="373.3" stroke="#000" stroke-width="0.8" />
<line x1="467.8" y1="373.1" x2="525.3" y2="373.1" stroke="#000" stroke-width="0.8" />
<line x1="467.8" y1="330.1" x2="525.3" y2="330.1" stroke="#000" stroke-width="0.8" />
<line x1="466.2" y1="290.4" x2="467.8" y2="290.4" stroke="#333" stroke-width="0.5" />
<text x="465.4" y="292.7" font-size="6.6" fill="#4D4D4D" text-anchor="end" >2</text>
<line x1="466.2" y1="310.3" x2="467.8" y2="310.3" stroke="#333" stroke-width="0.5" />
<text x="465.4" y="312.6" font-size="6.6" fill="#4D4D4D" text-anchor="end" >1</text>
<line x1="466.2" y1="330.1" x2="467.8" y2="330.1" stroke="#333" stroke-width="0.5" />
<text x="465.4" y="332.4" font-size="6.6" fill="#4D4D4D" text-anchor="end" >0</text>
<line x1="466.2" y1="350" x2="467.8" y2="350" stroke="#333" stroke-width="0.5" />
<text x="465.4" y="352.3" font-size="6.6" fill="#4D4D4D" text-anchor="end" >−1</text>
<line x1="466.2" y1="370.1" x2="467.8" y2="370.1" stroke="#333" stroke-width="0.5" />
<text x="465.4" y="372.4" font-size="6.6" fill="#4D4D4D" text-anchor="end" >−2</text>
<line x1="484" y1="373.1" x2="484" y2="374.8" stroke="#333" stroke-width="0.5" />
<text x="486.2" y="376.8" font-size="6.2" fill="#4D4D4D" text-anchor="end" transform="rotate(-90 486.2 376.8)" >GTC</text>
<line x1="510.2" y1="373.1" x2="510.2" y2="374.8" stroke="#333" stroke-width="0.5" />
<text x="512.4" y="376.8" font-size="6.2" fill="#4D4D4D" text-anchor="end" transform="rotate(-90 512.4 376.8)" >T_cell</text>
<line x1="479.1" y1="301.9" x2="479.1" y2="322.4" stroke="#E8463E" stroke-width="0.9" />
<line x1="479.1" y1="338.3" x2="479.1" y2="343.4" stroke="#E8463E" stroke-width="0.9" />
<rect x="474.8" y="322.4" width="8.6" height="15.9" fill="none" stroke="#E8463E" stroke-width="0.9" />
<line x1="474.8" y1="332.9" x2="483.4" y2="332.9" stroke="#E8463E" stroke-width="1.44" />
<line x1="488.9" y1="318.2" x2="488.9" y2="318.9" stroke="#4A88C7" stroke-width="0.9" />
<line x1="488.9" y1="332.5" x2="488.9" y2="344.1" stroke="#4A88C7" stroke-width="0.9" />
<rect x="484.4" y="318.9" width="9" height="13.6" fill="none" stroke="#4A88C7" stroke-width="0.9" />
<line x1="484.4" y1="325.4" x2="493.4" y2="325.4" stroke="#4A88C7" stroke-width="1.44" />
<line x1="505.2" y1="355.8" x2="505.2" y2="357.5" stroke="#E8463E" stroke-width="0.9" />
<line x1="505.2" y1="361.4" x2="505.2" y2="362.6" stroke="#E8463E" stroke-width="0.9" />
<rect x="500.75" y="357.5" width="8.9" height="3.9" fill="none" stroke="#E8463E" stroke-width="0.9" />
<line x1="500.75" y1="358.9" x2="509.65" y2="358.9" stroke="#E8463E" stroke-width="1.44" />
<line x1="515" y1="341.6" x2="515" y2="345.3" stroke="#4A88C7" stroke-width="0.9" />
<line x1="515" y1="359.1" x2="515" y2="360.7" stroke="#4A88C7" stroke-width="0.9" />
<rect x="510.35" y="345.3" width="9.3" height="13.8" fill="none" stroke="#4A88C7" stroke-width="0.9" />
<line x1="510.35" y1="351.6" x2="519.65" y2="351.6" stroke="#4A88C7" stroke-width="1.44" />
<rect x="553.2" y="274.6" width="57.6" height="11.6" fill="#fff" stroke="#000" stroke-width="0.8" />
<text x="582" y="283" font-size="6.4" text-anchor="middle" >T_cell</text>
<line x1="553.2" y1="286.2" x2="553.2" y2="373.3" stroke="#000" stroke-width="0.8" />
<line x1="553.2" y1="373.1" x2="610.8" y2="373.1" stroke="#000" stroke-width="0.8" />
<line x1="553.2" y1="330.1" x2="610.8" y2="330.1" stroke="#000" stroke-width="0.8" />
<line x1="551.6" y1="290.4" x2="553.2" y2="290.4" stroke="#333" stroke-width="0.5" />
<text x="550.8" y="292.7" font-size="6.6" fill="#4D4D4D" text-anchor="end" >2</text>
<line x1="551.6" y1="310.3" x2="553.2" y2="310.3" stroke="#333" stroke-width="0.5" />
<text x="550.8" y="312.6" font-size="6.6" fill="#4D4D4D" text-anchor="end" >1</text>
<line x1="551.6" y1="330.1" x2="553.2" y2="330.1" stroke="#333" stroke-width="0.5" />
<text x="550.8" y="332.4" font-size="6.6" fill="#4D4D4D" text-anchor="end" >0</text>
<line x1="551.6" y1="350" x2="553.2" y2="350" stroke="#333" stroke-width="0.5" />
<text x="550.8" y="352.3" font-size="6.6" fill="#4D4D4D" text-anchor="end" >−1</text>
<line x1="551.6" y1="370.1" x2="553.2" y2="370.1" stroke="#333" stroke-width="0.5" />
<text x="550.8" y="372.4" font-size="6.6" fill="#4D4D4D" text-anchor="end" >−2</text>
<line x1="568.4" y1="373.1" x2="568.4" y2="374.8" stroke="#333" stroke-width="0.5" />
<text x="570.6" y="376.8" font-size="6.2" fill="#4D4D4D" text-anchor="end" transform="rotate(-90 570.6 376.8)" >T_cell</text>
<line x1="594.7" y1="373.1" x2="594.7" y2="374.8" stroke="#333" stroke-width="0.5" />
<text x="596.9" y="376.8" font-size="6.2" fill="#4D4D4D" text-anchor="end" transform="rotate(-90 596.9 376.8)" >TAM</text>
<line x1="563.8" y1="349.2" x2="563.8" y2="353.6" stroke="#E8463E" stroke-width="0.9" />
<line x1="563.8" y1="359.1" x2="563.8" y2="361.5" stroke="#E8463E" stroke-width="0.9" />
<rect x="559.35" y="353.6" width="8.9" height="5.5" fill="none" stroke="#E8463E" stroke-width="0.9" />
<line x1="559.35" y1="356.5" x2="568.25" y2="356.5" stroke="#E8463E" stroke-width="1.44" />
<line x1="573.6" y1="337.4" x2="573.6" y2="341.5" stroke="#4A88C7" stroke-width="0.9" />
<line x1="573.6" y1="348.3" x2="573.6" y2="349.2" stroke="#4A88C7" stroke-width="0.9" />
<rect x="568.9" y="341.5" width="9.4" height="6.8" fill="none" stroke="#4A88C7" stroke-width="0.9" />
<line x1="568.9" y1="345.9" x2="578.3" y2="345.9" stroke="#4A88C7" stroke-width="1.44" />
<line x1="590.1" y1="328.3" x2="590.1" y2="335.5" stroke="#E8463E" stroke-width="0.9" />
<line x1="590.1" y1="341" x2="590.1" y2="346.3" stroke="#E8463E" stroke-width="0.9" />
<rect x="585.5" y="335.5" width="9.2" height="5.5" fill="none" stroke="#E8463E" stroke-width="0.9" />
<line x1="585.5" y1="338.6" x2="594.7" y2="338.6" stroke="#E8463E" stroke-width="1.44" />
<line x1="599.7" y1="325.9" x2="599.7" y2="332.6" stroke="#4A88C7" stroke-width="0.9" />
<line x1="599.7" y1="340.3" x2="599.7" y2="345.1" stroke="#4A88C7" stroke-width="0.9" />
<rect x="595.1" y="332.6" width="9.2" height="7.7" fill="none" stroke="#4A88C7" stroke-width="0.9" />
<line x1="595.1" y1="339.1" x2="604.3" y2="339.1" stroke="#4A88C7" stroke-width="1.44" />
<rect x="625.2" y="274.6" width="57.4" height="11.6" fill="#fff" stroke="#000" stroke-width="0.8" />
<text x="653.9" y="283" font-size="6.4" text-anchor="middle" >TAM</text>
<line x1="625.2" y1="286.2" x2="625.2" y2="373.3" stroke="#000" stroke-width="0.8" />
<line x1="625.2" y1="373.1" x2="682.6" y2="373.1" stroke="#000" stroke-width="0.8" />
<line x1="625.2" y1="330.1" x2="682.6" y2="330.1" stroke="#000" stroke-width="0.8" />
<line x1="623.6" y1="290.4" x2="625.2" y2="290.4" stroke="#333" stroke-width="0.5" />
<text x="622.8" y="292.7" font-size="6.6" fill="#4D4D4D" text-anchor="end" >2</text>
<line x1="623.6" y1="310.3" x2="625.2" y2="310.3" stroke="#333" stroke-width="0.5" />
<text x="622.8" y="312.6" font-size="6.6" fill="#4D4D4D" text-anchor="end" >1</text>
<line x1="623.6" y1="330.1" x2="625.2" y2="330.1" stroke="#333" stroke-width="0.5" />
<text x="622.8" y="332.4" font-size="6.6" fill="#4D4D4D" text-anchor="end" >0</text>
<line x1="623.6" y1="350" x2="625.2" y2="350" stroke="#333" stroke-width="0.5" />
<text x="622.8" y="352.3" font-size="6.6" fill="#4D4D4D" text-anchor="end" >−1</text>
<line x1="623.6" y1="370.1" x2="625.2" y2="370.1" stroke="#333" stroke-width="0.5" />
<text x="622.8" y="372.4" font-size="6.6" fill="#4D4D4D" text-anchor="end" >−2</text>
<line x1="640.8" y1="373.1" x2="640.8" y2="374.8" stroke="#333" stroke-width="0.5" />
<text x="643" y="376.8" font-size="6.2" fill="#4D4D4D" text-anchor="end" transform="rotate(-90 643 376.8)" >T_cell</text>
<line x1="667.1" y1="373.1" x2="667.1" y2="374.8" stroke="#333" stroke-width="0.5" />
<text x="669.3" y="376.8" font-size="6.2" fill="#4D4D4D" text-anchor="end" transform="rotate(-90 669.3 376.8)" >TAM</text>
<line x1="635.6" y1="310.9" x2="635.6" y2="319.8" stroke="#E8463E" stroke-width="0.9" />
<line x1="635.6" y1="326.6" x2="635.6" y2="334.8" stroke="#E8463E" stroke-width="0.9" />
<rect x="630.8" y="319.8" width="9.6" height="6.8" fill="none" stroke="#E8463E" stroke-width="0.9" />
<line x1="630.8" y1="324.2" x2="640.4" y2="324.2" stroke="#E8463E" stroke-width="1.44" />
<line x1="645.5" y1="322.7" x2="645.5" y2="323.5" stroke="#4A88C7" stroke-width="0.9" />
<line x1="645.5" y1="330.7" x2="645.5" y2="335.5" stroke="#4A88C7" stroke-width="0.9" />
<rect x="640.9" y="323.5" width="9.2" height="7.2" fill="none" stroke="#4A88C7" stroke-width="0.9" />
<line x1="640.9" y1="327.1" x2="650.1" y2="327.1" stroke="#4A88C7" stroke-width="1.44" />
<line x1="661.9" y1="339.6" x2="661.9" y2="340.6" stroke="#E8463E" stroke-width="0.9" />
<line x1="661.9" y1="347.5" x2="661.9" y2="348.3" stroke="#E8463E" stroke-width="0.9" />
<rect x="657.35" y="340.6" width="9.1" height="6.9" fill="none" stroke="#E8463E" stroke-width="0.9" />
<line x1="657.35" y1="341" x2="666.45" y2="341" stroke="#E8463E" stroke-width="1.44" />
<line x1="672" y1="340.5" x2="672" y2="341" stroke="#4A88C7" stroke-width="0.9" />
<line x1="672" y1="343.9" x2="672" y2="344.6" stroke="#4A88C7" stroke-width="0.9" />
<rect x="667.45" y="341" width="9.1" height="2.9" fill="none" stroke="#4A88C7" stroke-width="0.9" />
<line x1="667.45" y1="342.5" x2="676.55" y2="342.5" stroke="#4A88C7" stroke-width="1.44" />
<text x="383.2" y="329.4" font-size="7.9" text-anchor="middle" transform="rotate(-90 383.2 329.4)" >z-score</text>
<text x="539.4" y="329.4" font-size="7.9" text-anchor="middle" transform="rotate(-90 539.4 329.4)" >z-score</text>
<line x1="481.2" y1="259.7" x2="481.2" y2="261.2" stroke="#E8463E" stroke-width="0.7" />
<line x1="481.2" y1="267.8" x2="481.2" y2="269.3" stroke="#E8463E" stroke-width="0.7" />
<rect x="476.4" y="261.2" width="9.6" height="6.6" fill="none" stroke="#E8463E" stroke-width="0.7" />
<line x1="476.4" y1="264.7" x2="486" y2="264.7" stroke="#E8463E" stroke-width="1.12" />
<text x="491.1" y="266.8" font-size="6" >GTC high</text>
<line x1="554" y1="259.7" x2="554" y2="261.2" stroke="#4A88C7" stroke-width="0.7" />
<line x1="554" y1="267.8" x2="554" y2="269.3" stroke="#4A88C7" stroke-width="0.7" />
<rect x="549.4" y="261.2" width="9.2" height="6.6" fill="none" stroke="#4A88C7" stroke-width="0.7" />
<line x1="549.4" y1="264.7" x2="558.6" y2="264.7" stroke="#4A88C7" stroke-width="1.12" />
<text x="563.8" y="266.8" font-size="6" >GTC low</text>
<text x="-0.3" y="435.2" font-size="14" >h</text>
<text x="104.1" y="430.8" font-size="12" text-anchor="middle" textLength="94" lengthAdjust="spacingAndGlyphs" >Image aquisition</text>
<rect x="47" y="438" width="117.3" height="127.1" fill="#000" />
<g clip-path="url(#tisA)">
<path d="M88.4 444.2 C91.6 443.0 97.4 442.2 102.6 441.8 C107.8 441.3 115.0 441.3 119.7 441.4 C124.5 441.5 128.6 441.1 131.1 442.3 C133.6 443.6 132.4 447.7 134.9 449.0 C137.4 450.2 143.1 449.6 146.3 449.9 C149.4 450.2 151.7 450.2 153.9 450.9 C156.1 451.5 158.6 452.8 159.6 453.7 C160.5 454.7 160.4 455.8 159.6 456.6 C158.8 457.4 155.8 456.6 154.8 458.5 C153.9 460.4 154.3 464.5 153.9 468.0 C153.4 471.4 152.6 475.5 152.0 479.3 C151.3 483.1 150.7 486.9 150.1 490.7 C149.4 494.5 148.8 498.6 148.2 502.1 C147.5 505.6 146.1 508.4 146.3 511.6 C146.4 514.8 147.9 518.6 149.1 521.1 C150.4 523.6 152.3 524.9 153.9 526.8 C155.5 528.7 157.4 530.9 158.6 532.5 C159.9 534.1 161.3 534.4 161.5 536.3 C161.6 538.2 160.5 541.3 159.6 543.9 C158.6 546.4 156.7 549.3 155.8 551.5 C154.8 553.7 155.1 555.9 153.9 557.2 C152.6 558.4 150.1 559.2 148.2 559.1 C146.3 558.9 143.8 556.2 142.5 556.2 C141.2 556.2 142.2 558.3 140.6 559.1 C139.0 559.8 135.8 560.3 133.0 561.0 C130.1 561.6 126.4 562.9 123.5 562.9 C120.7 562.9 118.4 561.3 115.9 561.0 C113.4 560.6 110.5 561.9 108.3 561.0 C106.1 560.0 104.2 556.8 102.6 555.3 C101.0 553.7 99.8 553.4 98.8 551.5 C97.9 549.6 97.6 546.4 96.9 543.9 C96.3 541.3 95.7 538.0 95.0 536.3 C94.4 534.5 94.4 534.4 93.1 533.4 C91.9 532.5 89.3 531.7 87.4 530.6 C85.5 529.5 84.0 528.4 81.8 526.8 C79.5 525.2 76.4 523.3 74.2 521.1 C71.9 518.9 70.2 516.7 68.5 513.5 C66.7 510.3 64.7 505.6 63.7 502.1 C62.7 498.6 62.4 495.5 62.4 492.6 C62.4 489.8 63.0 487.6 63.7 485.0 C64.4 482.5 66.3 480.6 66.6 477.4 C66.9 474.3 65.5 468.9 65.6 466.1 C65.8 463.2 65.8 462.3 67.5 460.4 C69.3 458.5 73.4 456.6 76.1 454.7 C78.7 452.8 81.6 450.7 83.7 449.0 C85.7 447.2 85.2 445.4 88.4 444.2 Z" fill="#28148C"/>
<path d="M88.4 444.2 C91.6 443.0 97.4 442.2 102.6 441.8 C107.8 441.3 115.0 441.3 119.7 441.4 C124.5 441.5 128.6 441.1 131.1 442.3 C133.6 443.6 132.4 447.7 134.9 449.0 C137.4 450.2 143.1 449.6 146.3 449.9 C149.4 450.2 151.7 450.2 153.9 450.9 C156.1 451.5 158.6 452.8 159.6 453.7 C160.5 454.7 160.4 455.8 159.6 456.6 C158.8 457.4 155.8 456.6 154.8 458.5 C153.9 460.4 154.3 464.5 153.9 468.0 C153.4 471.4 152.6 475.5 152.0 479.3 C151.3 483.1 150.7 486.9 150.1 490.7 C149.4 494.5 148.8 498.6 148.2 502.1 C147.5 505.6 146.1 508.4 146.3 511.6 C146.4 514.8 147.9 518.6 149.1 521.1 C150.4 523.6 152.3 524.9 153.9 526.8 C155.5 528.7 157.4 530.9 158.6 532.5 C159.9 534.1 161.3 534.4 161.5 536.3 C161.6 538.2 160.5 541.3 159.6 543.9 C158.6 546.4 156.7 549.3 155.8 551.5 C154.8 553.7 155.1 555.9 153.9 557.2 C152.6 558.4 150.1 559.2 148.2 559.1 C146.3 558.9 143.8 556.2 142.5 556.2 C141.2 556.2 142.2 558.3 140.6 559.1 C139.0 559.8 135.8 560.3 133.0 561.0 C130.1 561.6 126.4 562.9 123.5 562.9 C120.7 562.9 118.4 561.3 115.9 561.0 C113.4 560.6 110.5 561.9 108.3 561.0 C106.1 560.0 104.2 556.8 102.6 555.3 C101.0 553.7 99.8 553.4 98.8 551.5 C97.9 549.6 97.6 546.4 96.9 543.9 C96.3 541.3 95.7 538.0 95.0 536.3 C94.4 534.5 94.4 534.4 93.1 533.4 C91.9 532.5 89.3 531.7 87.4 530.6 C85.5 529.5 84.0 528.4 81.8 526.8 C79.5 525.2 76.4 523.3 74.2 521.1 C71.9 518.9 70.2 516.7 68.5 513.5 C66.7 510.3 64.7 505.6 63.7 502.1 C62.7 498.6 62.4 495.5 62.4 492.6 C62.4 489.8 63.0 487.6 63.7 485.0 C64.4 482.5 66.3 480.6 66.6 477.4 C66.9 474.3 65.5 468.9 65.6 466.1 C65.8 463.2 65.8 462.3 67.5 460.4 C69.3 458.5 73.4 456.6 76.1 454.7 C78.7 452.8 81.6 450.7 83.7 449.0 C85.7 447.2 85.2 445.4 88.4 444.2 Z" fill="none" stroke="#3A22B4" stroke-width="3" filter="url(#bl1)"/>
<path d="M66.6 460.4 C68.8 456.3 74.2 454.4 78.0 452.8 C81.8 451.2 86.2 449.0 89.3 450.9 C92.5 452.8 94.7 459.7 96.9 464.2 C99.2 468.6 102.0 470.5 102.6 477.4 C103.3 484.4 101.7 499.0 100.7 505.9 C99.8 512.9 97.6 514.1 96.9 519.2 C96.3 524.3 97.6 533.9 96.9 536.3 C96.3 538.7 95.7 535.0 93.1 533.4 C90.6 531.9 85.9 530.1 81.8 526.8 C77.6 523.5 71.7 519.2 68.5 513.5 C65.2 507.8 63.0 498.6 62.4 492.6 C61.8 486.6 64.0 482.8 64.7 477.4 C65.4 472.1 64.4 464.5 66.6 460.4 Z" fill="#BC2A70" filter="url(#bl3)"/>
<rect x="47" y="438" width="117.3" height="127.1" filter="url(#tisN)" opacity="0.22"/>
<g filter="url(#bl05)"><ellipse cx="96.9" cy="489.8" rx="5.0" ry="5.0" transform="rotate(20 96.9 489.8)" fill="#1A0C5A" fill-opacity="0.90" /><ellipse cx="133.0" cy="488.8" rx="1.8" ry="4.1" transform="rotate(20 133.0 488.8)" fill="#1A0C5A" fill-opacity="0.90" /><ellipse cx="126.4" cy="516.4" rx="3.4" ry="2.3" transform="rotate(20 126.4 516.4)" fill="#1A0C5A" fill-opacity="0.90" /><ellipse cx="78.9" cy="486.9" rx="1.4" ry="0.9" transform="rotate(20 78.9 486.9)" fill="#1A0C5A" fill-opacity="0.90" /><ellipse cx="142.5" cy="551.5" rx="2.3" ry="1.1" transform="rotate(20 142.5 551.5)" fill="#1A0C5A" fill-opacity="0.90" /></g>
<path d="M66.5 484 L70 485.2 L74 486.3 L78 486.8 L80.5 487.8" fill="none" stroke="#0a0420" stroke-width="0.9"/>
<ellipse cx="106.4" cy="478.4" rx="1.2" ry="1.0" transform="rotate(0 106.4 478.4)" fill="#7A6BFF" fill-opacity="0.90" />
<ellipse cx="122.6" cy="468.9" rx="1.2" ry="1.0" transform="rotate(0 122.6 468.9)" fill="#7A6BFF" fill-opacity="0.90" />
<ellipse cx="127.3" cy="478.4" rx="1.2" ry="1.0" transform="rotate(0 127.3 478.4)" fill="#7A6BFF" fill-opacity="0.90" />
<ellipse cx="131.1" cy="477.1" rx="1.2" ry="1.0" transform="rotate(0 131.1 477.1)" fill="#7A6BFF" fill-opacity="0.90" />
<ellipse cx="113.1" cy="505.0" rx="1.2" ry="1.0" transform="rotate(0 113.1 505.0)" fill="#7A6BFF" fill-opacity="0.90" />
<ellipse cx="110.2" cy="553.4" rx="1.2" ry="1.0" transform="rotate(0 110.2 553.4)" fill="#7A6BFF" fill-opacity="0.90" />
<ellipse cx="155.8" cy="543.9" rx="1.2" ry="1.0" transform="rotate(0 155.8 543.9)" fill="#7A6BFF" fill-opacity="0.90" />
</g>
<text x="56.2" y="451.5" font-size="8.2" fill="#1FAA4A" text-anchor="middle" transform="rotate(-90 56.2 451.5)" >CD3</text>
<text x="56.2" y="500.3" font-size="8.2" fill="#E03A2A" text-anchor="middle" transform="rotate(-90 56.2 500.3)" >CD44</text>
<text x="56.2" y="550.5" font-size="8.2" fill="#4A4AB8" text-anchor="middle" transform="rotate(-90 56.2 550.5)" >DAPI</text>
<line x1="105.4" y1="575.3" x2="105.4" y2="582.8" stroke="#000" stroke-width="1.25" />
<path d="M100.05 579.20 L105.40 588.80 L110.75 579.20 L105.40 581.00 Z" fill="#000"/>
<text x="105.4" y="608.8" font-size="12" text-anchor="middle" textLength="170.6" lengthAdjust="spacingAndGlyphs" >Calculate spatial CD44 density</text>
<text x="47.7" y="629.4" font-size="6.8" text-anchor="middle" textLength="53.7" lengthAdjust="spacingAndGlyphs" >Normalized kernel</text>
<text x="48.5" y="638.3" font-size="6.8" text-anchor="middle" textLength="21.8" lengthAdjust="spacingAndGlyphs" >density</text>
<g fill="none" stroke="#111" stroke-width="1.15"><circle cx="29.2" cy="650.2" r="8.7"/><circle cx="42.6" cy="649.6" r="8.7"/><circle cx="54.7" cy="651.2" r="8.7"/><circle cx="67.2" cy="652.9" r="8.7"/><circle cx="21.2" cy="667.0" r="8.7"/><circle cx="31.9" cy="662.0" r="8.7"/><circle cx="47.0" cy="661.0" r="8.7"/><circle cx="59.8" cy="663.0" r="8.7"/><circle cx="72.9" cy="664.3" r="8.7"/><circle cx="26.2" cy="677.1" r="8.7"/><circle cx="40.3" cy="671.0" r="8.7"/><circle cx="52.7" cy="672.7" r="8.7"/><circle cx="63.8" cy="675.4" r="8.7"/><circle cx="75.6" cy="678.8" r="8.7"/><circle cx="29.2" cy="690.5" r="8.7"/><circle cx="42.0" cy="687.2" r="8.7"/><circle cx="56.1" cy="686.5" r="8.7"/><circle cx="69.5" cy="691.2" r="8.7"/><circle cx="45.3" cy="700.6" r="8.7"/><circle cx="60.4" cy="701.6" r="8.7"/></g>
<g fill="#E8201C" stroke="#1a0505" stroke-width="1.0"><circle cx="29.2" cy="650.2" r="1.75"/><circle cx="42.6" cy="649.6" r="1.75"/><circle cx="54.7" cy="651.2" r="1.75"/><circle cx="67.2" cy="652.9" r="1.75"/><circle cx="21.2" cy="667.0" r="1.75"/><circle cx="31.9" cy="662.0" r="1.75"/><circle cx="47.0" cy="661.0" r="1.75"/><circle cx="59.8" cy="663.0" r="1.75"/><circle cx="72.9" cy="664.3" r="1.75"/><circle cx="26.2" cy="677.1" r="1.75"/><circle cx="40.3" cy="671.0" r="1.75"/><circle cx="52.7" cy="672.7" r="1.75"/><circle cx="63.8" cy="675.4" r="1.75"/><circle cx="75.6" cy="678.8" r="1.75"/><circle cx="29.2" cy="690.5" r="1.75"/><circle cx="42.0" cy="687.2" r="1.75"/><circle cx="56.1" cy="686.5" r="1.75"/><circle cx="69.5" cy="691.2" r="1.75"/><circle cx="45.3" cy="700.6" r="1.75"/><circle cx="60.4" cy="701.6" r="1.75"/></g>
<g clip-path="url(#tisB)">
<path d="M120.7 624.2 C123.0 623.0 126.0 622.4 129.9 621.9 C133.7 621.4 139.6 621.3 143.6 621.4 C147.7 621.6 151.1 621.3 154.4 622.7 C157.7 624.0 160.8 628.4 163.6 629.6 C166.4 630.7 169.3 629.3 171.2 629.6 C173.2 629.8 174.4 629.7 175.1 631.1 C175.7 632.5 175.7 635.6 175.1 638.0 C174.4 640.4 172.1 642.3 171.2 645.7 C170.3 649.0 170.3 654.1 169.7 657.9 C169.1 661.8 167.9 665.6 167.4 668.6 C166.9 671.7 166.5 673.8 166.6 676.3 C166.8 678.9 167.2 681.9 168.2 684.0 C169.2 686.0 171.2 687.0 172.8 688.6 C174.3 690.1 176.5 691.1 177.4 693.2 C178.3 695.2 178.4 698.5 178.1 700.8 C177.9 703.1 176.7 704.9 175.8 707.0 C174.9 709.0 173.8 711.6 172.8 713.1 C171.7 714.6 171.2 715.7 169.7 716.2 C168.2 716.7 166.1 716.0 163.6 716.2 C161.0 716.3 156.9 716.9 154.4 716.9 C151.8 716.9 150.3 716.5 148.2 716.2 C146.2 715.8 144.2 715.1 142.1 714.6 C140.1 714.1 137.5 713.9 136.0 713.1 C134.5 712.3 133.9 711.3 132.9 710.0 C131.9 708.8 130.6 707.1 129.9 705.4 C129.1 703.8 129.2 701.1 128.3 700.1 C127.4 699.0 126.0 700.2 124.5 699.3 C123.0 698.4 121.0 696.5 119.1 694.7 C117.2 692.9 115.0 690.4 113.0 688.6 C110.9 686.8 108.8 685.5 106.9 684.0 C104.9 682.4 102.9 681.7 101.5 679.4 C100.1 677.1 98.8 672.7 98.4 670.2 C98.0 667.6 98.9 665.8 99.2 664.0 C99.5 662.3 99.2 660.5 100.0 659.5 C100.7 658.4 102.1 657.9 103.8 657.9 C105.5 657.9 109.4 660.0 109.9 659.5 C110.4 658.9 108.1 656.1 106.9 654.9 C105.6 653.6 103.2 653.6 102.3 651.8 C101.4 650.0 101.1 646.4 101.5 644.1 C101.9 641.8 102.9 639.8 104.6 638.0 C106.2 636.2 109.5 634.9 111.5 633.4 C113.4 631.9 114.5 630.3 116.1 628.8 C117.6 627.3 118.4 625.3 120.7 624.2 Z" fill="#1D0E22"/>
<path d="M104.6 638.0 C106.2 635.8 109.0 633.1 111.5 632.6 C113.9 632.1 116.8 633.3 119.1 634.9 C121.4 636.6 123.7 639.5 125.3 642.6 C126.8 645.7 127.9 649.2 128.3 653.3 C128.7 657.4 127.8 662.8 127.6 667.1 C127.3 671.5 127.0 675.3 126.8 679.4 C126.5 683.5 126.4 688.3 126.0 691.6 C125.6 695.0 125.6 698.8 124.5 699.3 C123.3 699.8 122.1 697.3 119.1 694.7 C116.2 692.2 110.2 688.1 106.9 684.0 C103.5 679.9 100.3 674.3 99.2 670.2 C98.0 666.1 99.6 663.5 100.0 659.5 C100.3 655.4 100.7 649.2 101.5 645.7 C102.3 642.1 102.9 640.2 104.6 638.0 Z" fill="#4A3F86" filter="url(#bl2)" transform="translate(1.2 0)"/>
<path d="M104.6 638.0 C106.2 635.8 109.0 633.1 111.5 632.6 C113.9 632.1 116.8 633.3 119.1 634.9 C121.4 636.6 123.7 639.5 125.3 642.6 C126.8 645.7 127.9 649.2 128.3 653.3 C128.7 657.4 127.8 662.8 127.6 667.1 C127.3 671.5 127.0 675.3 126.8 679.4 C126.5 683.5 126.4 688.3 126.0 691.6 C125.6 695.0 125.6 698.8 124.5 699.3 C123.3 699.8 122.1 697.3 119.1 694.7 C116.2 692.2 110.2 688.1 106.9 684.0 C103.5 679.9 100.3 674.3 99.2 670.2 C98.0 666.1 99.6 663.5 100.0 659.5 C100.3 655.4 100.7 649.2 101.5 645.7 C102.3 642.1 102.9 640.2 104.6 638.0 Z" fill="#4CC6BE" filter="url(#bl05)"/>
<g filter="url(#bl05)"><ellipse cx="102.9" cy="649.8" rx="2.0" ry="0.9" transform="rotate(78 102.9 649.8)" fill="#9AE4CE" fill-opacity="0.65" /><ellipse cx="112.8" cy="645.0" rx="1.2" ry="1.3" transform="rotate(93 112.8 645.0)" fill="#9AE4CE" fill-opacity="0.65" /><ellipse cx="111.6" cy="671.8" rx="2.7" ry="1.2" transform="rotate(117 111.6 671.8)" fill="#9AE4CE" fill-opacity="0.65" /><ellipse cx="118.3" cy="653.3" rx="2.8" ry="1.2" transform="rotate(57 118.3 653.3)" fill="#3C8DB8" fill-opacity="0.65" /><ellipse cx="123.3" cy="671.7" rx="2.4" ry="0.8" transform="rotate(127 123.3 671.7)" fill="#9AE4CE" fill-opacity="0.65" /><ellipse cx="110.2" cy="640.6" rx="2.7" ry="1.1" transform="rotate(113 110.2 640.6)" fill="#9AE4CE" fill-opacity="0.65" /><ellipse cx="108.3" cy="681.5" rx="1.4" ry="2.0" transform="rotate(118 108.3 681.5)" fill="#9AE4CE" fill-opacity="0.65" /><ellipse cx="118.0" cy="686.5" rx="2.4" ry="2.0" transform="rotate(18 118.0 686.5)" fill="#9AE4CE" fill-opacity="0.65" /><ellipse cx="122.2" cy="659.7" rx="1.3" ry="1.8" transform="rotate(53 122.2 659.7)" fill="#9AE4CE" fill-opacity="0.65" /><ellipse cx="122.8" cy="652.2" rx="1.7" ry="1.7" transform="rotate(35 122.8 652.2)" fill="#9AE4CE" fill-opacity="0.65" /><ellipse cx="105.3" cy="681.9" rx="2.0" ry="2.1" transform="rotate(37 105.3 681.9)" fill="#9AE4CE" fill-opacity="0.65" /><ellipse cx="122.2" cy="645.5" rx="2.1" ry="1.6" transform="rotate(175 122.2 645.5)" fill="#9AE4CE" fill-opacity="0.65" /><ellipse cx="120.6" cy="684.6" rx="1.7" ry="0.9" transform="rotate(35 120.6 684.6)" fill="#3C8DB8" fill-opacity="0.65" /><ellipse cx="106.1" cy="688.9" rx="1.5" ry="1.5" transform="rotate(153 106.1 688.9)" fill="#3C8DB8" fill-opacity="0.65" /><ellipse cx="125.1" cy="679.4" rx="2.0" ry="1.8" transform="rotate(9 125.1 679.4)" fill="#3C8DB8" fill-opacity="0.65" /><ellipse cx="117.9" cy="658.1" rx="2.2" ry="1.7" transform="rotate(94 117.9 658.1)" fill="#9AE4CE" fill-opacity="0.65" /><ellipse cx="114.8" cy="647.4" rx="1.2" ry="1.5" transform="rotate(97 114.8 647.4)" fill="#9AE4CE" fill-opacity="0.65" /><ellipse cx="120.3" cy="659.7" rx="1.9" ry="1.1" transform="rotate(133 120.3 659.7)" fill="#3C8DB8" fill-opacity="0.65" /><ellipse cx="110.6" cy="658.8" rx="1.7" ry="1.3" transform="rotate(63 110.6 658.8)" fill="#9AE4CE" fill-opacity="0.65" /><ellipse cx="112.9" cy="640.8" rx="2.7" ry="1.6" transform="rotate(134 112.9 640.8)" fill="#9AE4CE" fill-opacity="0.65" /><ellipse cx="124.7" cy="687.8" rx="2.5" ry="1.9" transform="rotate(46 124.7 687.8)" fill="#9AE4CE" fill-opacity="0.65" /><ellipse cx="112.9" cy="656.5" rx="2.0" ry="1.2" transform="rotate(111 112.9 656.5)" fill="#3C8DB8" fill-opacity="0.65" /><ellipse cx="115.5" cy="641.5" rx="1.7" ry="1.8" transform="rotate(16 115.5 641.5)" fill="#9AE4CE" fill-opacity="0.65" /><ellipse cx="105.0" cy="667.1" rx="2.2" ry="1.3" transform="rotate(35 105.0 667.1)" fill="#9AE4CE" fill-opacity="0.65" /><ellipse cx="124.3" cy="650.3" rx="1.5" ry="1.3" transform="rotate(41 124.3 650.3)" fill="#3C8DB8" fill-opacity="0.65" /><ellipse cx="114.3" cy="693.8" rx="1.7" ry="1.7" transform="rotate(159 114.3 693.8)" fill="#3C8DB8" fill-opacity="0.65" /><ellipse cx="126.0" cy="644.0" rx="2.6" ry="0.9" transform="rotate(106 126.0 644.0)" fill="#9AE4CE" fill-opacity="0.65" /><ellipse cx="105.1" cy="683.2" rx="2.0" ry="0.8" transform="rotate(12 105.1 683.2)" fill="#9AE4CE" fill-opacity="0.65" /><ellipse cx="111.2" cy="688.2" rx="2.2" ry="1.4" transform="rotate(48 111.2 688.2)" fill="#3C8DB8" fill-opacity="0.65" /><ellipse cx="118.5" cy="654.3" rx="2.4" ry="1.5" transform="rotate(141 118.5 654.3)" fill="#9AE4CE" fill-opacity="0.65" /><ellipse cx="113.8" cy="645.0" rx="2.6" ry="1.6" transform="rotate(174 113.8 645.0)" fill="#9AE4CE" fill-opacity="0.65" /><ellipse cx="100.8" cy="656.3" rx="2.2" ry="1.6" transform="rotate(119 100.8 656.3)" fill="#9AE4CE" fill-opacity="0.65" /><ellipse cx="122.9" cy="677.9" rx="2.0" ry="1.7" transform="rotate(58 122.9 677.9)" fill="#9AE4CE" fill-opacity="0.65" /><ellipse cx="117.7" cy="673.6" rx="1.9" ry="0.8" transform="rotate(97 117.7 673.6)" fill="#9AE4CE" fill-opacity="0.65" /><ellipse cx="122.4" cy="675.1" rx="1.7" ry="1.3" transform="rotate(129 122.4 675.1)" fill="#9AE4CE" fill-opacity="0.65" /><ellipse cx="102.7" cy="689.4" rx="2.7" ry="1.0" transform="rotate(21 102.7 689.4)" fill="#9AE4CE" fill-opacity="0.65" /><ellipse cx="123.3" cy="660.1" rx="1.7" ry="1.7" transform="rotate(29 123.3 660.1)" fill="#3C8DB8" fill-opacity="0.65" /><ellipse cx="113.1" cy="676.4" rx="1.0" ry="1.9" transform="rotate(78 113.1 676.4)" fill="#9AE4CE" fill-opacity="0.65" /><ellipse cx="111.8" cy="670.3" rx="2.6" ry="1.1" transform="rotate(98 111.8 670.3)" fill="#3C8DB8" fill-opacity="0.65" /><ellipse cx="105.0" cy="673.6" rx="2.6" ry="1.0" transform="rotate(112 105.0 673.6)" fill="#9AE4CE" fill-opacity="0.65" /><ellipse cx="123.3" cy="647.5" rx="2.3" ry="1.8" transform="rotate(81 123.3 647.5)" fill="#9AE4CE" fill-opacity="0.65" /><ellipse cx="116.9" cy="677.0" rx="2.2" ry="1.6" transform="rotate(126 116.9 677.0)" fill="#9AE4CE" fill-opacity="0.65" /><ellipse cx="113.7" cy="656.1" rx="2.7" ry="1.1" transform="rotate(27 113.7 656.1)" fill="#9AE4CE" fill-opacity="0.65" /><ellipse cx="101.0" cy="688.5" rx="1.4" ry="1.2" transform="rotate(36 101.0 688.5)" fill="#9AE4CE" fill-opacity="0.65" /><ellipse cx="115.9" cy="665.4" rx="1.4" ry="2.0" transform="rotate(84 115.9 665.4)" fill="#9AE4CE" fill-opacity="0.65" /><ellipse cx="121.2" cy="685.3" rx="1.9" ry="1.7" transform="rotate(101 121.2 685.3)" fill="#9AE4CE" fill-opacity="0.65" /><ellipse cx="105.5" cy="666.4" rx="2.6" ry="0.8" transform="rotate(119 105.5 666.4)" fill="#9AE4CE" fill-opacity="0.65" /><ellipse cx="109.0" cy="643.5" rx="2.4" ry="2.1" transform="rotate(94 109.0 643.5)" fill="#3C8DB8" fill-opacity="0.65" /><ellipse cx="110.4" cy="667.0" rx="2.3" ry="0.9" transform="rotate(38 110.4 667.0)" fill="#9AE4CE" fill-opacity="0.65" /><ellipse cx="122.7" cy="665.9" rx="2.4" ry="1.7" transform="rotate(132 122.7 665.9)" fill="#9AE4CE" fill-opacity="0.65" /><ellipse cx="114.5" cy="649.3" rx="2.8" ry="0.8" transform="rotate(124 114.5 649.3)" fill="#3C8DB8" fill-opacity="0.65" /><ellipse cx="123.0" cy="649.5" rx="1.7" ry="1.3" transform="rotate(83 123.0 649.5)" fill="#3C8DB8" fill-opacity="0.65" /><ellipse cx="111.5" cy="694.1" rx="2.7" ry="0.9" transform="rotate(169 111.5 694.1)" fill="#3C8DB8" fill-opacity="0.65" /><ellipse cx="109.2" cy="680.6" rx="1.8" ry="1.7" transform="rotate(113 109.2 680.6)" fill="#3C8DB8" fill-opacity="0.65" /><ellipse cx="121.1" cy="644.6" rx="2.1" ry="0.8" transform="rotate(150 121.1 644.6)" fill="#9AE4CE" fill-opacity="0.65" /><ellipse cx="111.3" cy="650.4" rx="2.2" ry="0.9" transform="rotate(44 111.3 650.4)" fill="#3C8DB8" fill-opacity="0.65" /><ellipse cx="108.4" cy="651.2" rx="2.1" ry="2.1" transform="rotate(126 108.4 651.2)" fill="#9AE4CE" fill-opacity="0.65" /><ellipse cx="108.2" cy="655.3" rx="1.4" ry="1.6" transform="rotate(132 108.2 655.3)" fill="#3C8DB8" fill-opacity="0.65" /><ellipse cx="108.2" cy="656.6" rx="2.7" ry="0.9" transform="rotate(13 108.2 656.6)" fill="#9AE4CE" fill-opacity="0.65" /><ellipse cx="119.9" cy="666.1" rx="2.1" ry="1.9" transform="rotate(13 119.9 666.1)" fill="#9AE4CE" fill-opacity="0.65" /><ellipse cx="125.1" cy="695.1" rx="1.8" ry="1.2" transform="rotate(106 125.1 695.1)" fill="#9AE4CE" fill-opacity="0.65" /><ellipse cx="105.9" cy="668.5" rx="1.9" ry="2.0" transform="rotate(32 105.9 668.5)" fill="#9AE4CE" fill-opacity="0.65" /><ellipse cx="123.1" cy="642.7" rx="2.3" ry="1.2" transform="rotate(21 123.1 642.7)" fill="#3C8DB8" fill-opacity="0.65" /><ellipse cx="102.9" cy="684.8" rx="1.1" ry="2.1" transform="rotate(141 102.9 684.8)" fill="#3C8DB8" fill-opacity="0.65" /><ellipse cx="110.1" cy="647.0" rx="2.4" ry="1.7" transform="rotate(95 110.1 647.0)" fill="#9AE4CE" fill-opacity="0.65" /><ellipse cx="114.0" cy="696.4" rx="1.2" ry="0.9" transform="rotate(107 114.0 696.4)" fill="#9AE4CE" fill-opacity="0.65" /><ellipse cx="119.3" cy="674.4" rx="1.5" ry="1.3" transform="rotate(48 119.3 674.4)" fill="#9AE4CE" fill-opacity="0.65" /><ellipse cx="110.2" cy="651.7" rx="1.3" ry="1.1" transform="rotate(129 110.2 651.7)" fill="#9AE4CE" fill-opacity="0.65" /><ellipse cx="110.8" cy="656.4" rx="2.6" ry="1.1" transform="rotate(28 110.8 656.4)" fill="#9AE4CE" fill-opacity="0.65" /><ellipse cx="113.2" cy="671.0" rx="2.1" ry="1.7" transform="rotate(147 113.2 671.0)" fill="#3C8DB8" fill-opacity="0.65" /></g>
<g fill="#111"><rect x="108.2" y="674.0" width="0.7" height="0.7"/><rect x="103.7" y="640.2" width="0.7" height="0.7"/><rect x="103.6" y="643.2" width="0.7" height="0.7"/><rect x="121.4" y="658.1" width="0.7" height="0.7"/><rect x="114.3" y="662.7" width="0.7" height="0.7"/><rect x="107.3" y="639.1" width="0.7" height="0.7"/><rect x="106.7" y="686.5" width="0.7" height="0.7"/><rect x="110.6" y="661.0" width="0.7" height="0.7"/><rect x="108.7" y="679.6" width="0.7" height="0.7"/><rect x="119.5" y="658.8" width="0.7" height="0.7"/><rect x="114.7" y="659.5" width="0.7" height="0.7"/><rect x="116.3" y="671.0" width="0.7" height="0.7"/><rect x="116.4" y="689.0" width="0.7" height="0.7"/><rect x="125.6" y="639.5" width="0.7" height="0.7"/><rect x="111.6" y="638.8" width="0.7" height="0.7"/><rect x="111.5" y="683.2" width="0.7" height="0.7"/><rect x="118.9" y="669.5" width="0.7" height="0.7"/><rect x="104.4" y="683.7" width="0.7" height="0.7"/><rect x="117.3" y="654.1" width="0.7" height="0.7"/><rect x="121.5" y="638.7" width="0.7" height="0.7"/><rect x="106.9" y="682.4" width="0.7" height="0.7"/><rect x="103.4" y="644.2" width="0.7" height="0.7"/><rect x="114.6" y="677.8" width="0.7" height="0.7"/><rect x="116.7" y="638.6" width="0.7" height="0.7"/><rect x="109.0" y="677.6" width="0.7" height="0.7"/><rect x="110.8" y="647.8" width="0.7" height="0.7"/><rect x="102.3" y="651.8" width="0.7" height="0.7"/><rect x="125.1" y="639.3" width="0.7" height="0.7"/><rect x="115.8" y="689.4" width="0.7" height="0.7"/><rect x="119.4" y="652.8" width="0.7" height="0.7"/></g>
<path d="M106.9 645.7 C108.6 642.6 112.2 644.1 114.5 645.7 C116.8 647.2 119.9 651.0 120.7 654.9 C121.4 658.7 120.1 664.6 119.1 668.6 C118.1 672.7 116.6 678.1 114.5 679.4 C112.5 680.7 108.6 678.9 106.9 676.3 C105.1 673.8 103.8 669.2 103.8 664.0 C103.8 658.9 105.1 648.7 106.9 645.7 Z" fill="#7ED6C4" opacity="0.6" filter="url(#bl2)"/>
</g>
<ellipse cx="146.7" cy="643.4" rx="0.9" ry="1.2" transform="rotate(0 146.7 643.4)" fill="#fff" />
<ellipse cx="135.2" cy="651.5" rx="2.1" ry="1.2" transform="rotate(0 135.2 651.5)" fill="#fff" />
<ellipse cx="152.8" cy="650.3" rx="2.5" ry="1.5" transform="rotate(0 152.8 650.3)" fill="#fff" />
<ellipse cx="151.3" cy="655.2" rx="0.9" ry="0.9" transform="rotate(0 151.3 655.2)" fill="#fff" />
<ellipse cx="157.4" cy="659.5" rx="1.2" ry="3.1" transform="rotate(0 157.4 659.5)" fill="#fff" />
<ellipse cx="148.2" cy="682.4" rx="2.8" ry="1.8" transform="rotate(0 148.2 682.4)" fill="#fff" />
<ellipse cx="139.8" cy="672.5" rx="0.9" ry="0.6" transform="rotate(0 139.8 672.5)" fill="#fff" />
<ellipse cx="166.6" cy="703.1" rx="3.1" ry="0.6" transform="rotate(0 166.6 703.1)" fill="#fff" />
<ellipse cx="143.6" cy="710.0" rx="1.8" ry="0.9" transform="rotate(0 143.6 710.0)" fill="#fff" />
<ellipse cx="160.5" cy="711.6" rx="1.8" ry="0.6" transform="rotate(0 160.5 711.6)" fill="#fff" />
<path d="M97.7 659.8 C98.0 658.7 102.4 657.5 104.6 657.3 C106.7 657.2 109.4 657.9 110.7 658.8 C112.0 659.8 112.7 661.5 112.4 662.8 C112.0 664.1 110.2 665.6 108.7 666.5 C107.2 667.4 105.1 667.9 103.5 668.0 C101.9 668.2 99.4 668.1 99.2 667.4 C99.0 666.7 102.5 665.0 102.3 663.7 C102.0 662.5 97.3 660.8 97.7 659.8 Z" fill="#fff"/>
<rect x="178.1" y="656.7" width="5.7" height="30.6" fill="url(#gMako)" />
<text x="177.8" y="653.3" font-size="3.6" fill="#333" >CD44_density</text>
<text x="185.8" y="663.3" font-size="2.9" fill="#555" >0.75</text>
<text x="185.8" y="671.8" font-size="2.9" fill="#555" >0.50</text>
<text x="185.8" y="680.2" font-size="2.9" fill="#555" >0.25</text>
<rect x="98" y="719" width="11.2" height="0.9" fill="#000" />
<line x1="105.4" y1="740.5" x2="105.4" y2="748" stroke="#000" stroke-width="1.25" />
<path d="M100.05 744.40 L105.40 754.00 L110.75 744.40 L105.40 746.20 Z" fill="#000"/>
<text x="104" y="774.2" font-size="12" text-anchor="middle" textLength="135" lengthAdjust="spacingAndGlyphs" >Bin CD44 density scores</text>
<text x="105" y="789.6" font-size="12" text-anchor="middle" textLength="129.3" lengthAdjust="spacingAndGlyphs" >and assign cells to bins</text>
<g clip-path="url(#tisC)">
<path d="M50.0 799.4 C52.4 798.3 56.8 797.0 60.6 796.4 C64.3 795.8 68.7 795.8 72.8 795.9 C76.9 796.0 81.6 796.4 85.1 797.1 C88.6 797.8 91.6 799.1 93.8 800.3 C96.0 801.4 95.9 803.2 98.2 804.1 C100.6 805.0 104.3 805.5 107.9 805.9 C111.4 806.2 117.0 805.6 119.2 806.4 C121.4 807.2 121.1 808.9 121.0 810.8 C120.8 812.7 119.1 814.6 118.4 817.8 C117.6 821.0 117.0 826.2 116.6 830.0 C116.3 833.8 116.7 837.0 116.3 840.6 C115.8 844.1 114.9 847.8 114.0 851.1 C113.0 854.3 111.8 857.2 110.5 859.8 C109.2 862.4 106.7 864.8 106.1 866.8 C105.5 868.9 106.2 870.0 107.0 872.1 C107.7 874.1 109.2 877.0 110.5 879.1 C111.8 881.1 113.3 882.6 114.9 884.3 C116.5 886.1 118.5 888.1 120.1 889.6 C121.7 891.1 123.6 891.4 124.5 893.1 C125.4 894.9 125.7 897.5 125.7 900.1 C125.7 902.7 125.1 906.2 124.5 908.9 C123.9 911.5 122.9 914.0 121.9 915.9 C120.8 917.8 120.0 919.4 118.4 920.3 C116.8 921.1 114.3 921.6 112.2 921.1 C110.2 920.7 108.0 918.5 106.1 917.6 C104.2 916.8 102.9 916.0 100.8 915.9 C98.8 915.7 95.9 916.0 93.8 916.8 C91.8 917.5 90.3 919.1 88.6 920.3 C86.8 921.4 85.2 923.3 83.3 923.8 C81.4 924.2 79.2 923.8 77.2 922.9 C75.1 922.0 73.0 919.7 71.1 918.5 C69.2 917.3 67.3 917.1 65.8 915.9 C64.3 914.7 63.2 913.3 62.3 911.5 C61.4 909.8 61.0 907.3 60.6 905.4 C60.1 903.5 60.3 901.4 59.7 900.1 C59.1 898.8 58.2 898.2 57.0 897.5 C55.9 896.8 54.7 897.0 52.7 895.7 C50.6 894.4 47.6 891.8 44.8 889.6 C42.0 887.4 38.9 885.2 36.0 882.6 C33.1 880.0 29.5 876.5 27.3 873.8 C25.1 871.2 24.0 869.2 22.9 866.8 C21.8 864.5 20.9 862.4 20.6 859.8 C20.3 857.2 20.8 853.4 21.1 851.1 C21.5 848.7 21.9 847.2 22.9 845.8 C23.9 844.4 26.8 843.8 27.3 842.7 C27.7 841.5 25.9 840.5 25.5 838.8 C25.1 837.1 24.8 834.7 24.6 832.7 C24.5 830.6 24.4 828.4 24.6 826.5 C24.8 824.6 25.1 823.0 25.9 821.3 C26.6 819.5 27.6 817.6 29.0 816.0 C30.4 814.4 32.2 813.1 34.3 811.6 C36.3 810.2 39.2 808.7 41.3 807.3 C43.3 805.8 45.1 804.2 46.5 802.9 C48.0 801.6 47.7 800.5 50.0 799.4 Z" fill="#25848C"/>
<path d="M62.3 865.1 C66.7 860.7 77.8 859.2 85.1 859.8 C92.4 860.4 100.0 863.0 106.1 868.6 C112.2 874.1 119.2 884.9 121.9 893.1 C124.5 901.3 126.5 912.8 121.9 917.6 C117.2 922.5 102.0 921.3 93.8 922.0 C85.7 922.7 78.3 924.5 72.8 922.0 C67.3 919.5 63.2 913.1 60.9 907.1 C58.6 901.1 58.6 893.1 58.8 886.1 C59.0 879.1 57.9 869.5 62.3 865.1 Z" fill="#48297E" opacity="0.8" filter="url(#bl3)"/>
<path d="M64.1 803.8 C67.8 795.9 81.9 798.2 88.6 800.3 C95.3 802.3 102.3 808.1 104.3 816.0 C106.4 823.9 104.3 840.6 100.8 847.6 C97.3 854.6 89.2 858.1 83.3 858.1 C77.5 858.1 69.0 856.6 65.8 847.6 C62.6 838.5 60.3 811.6 64.1 803.8 Z" fill="#3E3F88" opacity="0.45" filter="url(#bl3)"/>
<g filter="url(#bl1)"><ellipse cx="90.5" cy="834.1" rx="1.9" ry="2.2" transform="rotate(74 90.5 834.1)" fill="#4A2A82" fill-opacity="0.50" /><ellipse cx="60.0" cy="804.6" rx="4.0" ry="2.6" transform="rotate(42 60.0 804.6)" fill="#4A2A82" fill-opacity="0.50" /><ellipse cx="82.5" cy="859.8" rx="3.3" ry="1.6" transform="rotate(100 82.5 859.8)" fill="#4A2A82" fill-opacity="0.50" /><ellipse cx="113.4" cy="826.8" rx="3.8" ry="3.0" transform="rotate(3 113.4 826.8)" fill="#4A2A82" fill-opacity="0.50" /><ellipse cx="102.9" cy="798.7" rx="2.9" ry="2.2" transform="rotate(37 102.9 798.7)" fill="#4A2A82" fill-opacity="0.50" /><ellipse cx="77.6" cy="817.0" rx="3.3" ry="2.3" transform="rotate(144 77.6 817.0)" fill="#4A2A82" fill-opacity="0.50" /><ellipse cx="72.3" cy="838.3" rx="3.6" ry="2.4" transform="rotate(91 72.3 838.3)" fill="#4A2A82" fill-opacity="0.50" /><ellipse cx="72.4" cy="800.3" rx="3.9" ry="1.6" transform="rotate(152 72.4 800.3)" fill="#4A2A82" fill-opacity="0.50" /><ellipse cx="93.1" cy="828.4" rx="3.4" ry="2.6" transform="rotate(123 93.1 828.4)" fill="#4A2A82" fill-opacity="0.50" /><ellipse cx="87.1" cy="826.1" rx="3.2" ry="1.7" transform="rotate(125 87.1 826.1)" fill="#4A2A82" fill-opacity="0.50" /><ellipse cx="98.2" cy="845.3" rx="3.6" ry="1.8" transform="rotate(70 98.2 845.3)" fill="#4A2A82" fill-opacity="0.50" /><ellipse cx="108.8" cy="845.8" rx="3.4" ry="2.5" transform="rotate(169 108.8 845.8)" fill="#4A2A82" fill-opacity="0.50" /><ellipse cx="109.5" cy="817.5" rx="3.4" ry="2.9" transform="rotate(72 109.5 817.5)" fill="#4A2A82" fill-opacity="0.50" /><ellipse cx="92.9" cy="858.1" rx="3.9" ry="2.0" transform="rotate(72 92.9 858.1)" fill="#4A2A82" fill-opacity="0.50" /><ellipse cx="57.1" cy="850.8" rx="3.2" ry="3.1" transform="rotate(166 57.1 850.8)" fill="#4A2A82" fill-opacity="0.50" /><ellipse cx="67.2" cy="848.9" rx="2.0" ry="3.0" transform="rotate(149 67.2 848.9)" fill="#4A2A82" fill-opacity="0.50" /><ellipse cx="66.1" cy="864.1" rx="2.4" ry="2.3" transform="rotate(100 66.1 864.1)" fill="#4A2A82" fill-opacity="0.50" /><ellipse cx="75.1" cy="854.1" rx="1.9" ry="1.5" transform="rotate(35 75.1 854.1)" fill="#4A2A82" fill-opacity="0.50" /><ellipse cx="114.7" cy="858.3" rx="2.8" ry="2.6" transform="rotate(155 114.7 858.3)" fill="#4A2A82" fill-opacity="0.50" /><ellipse cx="104.8" cy="860.9" rx="3.3" ry="2.7" transform="rotate(1 104.8 860.9)" fill="#4A2A82" fill-opacity="0.50" /><ellipse cx="59.6" cy="817.0" rx="2.3" ry="1.8" transform="rotate(9 59.6 817.0)" fill="#4A2A82" fill-opacity="0.50" /><ellipse cx="114.5" cy="842.0" rx="2.6" ry="2.2" transform="rotate(122 114.5 842.0)" fill="#4A2A82" fill-opacity="0.50" /><ellipse cx="91.7" cy="837.8" rx="2.9" ry="1.6" transform="rotate(8 91.7 837.8)" fill="#4A2A82" fill-opacity="0.50" /><ellipse cx="91.4" cy="857.9" rx="3.6" ry="1.5" transform="rotate(100 91.4 857.9)" fill="#4A2A82" fill-opacity="0.50" /><ellipse cx="104.3" cy="863.8" rx="3.0" ry="2.3" transform="rotate(111 104.3 863.8)" fill="#4A2A82" fill-opacity="0.50" /><ellipse cx="73.1" cy="867.2" rx="3.3" ry="1.8" transform="rotate(178 73.1 867.2)" fill="#4A2A82" fill-opacity="0.50" /><ellipse cx="76.1" cy="853.7" rx="2.4" ry="1.6" transform="rotate(3 76.1 853.7)" fill="#4A2A82" fill-opacity="0.50" /><ellipse cx="73.2" cy="806.7" rx="2.2" ry="2.7" transform="rotate(90 73.2 806.7)" fill="#4A2A82" fill-opacity="0.50" /><ellipse cx="92.6" cy="854.9" rx="2.4" ry="2.3" transform="rotate(166 92.6 854.9)" fill="#4A2A82" fill-opacity="0.50" /><ellipse cx="73.3" cy="822.6" rx="2.5" ry="1.7" transform="rotate(168 73.3 822.6)" fill="#4A2A82" fill-opacity="0.50" /><ellipse cx="80.7" cy="820.4" rx="1.8" ry="1.6" transform="rotate(39 80.7 820.4)" fill="#4A2A82" fill-opacity="0.50" /><ellipse cx="116.8" cy="811.1" rx="3.7" ry="2.2" transform="rotate(141 116.8 811.1)" fill="#4A2A82" fill-opacity="0.50" /><ellipse cx="89.9" cy="811.5" rx="3.5" ry="2.9" transform="rotate(87 89.9 811.5)" fill="#4A2A82" fill-opacity="0.50" /><ellipse cx="84.2" cy="845.0" rx="2.6" ry="1.6" transform="rotate(50 84.2 845.0)" fill="#4A2A82" fill-opacity="0.50" /><ellipse cx="71.9" cy="806.3" rx="3.0" ry="2.3" transform="rotate(5 71.9 806.3)" fill="#4A2A82" fill-opacity="0.50" /><ellipse cx="65.7" cy="844.9" rx="3.9" ry="1.7" transform="rotate(74 65.7 844.9)" fill="#4A2A82" fill-opacity="0.50" /><ellipse cx="109.0" cy="800.9" rx="1.9" ry="3.1" transform="rotate(123 109.0 800.9)" fill="#4A2A82" fill-opacity="0.50" /><ellipse cx="74.0" cy="858.2" rx="2.3" ry="3.0" transform="rotate(171 74.0 858.2)" fill="#4A2A82" fill-opacity="0.50" /><ellipse cx="61.7" cy="863.7" rx="2.2" ry="2.2" transform="rotate(133 61.7 863.7)" fill="#4A2A82" fill-opacity="0.50" /><ellipse cx="103.3" cy="822.1" rx="2.5" ry="2.2" transform="rotate(70 103.3 822.1)" fill="#4A2A82" fill-opacity="0.50" /><ellipse cx="78.8" cy="853.4" rx="1.9" ry="2.1" transform="rotate(170 78.8 853.4)" fill="#4A2A82" fill-opacity="0.50" /><ellipse cx="89.6" cy="867.8" rx="3.1" ry="2.5" transform="rotate(145 89.6 867.8)" fill="#4A2A82" fill-opacity="0.50" /><ellipse cx="73.9" cy="837.9" rx="3.8" ry="2.3" transform="rotate(173 73.9 837.9)" fill="#4A2A82" fill-opacity="0.50" /><ellipse cx="87.7" cy="857.4" rx="3.7" ry="1.7" transform="rotate(93 87.7 857.4)" fill="#4A2A82" fill-opacity="0.50" /><ellipse cx="73.2" cy="841.1" rx="3.6" ry="2.2" transform="rotate(141 73.2 841.1)" fill="#4A2A82" fill-opacity="0.50" /><ellipse cx="69.4" cy="845.0" rx="1.9" ry="1.6" transform="rotate(28 69.4 845.0)" fill="#4A2A82" fill-opacity="0.50" /><ellipse cx="57.4" cy="805.7" rx="1.9" ry="3.1" transform="rotate(147 57.4 805.7)" fill="#4A2A82" fill-opacity="0.50" /><ellipse cx="71.7" cy="831.4" rx="3.1" ry="1.8" transform="rotate(175 71.7 831.4)" fill="#4A2A82" fill-opacity="0.50" /><ellipse cx="94.2" cy="833.5" rx="3.4" ry="3.2" transform="rotate(107 94.2 833.5)" fill="#4A2A82" fill-opacity="0.50" /><ellipse cx="100.3" cy="859.4" rx="3.2" ry="1.9" transform="rotate(55 100.3 859.4)" fill="#4A2A82" fill-opacity="0.50" /><ellipse cx="90.4" cy="807.0" rx="3.1" ry="1.8" transform="rotate(46 90.4 807.0)" fill="#4A2A82" fill-opacity="0.50" /><ellipse cx="108.8" cy="839.9" rx="3.1" ry="2.5" transform="rotate(16 108.8 839.9)" fill="#4A2A82" fill-opacity="0.50" /><ellipse cx="101.9" cy="863.3" rx="2.9" ry="2.8" transform="rotate(14 101.9 863.3)" fill="#4A2A82" fill-opacity="0.50" /><ellipse cx="76.5" cy="830.3" rx="2.0" ry="2.0" transform="rotate(101 76.5 830.3)" fill="#4A2A82" fill-opacity="0.50" /><ellipse cx="59.6" cy="834.5" rx="2.4" ry="1.8" transform="rotate(143 59.6 834.5)" fill="#4A2A82" fill-opacity="0.50" /><ellipse cx="85.6" cy="806.8" rx="2.6" ry="2.4" transform="rotate(68 85.6 806.8)" fill="#4A2A82" fill-opacity="0.50" /><ellipse cx="115.2" cy="856.9" rx="2.3" ry="3.0" transform="rotate(159 115.2 856.9)" fill="#4A2A82" fill-opacity="0.50" /><ellipse cx="65.3" cy="824.8" rx="3.3" ry="2.9" transform="rotate(173 65.3 824.8)" fill="#4A2A82" fill-opacity="0.50" /><ellipse cx="58.4" cy="822.0" rx="2.7" ry="2.4" transform="rotate(140 58.4 822.0)" fill="#4A2A82" fill-opacity="0.50" /><ellipse cx="93.1" cy="863.0" rx="2.3" ry="2.6" transform="rotate(105 93.1 863.0)" fill="#4A2A82" fill-opacity="0.50" /><ellipse cx="118.3" cy="822.1" rx="2.1" ry="2.1" transform="rotate(59 118.3 822.1)" fill="#4A2A82" fill-opacity="0.50" /><ellipse cx="86.4" cy="819.8" rx="3.4" ry="2.9" transform="rotate(1 86.4 819.8)" fill="#4A2A82" fill-opacity="0.50" /><ellipse cx="116.1" cy="809.8" rx="2.5" ry="2.3" transform="rotate(76 116.1 809.8)" fill="#4A2A82" fill-opacity="0.50" /><ellipse cx="111.4" cy="826.8" rx="2.2" ry="2.4" transform="rotate(27 111.4 826.8)" fill="#4A2A82" fill-opacity="0.50" /><ellipse cx="111.2" cy="849.7" rx="3.5" ry="2.2" transform="rotate(82 111.2 849.7)" fill="#4A2A82" fill-opacity="0.50" /><ellipse cx="63.9" cy="803.2" rx="3.3" ry="1.8" transform="rotate(172 63.9 803.2)" fill="#4A2A82" fill-opacity="0.50" /><ellipse cx="115.0" cy="835.5" rx="1.8" ry="1.9" transform="rotate(82 115.0 835.5)" fill="#4A2A82" fill-opacity="0.50" /><ellipse cx="66.9" cy="833.4" rx="3.4" ry="2.1" transform="rotate(61 66.9 833.4)" fill="#4A2A82" fill-opacity="0.50" /><ellipse cx="72.2" cy="864.6" rx="4.0" ry="1.8" transform="rotate(152 72.2 864.6)" fill="#4A2A82" fill-opacity="0.50" /><ellipse cx="92.2" cy="863.2" rx="2.0" ry="2.5" transform="rotate(178 92.2 863.2)" fill="#4A2A82" fill-opacity="0.50" /><ellipse cx="104.3" cy="856.5" rx="2.8" ry="3.0" transform="rotate(1 104.3 856.5)" fill="#4A2A82" fill-opacity="0.50" /><ellipse cx="91.6" cy="803.6" rx="3.0" ry="2.6" transform="rotate(16 91.6 803.6)" fill="#4A2A82" fill-opacity="0.50" /><ellipse cx="61.1" cy="804.2" rx="2.0" ry="2.7" transform="rotate(161 61.1 804.2)" fill="#4A2A82" fill-opacity="0.50" /><ellipse cx="71.4" cy="865.5" rx="3.5" ry="1.7" transform="rotate(86 71.4 865.5)" fill="#4A2A82" fill-opacity="0.50" /><ellipse cx="113.2" cy="842.7" rx="3.6" ry="2.3" transform="rotate(170 113.2 842.7)" fill="#4A2A82" fill-opacity="0.50" /><ellipse cx="61.9" cy="840.7" rx="2.1" ry="2.2" transform="rotate(73 61.9 840.7)" fill="#4A2A82" fill-opacity="0.50" /><ellipse cx="72.6" cy="850.6" rx="3.3" ry="2.5" transform="rotate(44 72.6 850.6)" fill="#4A2A82" fill-opacity="0.50" /><ellipse cx="84.4" cy="855.6" rx="2.2" ry="2.9" transform="rotate(64 84.4 855.6)" fill="#4A2A82" fill-opacity="0.50" /><ellipse cx="76.8" cy="823.1" rx="2.6" ry="2.4" transform="rotate(111 76.8 823.1)" fill="#4A2A82" fill-opacity="0.50" /><ellipse cx="86.9" cy="854.3" rx="2.8" ry="2.0" transform="rotate(147 86.9 854.3)" fill="#4A2A82" fill-opacity="0.50" /><ellipse cx="86.4" cy="810.4" rx="2.6" ry="2.3" transform="rotate(65 86.4 810.4)" fill="#4A2A82" fill-opacity="0.50" /><ellipse cx="84.6" cy="860.1" rx="3.3" ry="1.5" transform="rotate(88 84.6 860.1)" fill="#4A2A82" fill-opacity="0.50" /><ellipse cx="86.8" cy="851.9" rx="1.8" ry="1.5" transform="rotate(88 86.8 851.9)" fill="#4A2A82" fill-opacity="0.50" /><ellipse cx="86.6" cy="840.1" rx="2.1" ry="2.1" transform="rotate(121 86.6 840.1)" fill="#4A2A82" fill-opacity="0.50" /><ellipse cx="57.2" cy="840.6" rx="2.9" ry="2.9" transform="rotate(102 57.2 840.6)" fill="#4A2A82" fill-opacity="0.50" /><ellipse cx="121.8" cy="841.2" rx="2.9" ry="1.6" transform="rotate(137 121.8 841.2)" fill="#4A2A82" fill-opacity="0.50" /><ellipse cx="98.8" cy="827.6" rx="3.6" ry="2.4" transform="rotate(167 98.8 827.6)" fill="#4A2A82" fill-opacity="0.50" /><ellipse cx="110.2" cy="811.0" rx="2.3" ry="2.9" transform="rotate(6 110.2 811.0)" fill="#4A2A82" fill-opacity="0.50" /><ellipse cx="109.6" cy="830.2" rx="2.5" ry="1.6" transform="rotate(23 109.6 830.2)" fill="#4A2A82" fill-opacity="0.50" /><ellipse cx="96.6" cy="816.4" rx="3.6" ry="2.3" transform="rotate(108 96.6 816.4)" fill="#4A2A82" fill-opacity="0.50" /><ellipse cx="100.0" cy="824.0" rx="3.6" ry="2.2" transform="rotate(90 100.0 824.0)" fill="#4A2A82" fill-opacity="0.50" /><ellipse cx="65.2" cy="830.2" rx="2.8" ry="2.7" transform="rotate(82 65.2 830.2)" fill="#4A2A82" fill-opacity="0.50" /><ellipse cx="83.1" cy="800.5" rx="3.0" ry="3.1" transform="rotate(7 83.1 800.5)" fill="#4A2A82" fill-opacity="0.50" /><ellipse cx="88.7" cy="811.4" rx="2.9" ry="1.6" transform="rotate(13 88.7 811.4)" fill="#4A2A82" fill-opacity="0.50" /><ellipse cx="79.0" cy="820.6" rx="2.9" ry="3.1" transform="rotate(39 79.0 820.6)" fill="#4A2A82" fill-opacity="0.50" /><ellipse cx="121.1" cy="842.0" rx="3.6" ry="2.4" transform="rotate(141 121.1 842.0)" fill="#4A2A82" fill-opacity="0.50" /><ellipse cx="60.0" cy="835.8" rx="2.1" ry="2.6" transform="rotate(57 60.0 835.8)" fill="#4A2A82" fill-opacity="0.50" /><ellipse cx="93.8" cy="825.7" rx="2.7" ry="3.0" transform="rotate(108 93.8 825.7)" fill="#4A2A82" fill-opacity="0.50" /><ellipse cx="121.4" cy="840.0" rx="2.0" ry="1.9" transform="rotate(28 121.4 840.0)" fill="#4A2A82" fill-opacity="0.50" /><ellipse cx="106.7" cy="811.9" rx="2.2" ry="2.1" transform="rotate(152 106.7 811.9)" fill="#4A2A82" fill-opacity="0.50" /><ellipse cx="88.4" cy="865.6" rx="2.4" ry="2.4" transform="rotate(109 88.4 865.6)" fill="#4A2A82" fill-opacity="0.50" /><ellipse cx="105.9" cy="842.5" rx="2.8" ry="1.7" transform="rotate(47 105.9 842.5)" fill="#4A2A82" fill-opacity="0.50" /><ellipse cx="59.7" cy="805.5" rx="2.0" ry="3.0" transform="rotate(132 59.7 805.5)" fill="#4A2A82" fill-opacity="0.50" /><ellipse cx="68.5" cy="842.3" rx="3.1" ry="3.0" transform="rotate(97 68.5 842.3)" fill="#4A2A82" fill-opacity="0.50" /><ellipse cx="65.2" cy="804.0" rx="1.9" ry="2.8" transform="rotate(161 65.2 804.0)" fill="#4A2A82" fill-opacity="0.50" /><ellipse cx="102.6" cy="857.4" rx="2.8" ry="1.9" transform="rotate(168 102.6 857.4)" fill="#4A2A82" fill-opacity="0.50" /><ellipse cx="74.7" cy="831.4" rx="3.5" ry="2.5" transform="rotate(93 74.7 831.4)" fill="#4A2A82" fill-opacity="0.50" /><ellipse cx="94.1" cy="812.2" rx="2.0" ry="3.2" transform="rotate(127 94.1 812.2)" fill="#4A2A82" fill-opacity="0.50" /><ellipse cx="96.9" cy="868.2" rx="2.3" ry="1.8" transform="rotate(105 96.9 868.2)" fill="#4A2A82" fill-opacity="0.50" /><ellipse cx="57.7" cy="801.9" rx="2.6" ry="2.5" transform="rotate(167 57.7 801.9)" fill="#4A2A82" fill-opacity="0.50" /><ellipse cx="86.4" cy="836.5" rx="3.9" ry="2.0" transform="rotate(87 86.4 836.5)" fill="#4A2A82" fill-opacity="0.50" /><ellipse cx="88.0" cy="804.0" rx="2.0" ry="1.5" transform="rotate(143 88.0 804.0)" fill="#4A2A82" fill-opacity="0.50" /><ellipse cx="86.0" cy="860.1" rx="3.7" ry="2.2" transform="rotate(18 86.0 860.1)" fill="#4A2A82" fill-opacity="0.50" /><ellipse cx="100.4" cy="802.2" rx="2.9" ry="2.1" transform="rotate(77 100.4 802.2)" fill="#4A2A82" fill-opacity="0.50" /><ellipse cx="84.8" cy="884.3" rx="1.6" ry="2.1" transform="rotate(10 84.8 884.3)" fill="#2A8A8C" fill-opacity="0.60" /><ellipse cx="74.1" cy="888.2" rx="2.3" ry="2.6" transform="rotate(83 74.1 888.2)" fill="#2A8A8C" fill-opacity="0.60" /><ellipse cx="105.1" cy="866.4" rx="2.9" ry="2.6" transform="rotate(2 105.1 866.4)" fill="#2A8A8C" fill-opacity="0.60" /><ellipse cx="82.7" cy="900.8" rx="1.8" ry="2.7" transform="rotate(175 82.7 900.8)" fill="#2A8A8C" fill-opacity="0.60" /><ellipse cx="110.0" cy="899.8" rx="3.1" ry="2.9" transform="rotate(172 110.0 899.8)" fill="#2A8A8C" fill-opacity="0.60" /><ellipse cx="81.5" cy="901.4" rx="1.7" ry="2.9" transform="rotate(10 81.5 901.4)" fill="#2A8A8C" fill-opacity="0.60" /><ellipse cx="78.7" cy="897.2" rx="1.9" ry="2.0" transform="rotate(63 78.7 897.2)" fill="#2A8A8C" fill-opacity="0.60" /><ellipse cx="102.6" cy="894.1" rx="3.2" ry="2.4" transform="rotate(130 102.6 894.1)" fill="#2A8A8C" fill-opacity="0.60" /><ellipse cx="61.6" cy="903.0" rx="3.3" ry="1.5" transform="rotate(141 61.6 903.0)" fill="#2A8A8C" fill-opacity="0.60" /><ellipse cx="110.0" cy="869.8" rx="2.7" ry="1.8" transform="rotate(67 110.0 869.8)" fill="#2A8A8C" fill-opacity="0.60" /><ellipse cx="123.2" cy="897.1" rx="2.5" ry="2.7" transform="rotate(70 123.2 897.1)" fill="#2A8A8C" fill-opacity="0.60" /><ellipse cx="68.7" cy="920.0" rx="1.8" ry="2.8" transform="rotate(176 68.7 920.0)" fill="#2A8A8C" fill-opacity="0.60" /><ellipse cx="90.1" cy="871.8" rx="2.4" ry="2.2" transform="rotate(142 90.1 871.8)" fill="#2A8A8C" fill-opacity="0.60" /><ellipse cx="123.6" cy="878.8" rx="1.6" ry="3.0" transform="rotate(0 123.6 878.8)" fill="#2A8A8C" fill-opacity="0.60" /><ellipse cx="121.3" cy="915.1" rx="3.3" ry="2.0" transform="rotate(36 121.3 915.1)" fill="#2A8A8C" fill-opacity="0.60" /><ellipse cx="98.3" cy="889.3" rx="2.9" ry="1.6" transform="rotate(85 98.3 889.3)" fill="#2A8A8C" fill-opacity="0.60" /><ellipse cx="118.1" cy="898.1" rx="3.4" ry="2.6" transform="rotate(24 118.1 898.1)" fill="#2A8A8C" fill-opacity="0.60" /><ellipse cx="101.3" cy="875.4" rx="1.6" ry="2.3" transform="rotate(2 101.3 875.4)" fill="#2A8A8C" fill-opacity="0.60" /><ellipse cx="63.9" cy="887.0" rx="1.9" ry="2.4" transform="rotate(50 63.9 887.0)" fill="#2A8A8C" fill-opacity="0.60" /><ellipse cx="75.8" cy="896.0" rx="2.5" ry="2.7" transform="rotate(148 75.8 896.0)" fill="#2A8A8C" fill-opacity="0.60" /><ellipse cx="119.4" cy="871.3" rx="1.6" ry="2.6" transform="rotate(72 119.4 871.3)" fill="#2A8A8C" fill-opacity="0.60" /><ellipse cx="63.9" cy="894.8" rx="2.1" ry="1.7" transform="rotate(120 63.9 894.8)" fill="#2A8A8C" fill-opacity="0.60" /><ellipse cx="106.9" cy="879.7" rx="2.8" ry="1.7" transform="rotate(159 106.9 879.7)" fill="#2A8A8C" fill-opacity="0.60" /><ellipse cx="85.7" cy="891.6" rx="1.8" ry="2.1" transform="rotate(50 85.7 891.6)" fill="#2A8A8C" fill-opacity="0.60" /><ellipse cx="110.0" cy="872.7" rx="2.6" ry="2.0" transform="rotate(164 110.0 872.7)" fill="#2A8A8C" fill-opacity="0.60" /><ellipse cx="101.8" cy="896.6" rx="1.8" ry="1.5" transform="rotate(109 101.8 896.6)" fill="#2A8A8C" fill-opacity="0.60" /><ellipse cx="118.6" cy="869.7" rx="2.3" ry="1.9" transform="rotate(4 118.6 869.7)" fill="#2A8A8C" fill-opacity="0.60" /><ellipse cx="99.9" cy="891.0" rx="2.5" ry="2.7" transform="rotate(112 99.9 891.0)" fill="#2A8A8C" fill-opacity="0.60" /><ellipse cx="75.7" cy="918.9" rx="3.3" ry="2.5" transform="rotate(22 75.7 918.9)" fill="#2A8A8C" fill-opacity="0.60" /><ellipse cx="100.5" cy="865.2" rx="2.1" ry="2.0" transform="rotate(83 100.5 865.2)" fill="#2A8A8C" fill-opacity="0.60" /><ellipse cx="110.3" cy="896.4" rx="2.8" ry="2.1" transform="rotate(132 110.3 896.4)" fill="#2A8A8C" fill-opacity="0.60" /><ellipse cx="72.4" cy="915.4" rx="3.2" ry="2.9" transform="rotate(171 72.4 915.4)" fill="#2A8A8C" fill-opacity="0.60" /><ellipse cx="109.9" cy="881.4" rx="3.3" ry="2.7" transform="rotate(85 109.9 881.4)" fill="#2A8A8C" fill-opacity="0.60" /><ellipse cx="66.7" cy="919.7" rx="1.9" ry="1.6" transform="rotate(100 66.7 919.7)" fill="#2A8A8C" fill-opacity="0.60" /><ellipse cx="114.8" cy="880.2" rx="1.9" ry="2.6" transform="rotate(102 114.8 880.2)" fill="#2A8A8C" fill-opacity="0.60" /><ellipse cx="96.4" cy="898.4" rx="3.1" ry="2.6" transform="rotate(48 96.4 898.4)" fill="#2A8A8C" fill-opacity="0.60" /><ellipse cx="83.4" cy="921.0" rx="3.2" ry="2.2" transform="rotate(58 83.4 921.0)" fill="#2A8A8C" fill-opacity="0.60" /><ellipse cx="117.3" cy="880.9" rx="2.4" ry="2.3" transform="rotate(138 117.3 880.9)" fill="#2A8A8C" fill-opacity="0.60" /><ellipse cx="105.1" cy="903.6" rx="1.9" ry="1.9" transform="rotate(135 105.1 903.6)" fill="#2A8A8C" fill-opacity="0.60" /><ellipse cx="97.0" cy="916.2" rx="1.6" ry="3.0" transform="rotate(89 97.0 916.2)" fill="#2A8A8C" fill-opacity="0.60" /><ellipse cx="79.2" cy="870.7" rx="1.6" ry="3.0" transform="rotate(142 79.2 870.7)" fill="#2A8A8C" fill-opacity="0.60" /><ellipse cx="122.3" cy="912.6" rx="2.4" ry="1.6" transform="rotate(97 122.3 912.6)" fill="#2A8A8C" fill-opacity="0.60" /><ellipse cx="75.6" cy="874.0" rx="2.6" ry="2.3" transform="rotate(177 75.6 874.0)" fill="#2A8A8C" fill-opacity="0.60" /><ellipse cx="111.3" cy="866.1" rx="1.8" ry="2.2" transform="rotate(127 111.3 866.1)" fill="#2A8A8C" fill-opacity="0.60" /><ellipse cx="122.9" cy="895.9" rx="2.4" ry="1.3" transform="rotate(78 122.9 895.9)" fill="#2A8A8C" fill-opacity="0.60" /><ellipse cx="115.0" cy="868.4" rx="2.6" ry="2.9" transform="rotate(173 115.0 868.4)" fill="#2A8A8C" fill-opacity="0.60" /><ellipse cx="61.6" cy="882.3" rx="1.9" ry="3.0" transform="rotate(144 61.6 882.3)" fill="#2A8A8C" fill-opacity="0.60" /><ellipse cx="77.5" cy="886.7" rx="2.9" ry="1.3" transform="rotate(30 77.5 886.7)" fill="#2A8A8C" fill-opacity="0.60" /><ellipse cx="110.3" cy="882.2" rx="2.0" ry="2.8" transform="rotate(130 110.3 882.2)" fill="#2A8A8C" fill-opacity="0.60" /><ellipse cx="114.6" cy="909.0" rx="2.5" ry="1.6" transform="rotate(125 114.6 909.0)" fill="#2A8A8C" fill-opacity="0.60" /><ellipse cx="95.1" cy="906.0" rx="2.8" ry="2.6" transform="rotate(10 95.1 906.0)" fill="#2A8A8C" fill-opacity="0.60" /><ellipse cx="70.9" cy="914.6" rx="2.9" ry="2.8" transform="rotate(10 70.9 914.6)" fill="#2A8A8C" fill-opacity="0.60" /><ellipse cx="93.4" cy="865.8" rx="1.8" ry="1.4" transform="rotate(34 93.4 865.8)" fill="#2A8A8C" fill-opacity="0.60" /><ellipse cx="76.8" cy="869.1" rx="2.8" ry="2.3" transform="rotate(123 76.8 869.1)" fill="#2A8A8C" fill-opacity="0.60" /><ellipse cx="122.2" cy="880.9" rx="2.0" ry="1.8" transform="rotate(147 122.2 880.9)" fill="#2A8A8C" fill-opacity="0.60" /><ellipse cx="101.8" cy="907.1" rx="2.0" ry="1.5" transform="rotate(85 101.8 907.1)" fill="#2A8A8C" fill-opacity="0.60" /><ellipse cx="117.6" cy="879.6" rx="3.0" ry="2.5" transform="rotate(66 117.6 879.6)" fill="#2A8A8C" fill-opacity="0.60" /><ellipse cx="104.7" cy="916.7" rx="1.9" ry="1.7" transform="rotate(70 104.7 916.7)" fill="#2A8A8C" fill-opacity="0.60" /><ellipse cx="73.0" cy="887.5" rx="3.0" ry="2.8" transform="rotate(120 73.0 887.5)" fill="#2A8A8C" fill-opacity="0.60" /><ellipse cx="94.7" cy="916.7" rx="1.9" ry="2.5" transform="rotate(68 94.7 916.7)" fill="#2A8A8C" fill-opacity="0.60" /><ellipse cx="119.6" cy="876.0" rx="2.0" ry="1.5" transform="rotate(82 119.6 876.0)" fill="#2A8A8C" fill-opacity="0.60" /><ellipse cx="104.0" cy="881.4" rx="3.3" ry="2.7" transform="rotate(49 104.0 881.4)" fill="#2A8A8C" fill-opacity="0.60" /><ellipse cx="98.6" cy="901.9" rx="1.8" ry="2.4" transform="rotate(113 98.6 901.9)" fill="#2A8A8C" fill-opacity="0.60" /><ellipse cx="115.5" cy="881.8" rx="1.8" ry="2.2" transform="rotate(154 115.5 881.8)" fill="#2A8A8C" fill-opacity="0.60" /><ellipse cx="68.1" cy="876.7" rx="1.7" ry="3.0" transform="rotate(137 68.1 876.7)" fill="#2A8A8C" fill-opacity="0.60" /><ellipse cx="66.4" cy="912.6" rx="2.4" ry="1.3" transform="rotate(11 66.4 912.6)" fill="#2A8A8C" fill-opacity="0.60" /><ellipse cx="76.2" cy="867.2" rx="1.8" ry="1.4" transform="rotate(25 76.2 867.2)" fill="#2A8A8C" fill-opacity="0.60" /><ellipse cx="66.8" cy="888.9" rx="3.2" ry="2.6" transform="rotate(95 66.8 888.9)" fill="#2A8A8C" fill-opacity="0.60" /><ellipse cx="64.5" cy="918.2" rx="1.6" ry="1.3" transform="rotate(135 64.5 918.2)" fill="#2A8A8C" fill-opacity="0.60" /><ellipse cx="100.0" cy="907.6" rx="2.0" ry="2.8" transform="rotate(157 100.0 907.6)" fill="#2A8A8C" fill-opacity="0.60" /><ellipse cx="63.3" cy="918.7" rx="3.0" ry="2.8" transform="rotate(86 63.3 918.7)" fill="#2A8A8C" fill-opacity="0.60" /><ellipse cx="110.7" cy="916.2" rx="3.3" ry="1.8" transform="rotate(31 110.7 916.2)" fill="#2A8A8C" fill-opacity="0.60" /><ellipse cx="101.4" cy="890.0" rx="3.2" ry="2.1" transform="rotate(29 101.4 890.0)" fill="#2A8A8C" fill-opacity="0.60" /><ellipse cx="84.2" cy="919.0" rx="2.9" ry="1.6" transform="rotate(34 84.2 919.0)" fill="#2A8A8C" fill-opacity="0.60" /><ellipse cx="84.9" cy="917.8" rx="2.5" ry="1.8" transform="rotate(38 84.9 917.8)" fill="#2A8A8C" fill-opacity="0.60" /><ellipse cx="76.2" cy="895.1" rx="1.9" ry="1.5" transform="rotate(148 76.2 895.1)" fill="#2A8A8C" fill-opacity="0.60" /><ellipse cx="101.9" cy="898.5" rx="2.0" ry="2.0" transform="rotate(158 101.9 898.5)" fill="#2A8A8C" fill-opacity="0.60" /><ellipse cx="77.1" cy="889.3" rx="1.7" ry="2.0" transform="rotate(15 77.1 889.3)" fill="#2A8A8C" fill-opacity="0.60" /><ellipse cx="109.1" cy="921.0" rx="1.7" ry="1.9" transform="rotate(171 109.1 921.0)" fill="#2A8A8C" fill-opacity="0.60" /><ellipse cx="68.2" cy="910.5" rx="1.7" ry="2.1" transform="rotate(141 68.2 910.5)" fill="#2A8A8C" fill-opacity="0.60" /><ellipse cx="110.3" cy="910.1" rx="2.1" ry="2.2" transform="rotate(23 110.3 910.1)" fill="#2A8A8C" fill-opacity="0.60" /><ellipse cx="123.2" cy="906.2" rx="2.3" ry="2.1" transform="rotate(105 123.2 906.2)" fill="#2A8A8C" fill-opacity="0.60" /><ellipse cx="83.2" cy="883.6" rx="3.3" ry="1.6" transform="rotate(171 83.2 883.6)" fill="#2A8A8C" fill-opacity="0.60" /><ellipse cx="95.2" cy="890.9" rx="2.4" ry="1.3" transform="rotate(59 95.2 890.9)" fill="#2A8A8C" fill-opacity="0.60" /><ellipse cx="89.6" cy="867.7" rx="1.5" ry="1.3" transform="rotate(111 89.6 867.7)" fill="#2A8A8C" fill-opacity="0.60" /><ellipse cx="61.0" cy="918.5" rx="2.8" ry="2.5" transform="rotate(8 61.0 918.5)" fill="#2A8A8C" fill-opacity="0.60" /><ellipse cx="92.6" cy="876.7" rx="3.3" ry="1.9" transform="rotate(36 92.6 876.7)" fill="#2A8A8C" fill-opacity="0.60" /><ellipse cx="87.7" cy="883.2" rx="1.8" ry="2.6" transform="rotate(39 87.7 883.2)" fill="#2A8A8C" fill-opacity="0.60" /><ellipse cx="117.9" cy="906.4" rx="3.2" ry="2.5" transform="rotate(159 117.9 906.4)" fill="#2A8A8C" fill-opacity="0.60" /><ellipse cx="120.9" cy="865.7" rx="2.0" ry="2.8" transform="rotate(98 120.9 865.7)" fill="#2A8A8C" fill-opacity="0.60" /><ellipse cx="121.3" cy="829.3" rx="4.0" ry="4.7" transform="rotate(47 121.3 829.3)" fill="#25898C" fill-opacity="0.50" /><ellipse cx="106.0" cy="853.5" rx="4.2" ry="4.3" transform="rotate(27 106.0 853.5)" fill="#25898C" fill-opacity="0.50" /><ellipse cx="100.1" cy="863.8" rx="3.6" ry="3.3" transform="rotate(3 100.1 863.8)" fill="#25898C" fill-opacity="0.50" /><ellipse cx="96.1" cy="825.1" rx="4.8" ry="4.8" transform="rotate(178 96.1 825.1)" fill="#25898C" fill-opacity="0.50" /><ellipse cx="104.4" cy="831.6" rx="4.2" ry="3.9" transform="rotate(154 104.4 831.6)" fill="#25898C" fill-opacity="0.50" /><ellipse cx="106.2" cy="848.0" rx="5.6" ry="3.8" transform="rotate(61 106.2 848.0)" fill="#25898C" fill-opacity="0.50" /><ellipse cx="96.5" cy="843.3" rx="5.4" ry="4.3" transform="rotate(50 96.5 843.3)" fill="#25898C" fill-opacity="0.50" /><ellipse cx="114.8" cy="813.4" rx="5.4" ry="4.9" transform="rotate(59 114.8 813.4)" fill="#25898C" fill-opacity="0.50" /><ellipse cx="111.8" cy="828.8" rx="4.0" ry="4.8" transform="rotate(57 111.8 828.8)" fill="#25898C" fill-opacity="0.50" /><ellipse cx="117.4" cy="848.6" rx="3.3" ry="4.7" transform="rotate(68 117.4 848.6)" fill="#25898C" fill-opacity="0.50" /><ellipse cx="104.8" cy="828.1" rx="4.2" ry="3.8" transform="rotate(136 104.8 828.1)" fill="#25898C" fill-opacity="0.50" /><ellipse cx="103.1" cy="809.1" rx="5.3" ry="3.9" transform="rotate(97 103.1 809.1)" fill="#25898C" fill-opacity="0.50" /><ellipse cx="99.0" cy="843.4" rx="4.8" ry="4.3" transform="rotate(168 99.0 843.4)" fill="#25898C" fill-opacity="0.50" /><ellipse cx="96.1" cy="833.1" rx="3.1" ry="3.7" transform="rotate(116 96.1 833.1)" fill="#25898C" fill-opacity="0.50" /><ellipse cx="118.1" cy="816.9" rx="5.7" ry="4.8" transform="rotate(166 118.1 816.9)" fill="#25898C" fill-opacity="0.50" /><ellipse cx="106.9" cy="840.1" rx="4.4" ry="3.1" transform="rotate(49 106.9 840.1)" fill="#25898C" fill-opacity="0.50" /><ellipse cx="118.8" cy="810.6" rx="4.3" ry="4.3" transform="rotate(74 118.8 810.6)" fill="#25898C" fill-opacity="0.50" /><ellipse cx="111.2" cy="836.1" rx="3.4" ry="3.1" transform="rotate(94 111.2 836.1)" fill="#25898C" fill-opacity="0.50" /><ellipse cx="112.7" cy="835.6" rx="5.9" ry="3.3" transform="rotate(16 112.7 835.6)" fill="#25898C" fill-opacity="0.50" /><ellipse cx="118.7" cy="857.9" rx="5.9" ry="4.8" transform="rotate(72 118.7 857.9)" fill="#25898C" fill-opacity="0.50" /></g>
<path d="M25.5 814.3 C27.8 811.6 33.1 809.9 37.8 810.8 C42.4 811.6 49.5 815.7 53.5 819.5 C57.6 823.3 60.6 828.0 62.3 833.5 C64.1 839.1 64.0 846.1 64.1 852.8 C64.1 859.5 63.4 867.1 62.7 873.8 C61.9 880.6 61.3 889.3 59.7 893.1 C58.0 896.9 56.3 897.8 52.7 896.6 C49.0 895.4 42.9 890.2 37.8 886.1 C32.7 882.0 25.1 877.0 22.0 872.1 C18.9 867.1 19.2 861.3 19.4 856.3 C19.5 851.4 22.2 847.3 22.9 842.3 C23.6 837.3 23.3 831.2 23.8 826.5 C24.2 821.9 23.2 816.9 25.5 814.3 Z" fill="#3DAF7A" filter="url(#bl3)"/>
<path d="M27.3 819.5 C29.0 816.9 32.8 814.4 36.0 814.3 C39.2 814.1 43.6 816.0 46.5 818.7 C49.5 821.3 52.1 825.2 53.5 830.0 C55.0 834.9 55.1 841.1 55.3 847.6 C55.5 854.0 55.2 862.2 54.9 868.6 C54.7 875.0 54.4 882.0 53.5 886.1 C52.7 890.2 52.1 892.8 50.0 893.1 C48.0 893.4 45.4 891.4 41.3 887.9 C37.2 884.3 28.9 877.0 25.5 872.1 C22.2 867.1 21.3 862.7 21.1 858.1 C21.0 853.4 23.9 848.7 24.6 844.1 C25.4 839.4 25.1 834.1 25.5 830.0 C25.9 826.0 25.5 822.2 27.3 819.5 Z" fill="#8CCF50" filter="url(#bl3)"/>
<g filter="url(#bl1)"><ellipse cx="41.3" cy="830.0" rx="5.0" ry="3.9" transform="rotate(102 41.3 830.0)" fill="#D2E22C" fill-opacity="0.85" /><ellipse cx="50.0" cy="838.8" rx="4.6" ry="3.5" transform="rotate(115 50.0 838.8)" fill="#D2E22C" fill-opacity="0.85" /><ellipse cx="48.3" cy="852.8" rx="5.0" ry="3.9" transform="rotate(103 48.3 852.8)" fill="#D2E22C" fill-opacity="0.85" /><ellipse cx="36.0" cy="861.6" rx="5.7" ry="4.4" transform="rotate(76 36.0 861.6)" fill="#D2E22C" fill-opacity="0.85" /><ellipse cx="25.5" cy="863.3" rx="4.1" ry="3.2" transform="rotate(149 25.5 863.3)" fill="#D2E22C" fill-opacity="0.85" /><ellipse cx="44.8" cy="870.3" rx="4.6" ry="3.5" transform="rotate(139 44.8 870.3)" fill="#D2E22C" fill-opacity="0.85" /><ellipse cx="34.3" cy="875.6" rx="3.4" ry="2.6" transform="rotate(6 34.3 875.6)" fill="#D2E22C" fill-opacity="0.85" /><ellipse cx="51.8" cy="868.6" rx="3.4" ry="2.6" transform="rotate(165 51.8 868.6)" fill="#D2E22C" fill-opacity="0.85" /><ellipse cx="43.0" cy="844.1" rx="3.4" ry="2.6" transform="rotate(76 43.0 844.1)" fill="#D2E22C" fill-opacity="0.85" /></g>
<path d="M25.5 816.0 C27.0 813.1 32.2 812.2 34.3 812.5 C36.3 812.8 38.4 815.4 37.8 817.8 C37.2 820.1 32.8 824.5 30.8 826.5 C28.7 828.6 26.4 831.8 25.5 830.0 C24.6 828.3 24.1 818.9 25.5 816.0 Z" fill="#27A285" opacity="0.6" filter="url(#bl2)"/>
<g fill="#111"><rect x="107.6" y="837.7" width="0.9" height="0.9"/><rect x="92.8" y="908.1" width="1.2" height="1.0"/><rect x="26.3" y="854.5" width="0.8" height="0.4"/><rect x="24.3" y="898.6" width="1.3" height="0.9"/><rect x="54.2" y="884.6" width="0.7" height="0.9"/><rect x="50.7" y="893.3" width="1.3" height="1.1"/><rect x="108.8" y="907.9" width="1.0" height="0.8"/><rect x="112.7" y="815.6" width="0.7" height="0.8"/><rect x="69.8" y="894.4" width="0.6" height="0.4"/><rect x="36.0" y="913.5" width="0.5" height="0.6"/><rect x="60.1" y="875.4" width="1.1" height="0.5"/><rect x="113.5" y="891.0" width="0.7" height="0.5"/><rect x="81.2" y="872.2" width="0.6" height="0.5"/><rect x="97.6" y="880.9" width="1.1" height="0.6"/><rect x="93.4" y="813.9" width="0.4" height="0.5"/><rect x="99.1" y="866.1" width="1.0" height="0.8"/><rect x="85.0" y="841.7" width="1.0" height="0.4"/><rect x="60.1" y="811.6" width="0.5" height="1.0"/><rect x="81.8" y="894.2" width="0.9" height="0.8"/><rect x="100.4" y="875.4" width="0.9" height="0.8"/><rect x="78.6" y="843.9" width="1.0" height="0.7"/><rect x="86.8" y="859.9" width="1.1" height="0.9"/><rect x="27.6" y="893.2" width="1.2" height="0.6"/><rect x="94.4" y="900.3" width="0.8" height="0.5"/><rect x="94.2" y="899.5" width="0.7" height="0.6"/><rect x="97.6" y="863.4" width="0.4" height="0.5"/><rect x="44.7" y="870.7" width="0.9" height="0.8"/><rect x="56.6" y="849.5" width="0.9" height="0.8"/><rect x="78.2" y="885.7" width="1.3" height="0.9"/><rect x="71.0" y="915.1" width="0.5" height="1.1"/><rect x="72.0" y="859.7" width="1.2" height="0.8"/><rect x="102.9" y="846.9" width="0.9" height="0.9"/><rect x="46.5" y="891.2" width="0.5" height="0.5"/><rect x="49.7" y="896.3" width="0.8" height="0.4"/><rect x="42.8" y="868.7" width="0.5" height="0.6"/><rect x="44.1" y="882.8" width="0.5" height="0.7"/><rect x="67.1" y="906.6" width="0.8" height="0.5"/><rect x="64.4" y="847.2" width="0.9" height="0.5"/><rect x="64.5" y="878.8" width="0.8" height="1.1"/><rect x="58.8" y="903.4" width="0.7" height="0.7"/><rect x="91.7" y="865.9" width="1.2" height="1.0"/><rect x="51.2" y="841.7" width="1.0" height="1.0"/><rect x="34.5" y="907.1" width="0.7" height="0.5"/><rect x="49.3" y="895.0" width="0.6" height="0.5"/><rect x="81.3" y="907.9" width="0.7" height="0.8"/><rect x="61.2" y="911.2" width="1.2" height="0.7"/><rect x="118.1" y="830.5" width="0.8" height="0.8"/><rect x="97.9" y="884.4" width="0.8" height="1.1"/><rect x="118.4" y="901.0" width="0.8" height="1.0"/><rect x="49.5" y="824.9" width="0.5" height="1.0"/><rect x="117.8" y="838.9" width="1.0" height="0.6"/><rect x="98.2" y="824.3" width="0.9" height="1.0"/><rect x="117.2" y="881.1" width="1.0" height="0.7"/><rect x="40.1" y="895.9" width="0.5" height="0.9"/><rect x="53.6" y="811.3" width="0.5" height="0.8"/><rect x="54.3" y="820.3" width="0.7" height="1.0"/><rect x="93.8" y="857.6" width="0.7" height="1.1"/><rect x="73.0" y="881.2" width="1.2" height="0.8"/><rect x="84.0" y="855.5" width="1.2" height="0.9"/><rect x="67.0" y="898.5" width="0.6" height="0.6"/><rect x="88.5" y="819.9" width="1.2" height="0.4"/><rect x="113.4" y="837.9" width="1.2" height="0.6"/><rect x="99.0" y="865.3" width="0.8" height="0.8"/><rect x="119.7" y="906.4" width="0.7" height="0.6"/><rect x="113.7" y="819.2" width="0.5" height="0.9"/><rect x="41.9" y="806.3" width="1.0" height="0.5"/><rect x="46.2" y="887.7" width="1.3" height="0.7"/><rect x="69.1" y="811.8" width="0.9" height="0.5"/><rect x="75.8" y="817.3" width="0.7" height="1.0"/><rect x="56.0" y="895.6" width="1.0" height="0.5"/><rect x="67.8" y="863.9" width="0.8" height="0.5"/><rect x="53.0" y="889.4" width="0.9" height="0.7"/><rect x="67.5" y="856.3" width="0.8" height="0.8"/><rect x="110.6" y="807.5" width="1.0" height="0.5"/><rect x="32.3" y="912.6" width="1.0" height="0.8"/><rect x="100.9" y="864.1" width="1.2" height="1.0"/><rect x="118.4" y="812.2" width="0.7" height="0.5"/><rect x="91.4" y="875.3" width="0.7" height="0.5"/><rect x="73.1" y="818.1" width="1.1" height="0.7"/><rect x="32.5" y="890.7" width="0.6" height="0.8"/></g>
</g>
<path d="M50.0 799.4 C52.4 798.3 56.8 797.0 60.6 796.4 C64.3 795.8 68.7 795.8 72.8 795.9 C76.9 796.0 81.6 796.4 85.1 797.1 C88.6 797.8 91.6 799.1 93.8 800.3 C96.0 801.4 95.9 803.2 98.2 804.1 C100.6 805.0 104.3 805.5 107.9 805.9 C111.4 806.2 117.0 805.6 119.2 806.4 C121.4 807.2 121.1 808.9 121.0 810.8 C120.8 812.7 119.1 814.6 118.4 817.8 C117.6 821.0 117.0 826.2 116.6 830.0 C116.3 833.8 116.7 837.0 116.3 840.6 C115.8 844.1 114.9 847.8 114.0 851.1 C113.0 854.3 111.8 857.2 110.5 859.8 C109.2 862.4 106.7 864.8 106.1 866.8 C105.5 868.9 106.2 870.0 107.0 872.1 C107.7 874.1 109.2 877.0 110.5 879.1 C111.8 881.1 113.3 882.6 114.9 884.3 C116.5 886.1 118.5 888.1 120.1 889.6 C121.7 891.1 123.6 891.4 124.5 893.1 C125.4 894.9 125.7 897.5 125.7 900.1 C125.7 902.7 125.1 906.2 124.5 908.9 C123.9 911.5 122.9 914.0 121.9 915.9 C120.8 917.8 120.0 919.4 118.4 920.3 C116.8 921.1 114.3 921.6 112.2 921.1 C110.2 920.7 108.0 918.5 106.1 917.6 C104.2 916.8 102.9 916.0 100.8 915.9 C98.8 915.7 95.9 916.0 93.8 916.8 C91.8 917.5 90.3 919.1 88.6 920.3 C86.8 921.4 85.2 923.3 83.3 923.8 C81.4 924.2 79.2 923.8 77.2 922.9 C75.1 922.0 73.0 919.7 71.1 918.5 C69.2 917.3 67.3 917.1 65.8 915.9 C64.3 914.7 63.2 913.3 62.3 911.5 C61.4 909.8 61.0 907.3 60.6 905.4 C60.1 903.5 60.3 901.4 59.7 900.1 C59.1 898.8 58.2 898.2 57.0 897.5 C55.9 896.8 54.7 897.0 52.7 895.7 C50.6 894.4 47.6 891.8 44.8 889.6 C42.0 887.4 38.9 885.2 36.0 882.6 C33.1 880.0 29.5 876.5 27.3 873.8 C25.1 871.2 24.0 869.2 22.9 866.8 C21.8 864.5 20.9 862.4 20.6 859.8 C20.3 857.2 20.8 853.4 21.1 851.1 C21.5 848.7 21.9 847.2 22.9 845.8 C23.9 844.4 26.8 843.8 27.3 842.7 C27.7 841.5 25.9 840.5 25.5 838.8 C25.1 837.1 24.8 834.7 24.6 832.7 C24.5 830.6 24.4 828.4 24.6 826.5 C24.8 824.6 25.1 823.0 25.9 821.3 C26.6 819.5 27.6 817.6 29.0 816.0 C30.4 814.4 32.2 813.1 34.3 811.6 C36.3 810.2 39.2 808.7 41.3 807.3 C43.3 805.8 45.1 804.2 46.5 802.9 C48.0 801.6 47.7 800.5 50.0 799.4 Z" fill="none" stroke="#222" stroke-width="0.35"/>
<ellipse cx="84.2" cy="823.0" rx="1.2" ry="2.1" transform="rotate(10 84.2 823.0)" fill="#fff" />
<ellipse cx="68.4" cy="834.9" rx="2.5" ry="1.6" transform="rotate(-10 68.4 834.9)" fill="#fff" />
<ellipse cx="93.0" cy="833.2" rx="2.1" ry="1.4" transform="rotate(-30 93.0 833.2)" fill="#fff" />
<ellipse cx="89.5" cy="839.7" rx="1.1" ry="1.4" transform="rotate(0 89.5 839.7)" fill="#fff" />
<ellipse cx="96.5" cy="846.7" rx="1.8" ry="3.5" transform="rotate(15 96.5 846.7)" fill="#fff" />
<ellipse cx="81.6" cy="847.2" rx="0.7" ry="0.7" transform="rotate(0 81.6 847.2)" fill="#fff" />
<ellipse cx="74.6" cy="862.4" rx="1.1" ry="1.1" transform="rotate(0 74.6 862.4)" fill="#fff" />
<ellipse cx="88.6" cy="875.9" rx="2.8" ry="2.1" transform="rotate(-20 88.6 875.9)" fill="#fff" />
<ellipse cx="113.1" cy="903.6" rx="6.1" ry="1.4" transform="rotate(-5 113.1 903.6)" fill="#fff" />
<ellipse cx="106.1" cy="911.5" rx="1.8" ry="1.4" transform="rotate(0 106.1 911.5)" fill="#fff" />
<ellipse cx="78.9" cy="915.9" rx="1.8" ry="1.1" transform="rotate(0 78.9 915.9)" fill="#fff" />
<ellipse cx="86.8" cy="915.9" rx="0.9" ry="1.6" transform="rotate(20 86.8 915.9)" fill="#fff" />
<ellipse cx="32.5" cy="880.8" rx="1.1" ry="0.7" transform="rotate(0 32.5 880.8)" fill="#fff" />
<path d="M58.3 875.5 L59.4 876 L61.2 890 L61 900 L55.2 899 L57.5 888 Z" fill="#fff"/>
<path d="M26.9 843.2 C27.5 842.4 30.8 841.4 32.5 842.0 C34.3 842.5 36.5 844.7 37.4 846.7 C38.3 848.6 38.4 851.9 37.8 853.7 C37.1 855.4 34.9 856.8 33.4 857.2 C31.9 857.6 29.4 857.3 29.0 856.3 C28.6 855.3 31.1 852.7 31.1 851.1 C31.1 849.5 29.7 848.0 29.0 846.7 C28.3 845.4 26.3 844.0 26.9 843.2 Z" fill="#fff"/>
<circle cx="46.2" cy="828.3" r="1.8" fill="#FF2A1A" />
<circle cx="89.5" cy="900.3" r="1.8" fill="#FF2A1A" />
<line x1="46.5" y1="828.4" x2="157" y2="828.4" stroke="#000" stroke-width="0.9" />
<path d="M154.70 831.90 L162.30 828.40 L154.70 824.90 L156.10 828.40 Z" fill="#000"/>
<line x1="89.5" y1="900.4" x2="157" y2="900.4" stroke="#000" stroke-width="0.9" />
<path d="M154.70 903.90 L162.30 900.40 L154.70 896.90 L156.10 900.40 Z" fill="#000"/>
<rect x="174.5" y="803.2" width="5.4" height="5.53" fill="#fde725" stroke="#222" stroke-width="0.3" />
<rect x="174.5" y="808.73" width="5.4" height="5.53" fill="#dde318" stroke="#222" stroke-width="0.3" />
<rect x="174.5" y="814.26" width="5.4" height="5.53" fill="#bade28" stroke="#222" stroke-width="0.3" />
<rect x="174.5" y="819.79" width="5.4" height="5.53" fill="#95d840" stroke="#222" stroke-width="0.3" />
<rect x="171.56" y="820.14" width="1.24" height="4.83" fill="#5A5A5A" />
<rect x="174.5" y="825.32" width="5.4" height="5.53" fill="#75d054" stroke="#222" stroke-width="0.3" />
<rect x="166.5" y="825.67" width="6.3" height="4.83" fill="#5A5A5A" />
<rect x="174.5" y="830.85" width="5.4" height="5.53" fill="#56c667" stroke="#222" stroke-width="0.3" />
<rect x="166.8" y="831.2" width="6" height="4.83" fill="#5A5A5A" />
<rect x="174.5" y="836.38" width="5.4" height="5.53" fill="#3dbc74" stroke="#222" stroke-width="0.3" />
<rect x="167.24" y="836.73" width="5.56" height="4.83" fill="#5A5A5A" />
<rect x="174.5" y="841.91" width="5.4" height="5.53" fill="#29af7f" stroke="#222" stroke-width="0.3" />
<rect x="165.01" y="842.26" width="7.79" height="4.83" fill="#5A5A5A" />
<rect x="174.5" y="847.44" width="5.4" height="5.53" fill="#20a386" stroke="#222" stroke-width="0.3" />
<rect x="167.54" y="847.79" width="5.26" height="4.83" fill="#5A5A5A" />
<rect x="174.5" y="852.97" width="5.4" height="5.53" fill="#1f968b" stroke="#222" stroke-width="0.3" />
<rect x="169.03" y="853.32" width="3.77" height="4.83" fill="#5A5A5A" />
<rect x="174.5" y="858.5" width="5.4" height="5.53" fill="#238a8d" stroke="#222" stroke-width="0.3" />
<rect x="168.73" y="858.85" width="4.07" height="4.83" fill="#5A5A5A" />
<rect x="174.5" y="864.03" width="5.4" height="5.53" fill="#287d8e" stroke="#222" stroke-width="0.3" />
<rect x="164.27" y="864.38" width="8.53" height="4.83" fill="#5A5A5A" />
<rect x="174.5" y="869.56" width="5.4" height="5.53" fill="#2d718e" stroke="#222" stroke-width="0.3" />
<rect x="157.12" y="869.91" width="15.68" height="4.83" fill="#5A5A5A" />
<rect x="174.5" y="875.09" width="5.4" height="5.53" fill="#33638d" stroke="#222" stroke-width="0.3" />
<rect x="152.36" y="875.44" width="20.44" height="4.83" fill="#5A5A5A" />
<rect x="174.5" y="880.62" width="5.4" height="5.53" fill="#39558c" stroke="#222" stroke-width="0.3" />
<rect x="155.33" y="880.97" width="17.47" height="4.83" fill="#5A5A5A" />
<rect x="174.5" y="886.15" width="5.4" height="5.53" fill="#404688" stroke="#222" stroke-width="0.3" />
<rect x="158.16" y="886.5" width="14.64" height="4.83" fill="#5A5A5A" />
<rect x="174.5" y="891.68" width="5.4" height="5.53" fill="#453781" stroke="#222" stroke-width="0.3" />
<rect x="159.35" y="892.03" width="13.45" height="4.83" fill="#5A5A5A" />
<rect x="174.5" y="897.21" width="5.4" height="5.53" fill="#482576" stroke="#222" stroke-width="0.3" />
<rect x="164.56" y="897.56" width="8.24" height="4.83" fill="#5A5A5A" />
<rect x="174.5" y="902.74" width="5.4" height="5.53" fill="#481467" stroke="#222" stroke-width="0.3" />
<rect x="171.26" y="903.09" width="1.54" height="4.83" fill="#5A5A5A" />
<rect x="174.5" y="908.27" width="5.4" height="5.53" fill="#440154" stroke="#222" stroke-width="0.3" />
<line x1="151.2" y1="914.1" x2="172.8" y2="914.1" stroke="#555" stroke-width="0.5" />
<text x="153.3" y="916" font-size="5.3" fill="#333" text-anchor="end" transform="rotate(-90 153.3 916)" >60000</text>
<text x="160.3" y="916" font-size="5.3" fill="#333" text-anchor="end" transform="rotate(-90 160.3 916)" >40000</text>
<text x="167.5" y="916" font-size="5.3" fill="#333" text-anchor="end" transform="rotate(-90 167.5 916)" >20000</text>
<text x="174.9" y="916" font-size="5.3" fill="#333" text-anchor="end" transform="rotate(-90 174.9 916)" >0</text>
<text x="192.9" y="886.6" font-size="11.3" text-anchor="middle" transform="rotate(-90 192.9 886.6)" textLength="52" lengthAdjust="spacingAndGlyphs" >CD44 bins</text>
<line x1="189.1" y1="857" x2="189.1" y2="836" stroke="#000" stroke-width="0.9" />
<path d="M191.60 838.00 L189.10 832.80 L186.60 838.00 L189.10 837.00 Z" fill="#000"/>
<rect x="20" y="923.6" width="14.3" height="1.1" fill="#000" />
<text x="215.6" y="434.9" font-size="14" >i</text>
<text x="274.2" y="429.5" font-size="9.6" textLength="42.7" lengthAdjust="spacingAndGlyphs" >CD44 bins</text>
<line x1="320.3" y1="427.6" x2="350" y2="427.6" stroke="#000" stroke-width="1" />
<path d="M346.90 431.95 L355.10 427.60 L346.90 423.25 L348.50 427.60 Z" fill="#000"/>
<g stroke="#111" stroke-width="0.4"><rect x="274.20" y="433.1" width="7.75" height="7.199999999999989" fill="#440154"/><rect x="281.94" y="433.1" width="7.75" height="7.199999999999989" fill="#481467"/><rect x="289.69" y="433.1" width="7.75" height="7.199999999999989" fill="#482576"/><rect x="297.44" y="433.1" width="7.75" height="7.199999999999989" fill="#453781"/><rect x="305.18" y="433.1" width="7.75" height="7.199999999999989" fill="#404688"/><rect x="312.93" y="433.1" width="7.75" height="7.199999999999989" fill="#39558c"/><rect x="320.67" y="433.1" width="7.75" height="7.199999999999989" fill="#33638d"/><rect x="328.42" y="433.1" width="7.75" height="7.199999999999989" fill="#2d718e"/><rect x="336.16" y="433.1" width="7.75" height="7.199999999999989" fill="#287d8e"/><rect x="343.90" y="433.1" width="7.75" height="7.199999999999989" fill="#238a8d"/><rect x="351.65" y="433.1" width="7.75" height="7.199999999999989" fill="#1f968b"/><rect x="359.39" y="433.1" width="7.75" height="7.199999999999989" fill="#20a386"/><rect x="367.14" y="433.1" width="7.75" height="7.199999999999989" fill="#29af7f"/><rect x="374.88" y="433.1" width="7.75" height="7.199999999999989" fill="#3dbc74"/><rect x="382.63" y="433.1" width="7.75" height="7.199999999999989" fill="#56c667"/><rect x="390.38" y="433.1" width="7.75" height="7.199999999999989" fill="#75d054"/><rect x="398.12" y="433.1" width="7.75" height="7.199999999999989" fill="#95d840"/><rect x="405.87" y="433.1" width="7.75" height="7.199999999999989" fill="#bade28"/><rect x="413.61" y="433.1" width="7.75" height="7.199999999999989" fill="#dde318"/><rect x="421.36" y="433.1" width="7.75" height="7.199999999999989" fill="#fde725"/></g>
<rect x="266.9" y="443.3" width="169.5" height="83" fill="#fff" />
<g stroke="#EBEBEB" stroke-width="0.6"><line x1="266.9" y1="522.50" x2="436.4" y2="522.50"/><line x1="266.9" y1="514.45" x2="436.4" y2="514.45"/><line x1="266.9" y1="506.40" x2="436.4" y2="506.40"/><line x1="266.9" y1="498.35" x2="436.4" y2="498.35"/><line x1="266.9" y1="490.30" x2="436.4" y2="490.30"/><line x1="266.9" y1="482.25" x2="436.4" y2="482.25"/><line x1="266.9" y1="474.20" x2="436.4" y2="474.20"/><line x1="266.9" y1="466.15" x2="436.4" y2="466.15"/><line x1="266.9" y1="458.10" x2="436.4" y2="458.10"/><line x1="266.9" y1="450.05" x2="436.4" y2="450.05"/></g>
<g stroke="#000" stroke-width="1.1"><rect x="274.40" y="447.36" width="6.70" height="1.74" fill="#FCBBA1"/><rect x="274.40" y="449.10" width="6.70" height="6.10" fill="#FB6A4A"/><rect x="274.40" y="455.20" width="6.70" height="7.84" fill="#9ECAE1"/><rect x="274.40" y="463.03" width="6.70" height="1.31" fill="#4A2A22"/><rect x="274.40" y="464.34" width="6.70" height="58.10" fill="#08519C"/><rect x="282.16" y="447.79" width="6.70" height="1.74" fill="#4A2A22"/><rect x="282.16" y="449.53" width="6.70" height="4.79" fill="#FCBBA1"/><rect x="282.16" y="454.32" width="6.70" height="26.13" fill="#FB6A4A"/><rect x="282.16" y="480.46" width="6.70" height="14.81" fill="#9ECAE1"/><rect x="282.16" y="495.26" width="6.70" height="3.05" fill="#6BAED6"/><rect x="282.16" y="498.31" width="6.70" height="10.89" fill="#3182BD"/><rect x="282.16" y="509.20" width="6.70" height="13.24" fill="#08519C"/><rect x="289.92" y="447.79" width="6.70" height="7.40" fill="#FEE0D2"/><rect x="289.92" y="455.20" width="6.70" height="4.36" fill="#FCBBA1"/><rect x="289.92" y="459.55" width="6.70" height="25.70" fill="#FB6A4A"/><rect x="289.92" y="485.25" width="6.70" height="4.79" fill="#EFF3FF"/><rect x="289.92" y="490.04" width="6.70" height="10.45" fill="#9ECAE1"/><rect x="289.92" y="500.49" width="6.70" height="3.05" fill="#5A7890"/><rect x="289.92" y="503.54" width="6.70" height="13.94" fill="#3182BD"/><rect x="289.92" y="517.48" width="6.70" height="4.97" fill="#08519C"/><rect x="297.67" y="448.23" width="6.70" height="13.07" fill="#FEE0D2"/><rect x="297.67" y="461.29" width="6.70" height="2.18" fill="#FCBBA1"/><rect x="297.67" y="463.47" width="6.70" height="14.37" fill="#FB6A4A"/><rect x="297.67" y="477.84" width="6.70" height="20.47" fill="#EFF3FF"/><rect x="297.67" y="498.31" width="6.70" height="2.18" fill="#5A7890"/><rect x="297.67" y="500.49" width="6.70" height="4.79" fill="#9ECAE1"/><rect x="297.67" y="505.28" width="6.70" height="2.18" fill="#4A2A22"/><rect x="297.67" y="507.46" width="6.70" height="13.07" fill="#3182BD"/><rect x="297.67" y="520.53" width="6.70" height="1.92" fill="#08519C"/><rect x="305.43" y="447.79" width="6.70" height="1.74" fill="#FFF5F0"/><rect x="305.43" y="449.53" width="6.70" height="12.63" fill="#FEE0D2"/><rect x="305.43" y="462.16" width="6.70" height="2.61" fill="#4A2A22"/><rect x="305.43" y="464.78" width="6.70" height="6.97" fill="#FB6A4A"/><rect x="305.43" y="471.75" width="6.70" height="29.62" fill="#EFF3FF"/><rect x="305.43" y="501.36" width="6.70" height="5.23" fill="#C6DBEF"/><rect x="305.43" y="506.59" width="6.70" height="3.48" fill="#9ECAE1"/><rect x="305.43" y="510.07" width="6.70" height="12.37" fill="#3182BD"/><rect x="313.19" y="447.79" width="6.70" height="2.61" fill="#FFF5F0"/><rect x="313.19" y="450.40" width="6.70" height="0.87" fill="#4A2A22"/><rect x="313.19" y="451.28" width="6.70" height="14.81" fill="#FEE0D2"/><rect x="313.19" y="466.08" width="6.70" height="1.74" fill="#4A2A22"/><rect x="313.19" y="467.83" width="6.70" height="4.79" fill="#FB6A4A"/><rect x="313.19" y="472.62" width="6.70" height="30.92" fill="#EFF3FF"/><rect x="313.19" y="503.54" width="6.70" height="6.97" fill="#C6DBEF"/><rect x="313.19" y="510.51" width="6.70" height="2.61" fill="#9ECAE1"/><rect x="313.19" y="513.12" width="6.70" height="2.18" fill="#6BAED6"/><rect x="313.19" y="515.30" width="6.70" height="7.14" fill="#3182BD"/><rect x="320.95" y="447.79" width="6.70" height="2.18" fill="#FFF5F0"/><rect x="320.95" y="449.97" width="6.70" height="1.74" fill="#5A7890"/><rect x="320.95" y="451.71" width="6.70" height="17.42" fill="#FEE0D2"/><rect x="320.95" y="469.13" width="6.70" height="2.61" fill="#4A2A22"/><rect x="320.95" y="471.75" width="6.70" height="3.05" fill="#FB6A4A"/><rect x="320.95" y="474.79" width="6.70" height="24.39" fill="#EFF3FF"/><rect x="320.95" y="499.18" width="6.70" height="11.32" fill="#C6DBEF"/><rect x="320.95" y="510.51" width="6.70" height="3.92" fill="#9ECAE1"/><rect x="320.95" y="514.43" width="6.70" height="3.05" fill="#6BAED6"/><rect x="320.95" y="517.48" width="6.70" height="4.97" fill="#3182BD"/><rect x="328.71" y="447.79" width="6.70" height="8.28" fill="#FFF5F0"/><rect x="328.71" y="456.07" width="6.70" height="14.37" fill="#FEE0D2"/><rect x="328.71" y="470.44" width="6.70" height="2.61" fill="#FCBBA1"/><rect x="328.71" y="473.05" width="6.70" height="2.61" fill="#FB6A4A"/><rect x="328.71" y="475.67" width="6.70" height="5.66" fill="#EFF3FF"/><rect x="328.71" y="481.33" width="6.70" height="26.13" fill="#C6DBEF"/><rect x="328.71" y="507.46" width="6.70" height="6.97" fill="#9ECAE1"/><rect x="328.71" y="514.43" width="6.70" height="3.92" fill="#6BAED6"/><rect x="328.71" y="518.35" width="6.70" height="4.09" fill="#3182BD"/><rect x="336.46" y="447.79" width="6.70" height="13.94" fill="#FFF5F0"/><rect x="336.46" y="461.73" width="6.70" height="7.84" fill="#FEE0D2"/><rect x="336.46" y="469.57" width="6.70" height="5.23" fill="#FCBBA1"/><rect x="336.46" y="474.79" width="6.70" height="2.61" fill="#FC9272"/><rect x="336.46" y="477.41" width="6.70" height="3.05" fill="#FB6A4A"/><rect x="336.46" y="480.46" width="6.70" height="29.18" fill="#C6DBEF"/><rect x="336.46" y="509.64" width="6.70" height="6.10" fill="#9ECAE1"/><rect x="336.46" y="515.74" width="6.70" height="3.92" fill="#6BAED6"/><rect x="336.46" y="519.66" width="6.70" height="2.79" fill="#3182BD"/><rect x="344.22" y="447.79" width="6.70" height="22.65" fill="#FFF5F0"/><rect x="344.22" y="470.44" width="6.70" height="3.92" fill="#FEE0D2"/><rect x="344.22" y="474.36" width="6.70" height="5.23" fill="#FCBBA1"/><rect x="344.22" y="479.59" width="6.70" height="15.24" fill="#FC9272"/><rect x="344.22" y="494.83" width="6.70" height="2.61" fill="#FB6A4A"/><rect x="344.22" y="497.44" width="6.70" height="3.05" fill="#EF3B2C"/><rect x="344.22" y="500.49" width="6.70" height="16.11" fill="#C6DBEF"/><rect x="344.22" y="516.61" width="6.70" height="2.18" fill="#5A7890"/><rect x="344.22" y="518.78" width="6.70" height="3.66" fill="#6BAED6"/><rect x="351.98" y="447.79" width="6.70" height="30.92" fill="#FFF5F0"/><rect x="351.98" y="478.71" width="6.70" height="3.92" fill="#FEE0D2"/><rect x="351.98" y="482.63" width="6.70" height="4.36" fill="#FCBBA1"/><rect x="351.98" y="486.99" width="6.70" height="21.34" fill="#FC9272"/><rect x="351.98" y="508.33" width="6.70" height="3.48" fill="#FB6A4A"/><rect x="351.98" y="511.82" width="6.70" height="3.48" fill="#EF3B2C"/><rect x="351.98" y="515.30" width="6.70" height="4.79" fill="#C6DBEF"/><rect x="351.98" y="520.09" width="6.70" height="2.35" fill="#6BAED6"/><rect x="359.74" y="447.79" width="6.70" height="27.87" fill="#FFF5F0"/><rect x="359.74" y="475.67" width="6.70" height="5.23" fill="#FEE0D2"/><rect x="359.74" y="480.89" width="6.70" height="3.92" fill="#FCBBA1"/><rect x="359.74" y="484.81" width="6.70" height="21.78" fill="#FC9272"/><rect x="359.74" y="506.59" width="6.70" height="3.05" fill="#FB6A4A"/><rect x="359.74" y="509.64" width="6.70" height="6.97" fill="#EF3B2C"/><rect x="359.74" y="516.61" width="6.70" height="2.18" fill="#CD1F20"/><rect x="359.74" y="518.78" width="6.70" height="2.18" fill="#C6DBEF"/><rect x="359.74" y="520.96" width="6.70" height="1.48" fill="#3182BD"/><rect x="367.50" y="447.79" width="6.70" height="13.94" fill="#FFF5F0"/><rect x="367.50" y="461.73" width="6.70" height="6.97" fill="#FEE0D2"/><rect x="367.50" y="468.70" width="6.70" height="3.05" fill="#4A2A22"/><rect x="367.50" y="471.75" width="6.70" height="14.81" fill="#FC9272"/><rect x="367.50" y="486.55" width="6.70" height="3.05" fill="#FB6A4A"/><rect x="367.50" y="489.60" width="6.70" height="5.66" fill="#EF3B2C"/><rect x="367.50" y="495.26" width="6.70" height="10.45" fill="#CD1F20"/><rect x="367.50" y="505.72" width="6.70" height="16.48" fill="#A3150F"/><rect x="375.25" y="447.79" width="6.70" height="3.48" fill="#FFF5F0"/><rect x="375.25" y="451.28" width="6.70" height="5.66" fill="#FEE0D2"/><rect x="375.25" y="456.94" width="6.70" height="9.58" fill="#FC9272"/><rect x="375.25" y="466.52" width="6.70" height="2.18" fill="#4A2A22"/><rect x="375.25" y="468.70" width="6.70" height="3.05" fill="#EF3B2C"/><rect x="375.25" y="471.75" width="6.70" height="24.83" fill="#CD1F20"/><rect x="375.25" y="496.57" width="6.70" height="25.63" fill="#A3150F"/><rect x="383.01" y="447.79" width="6.70" height="2.18" fill="#5A7890"/><rect x="383.01" y="449.97" width="6.70" height="6.10" fill="#FEE0D2"/><rect x="383.01" y="456.07" width="6.70" height="8.71" fill="#FC9272"/><rect x="383.01" y="464.78" width="6.70" height="2.18" fill="#FB6A4A"/><rect x="383.01" y="466.95" width="6.70" height="2.61" fill="#EF3B2C"/><rect x="383.01" y="469.57" width="6.70" height="20.03" fill="#CD1F20"/><rect x="383.01" y="489.60" width="6.70" height="32.60" fill="#A3150F"/><rect x="390.77" y="447.79" width="6.70" height="2.18" fill="#5A7890"/><rect x="390.77" y="449.97" width="6.70" height="6.53" fill="#FEE0D2"/><rect x="390.77" y="456.50" width="6.70" height="9.15" fill="#FC9272"/><rect x="390.77" y="465.65" width="6.70" height="3.05" fill="#FB6A4A"/><rect x="390.77" y="468.70" width="6.70" height="3.05" fill="#EF3B2C"/><rect x="390.77" y="471.75" width="6.70" height="16.99" fill="#CD1F20"/><rect x="390.77" y="488.73" width="6.70" height="33.47" fill="#A3150F"/><rect x="398.53" y="447.79" width="6.70" height="3.05" fill="#4A2A22"/><rect x="398.53" y="450.84" width="6.70" height="11.76" fill="#FC9272"/><rect x="398.53" y="462.60" width="6.70" height="7.40" fill="#FB6A4A"/><rect x="398.53" y="470.00" width="6.70" height="4.79" fill="#EF3B2C"/><rect x="398.53" y="474.79" width="6.70" height="14.81" fill="#CD1F20"/><rect x="398.53" y="489.60" width="6.70" height="32.60" fill="#A3150F"/><rect x="406.29" y="447.79" width="6.70" height="2.18" fill="#4A2A22"/><rect x="406.29" y="449.97" width="6.70" height="19.16" fill="#FB6A4A"/><rect x="406.29" y="469.13" width="6.70" height="3.48" fill="#EF3B2C"/><rect x="406.29" y="472.62" width="6.70" height="16.99" fill="#CD1F20"/><rect x="406.29" y="489.60" width="6.70" height="32.60" fill="#A3150F"/><rect x="414.04" y="448.23" width="6.70" height="4.79" fill="#FB6A4A"/><rect x="414.04" y="453.02" width="6.70" height="1.74" fill="#4A2A22"/><rect x="414.04" y="454.76" width="6.70" height="28.31" fill="#CD1F20"/><rect x="414.04" y="483.07" width="6.70" height="39.13" fill="#A3150F"/><rect x="421.80" y="447.36" width="6.70" height="70.99" fill="#CD1F20"/><rect x="421.80" y="518.35" width="6.70" height="3.92" fill="#A3150F"/></g>
<rect x="266.9" y="443.3" width="169.5" height="83" fill="none" stroke="#333" stroke-width="0.7" />
<line x1="264.7" y1="458" x2="266.9" y2="458" stroke="#333" stroke-width="0.6" />
<text x="263.6" y="460.8" font-size="8.1" fill="#4D4D4D" text-anchor="end" >200000</text>
<line x1="264.7" y1="474.2" x2="266.9" y2="474.2" stroke="#333" stroke-width="0.6" />
<text x="263.6" y="477" font-size="8.1" fill="#4D4D4D" text-anchor="end" >150000</text>
<line x1="264.7" y1="490.4" x2="266.9" y2="490.4" stroke="#333" stroke-width="0.6" />
<text x="263.6" y="493.2" font-size="8.1" fill="#4D4D4D" text-anchor="end" >100000</text>
<line x1="264.7" y1="506.5" x2="266.9" y2="506.5" stroke="#333" stroke-width="0.6" />
<text x="263.6" y="509.3" font-size="8.1" fill="#4D4D4D" text-anchor="end" >50000</text>
<line x1="264.7" y1="522.5" x2="266.9" y2="522.5" stroke="#333" stroke-width="0.6" />
<text x="263.6" y="525.3" font-size="8.1" fill="#4D4D4D" text-anchor="end" >0</text>
<text x="231.2" y="484.7" font-size="10.1" text-anchor="middle" transform="rotate(-90 231.2 484.7)" >Cells</text>
<text x="497.2" y="429.3" font-size="9.6" textLength="42.7" lengthAdjust="spacingAndGlyphs" >CD44 bins</text>
<line x1="543.3" y1="427.5" x2="573" y2="427.5" stroke="#000" stroke-width="1" />
<path d="M569.60 431.85 L577.80 427.50 L569.60 423.15 L571.20 427.50 Z" fill="#000"/>
<g stroke="#111" stroke-width="0.4"><rect x="497.20" y="432.9" width="7.75" height="7.300000000000011" fill="#440154"/><rect x="504.95" y="432.9" width="7.75" height="7.300000000000011" fill="#481467"/><rect x="512.70" y="432.9" width="7.75" height="7.300000000000011" fill="#482576"/><rect x="520.45" y="432.9" width="7.75" height="7.300000000000011" fill="#453781"/><rect x="528.20" y="432.9" width="7.75" height="7.300000000000011" fill="#404688"/><rect x="535.95" y="432.9" width="7.75" height="7.300000000000011" fill="#39558c"/><rect x="543.70" y="432.9" width="7.75" height="7.300000000000011" fill="#33638d"/><rect x="551.45" y="432.9" width="7.75" height="7.300000000000011" fill="#2d718e"/><rect x="559.20" y="432.9" width="7.75" height="7.300000000000011" fill="#287d8e"/><rect x="566.95" y="432.9" width="7.75" height="7.300000000000011" fill="#238a8d"/><rect x="574.70" y="432.9" width="7.75" height="7.300000000000011" fill="#1f968b"/><rect x="582.45" y="432.9" width="7.75" height="7.300000000000011" fill="#20a386"/><rect x="590.20" y="432.9" width="7.75" height="7.300000000000011" fill="#29af7f"/><rect x="597.95" y="432.9" width="7.75" height="7.300000000000011" fill="#3dbc74"/><rect x="605.70" y="432.9" width="7.75" height="7.300000000000011" fill="#56c667"/><rect x="613.45" y="432.9" width="7.75" height="7.300000000000011" fill="#75d054"/><rect x="621.20" y="432.9" width="7.75" height="7.300000000000011" fill="#95d840"/><rect x="628.95" y="432.9" width="7.75" height="7.300000000000011" fill="#bade28"/><rect x="636.70" y="432.9" width="7.75" height="7.300000000000011" fill="#dde318"/><rect x="644.45" y="432.9" width="7.75" height="7.300000000000011" fill="#fde725"/></g>
<rect x="489.6" y="443" width="170" height="83.3" fill="#fff" />
<g stroke="#EBEBEB" stroke-width="0.6"><line x1="489.6" y1="522.80" x2="659.6" y2="522.80"/><line x1="489.6" y1="512.10" x2="659.6" y2="512.10"/><line x1="489.6" y1="501.40" x2="659.6" y2="501.40"/><line x1="489.6" y1="490.70" x2="659.6" y2="490.70"/><line x1="489.6" y1="480.00" x2="659.6" y2="480.00"/><line x1="489.6" y1="469.30" x2="659.6" y2="469.30"/><line x1="489.6" y1="458.60" x2="659.6" y2="458.60"/><line x1="489.6" y1="447.90" x2="659.6" y2="447.90"/></g>
<g stroke="#000" stroke-width="1.1"><rect x="497.50" y="447.36" width="6.55" height="1.31" fill="#4A2A22"/><rect x="497.50" y="448.66" width="6.55" height="2.61" fill="#FB6A4A"/><rect x="497.50" y="451.28" width="6.55" height="8.28" fill="#9ECAE1"/><rect x="497.50" y="459.55" width="6.55" height="1.74" fill="#4A2A22"/><rect x="497.50" y="461.29" width="6.55" height="61.15" fill="#08519C"/><rect x="505.27" y="448.23" width="6.55" height="6.53" fill="#FCBBA1"/><rect x="505.27" y="454.76" width="6.55" height="27.00" fill="#FB6A4A"/><rect x="505.27" y="481.76" width="6.55" height="13.94" fill="#9ECAE1"/><rect x="505.27" y="495.70" width="6.55" height="3.05" fill="#5A7890"/><rect x="505.27" y="498.75" width="6.55" height="10.89" fill="#3182BD"/><rect x="505.27" y="509.64" width="6.55" height="12.80" fill="#08519C"/><rect x="513.04" y="447.79" width="6.55" height="6.97" fill="#FEE0D2"/><rect x="513.04" y="454.76" width="6.55" height="5.66" fill="#FCBBA1"/><rect x="513.04" y="460.42" width="6.55" height="29.62" fill="#FB6A4A"/><rect x="513.04" y="490.04" width="6.55" height="3.48" fill="#EFF3FF"/><rect x="513.04" y="493.52" width="6.55" height="7.84" fill="#9ECAE1"/><rect x="513.04" y="501.36" width="6.55" height="1.74" fill="#4A2A22"/><rect x="513.04" y="503.10" width="6.55" height="15.68" fill="#3182BD"/><rect x="513.04" y="518.78" width="6.55" height="3.66" fill="#08519C"/><rect x="520.81" y="448.23" width="6.55" height="12.20" fill="#FEE0D2"/><rect x="520.81" y="460.42" width="6.55" height="1.31" fill="#4A2A22"/><rect x="520.81" y="461.73" width="6.55" height="3.05" fill="#FCBBA1"/><rect x="520.81" y="464.78" width="6.55" height="17.42" fill="#FB6A4A"/><rect x="520.81" y="482.20" width="6.55" height="19.16" fill="#EFF3FF"/><rect x="520.81" y="501.36" width="6.55" height="2.61" fill="#5A7890"/><rect x="520.81" y="503.98" width="6.55" height="3.48" fill="#9ECAE1"/><rect x="520.81" y="507.46" width="6.55" height="14.98" fill="#3182BD"/><rect x="528.58" y="447.79" width="6.55" height="2.18" fill="#FFF5F0"/><rect x="528.58" y="449.97" width="6.55" height="13.94" fill="#FEE0D2"/><rect x="528.58" y="463.91" width="6.55" height="2.61" fill="#4A2A22"/><rect x="528.58" y="466.52" width="6.55" height="8.28" fill="#FB6A4A"/><rect x="528.58" y="474.79" width="6.55" height="29.62" fill="#EFF3FF"/><rect x="528.58" y="504.41" width="6.55" height="3.05" fill="#C6DBEF"/><rect x="528.58" y="507.46" width="6.55" height="3.05" fill="#5A7890"/><rect x="528.58" y="510.51" width="6.55" height="11.93" fill="#3182BD"/><rect x="536.35" y="447.79" width="6.55" height="3.92" fill="#FFF5F0"/><rect x="536.35" y="451.71" width="6.55" height="15.68" fill="#FEE0D2"/><rect x="536.35" y="467.39" width="6.55" height="2.18" fill="#4A2A22"/><rect x="536.35" y="469.57" width="6.55" height="5.23" fill="#FB6A4A"/><rect x="536.35" y="474.79" width="6.55" height="32.67" fill="#EFF3FF"/><rect x="536.35" y="507.46" width="6.55" height="4.79" fill="#C6DBEF"/><rect x="536.35" y="512.25" width="6.55" height="3.48" fill="#5A7890"/><rect x="536.35" y="515.74" width="6.55" height="6.71" fill="#3182BD"/><rect x="544.12" y="447.79" width="6.55" height="4.79" fill="#FFF5F0"/><rect x="544.12" y="452.58" width="6.55" height="19.60" fill="#FEE0D2"/><rect x="544.12" y="472.18" width="6.55" height="2.61" fill="#4A2A22"/><rect x="544.12" y="474.79" width="6.55" height="3.92" fill="#FB6A4A"/><rect x="544.12" y="478.71" width="6.55" height="26.13" fill="#EFF3FF"/><rect x="544.12" y="504.85" width="6.55" height="7.40" fill="#C6DBEF"/><rect x="544.12" y="512.25" width="6.55" height="3.48" fill="#5A7890"/><rect x="544.12" y="515.74" width="6.55" height="2.18" fill="#6BAED6"/><rect x="544.12" y="517.91" width="6.55" height="4.53" fill="#3182BD"/><rect x="551.89" y="447.79" width="6.55" height="14.81" fill="#FFF5F0"/><rect x="551.89" y="462.60" width="6.55" height="18.29" fill="#FEE0D2"/><rect x="551.89" y="480.89" width="6.55" height="3.92" fill="#FCBBA1"/><rect x="551.89" y="484.81" width="6.55" height="3.92" fill="#FB6A4A"/><rect x="551.89" y="488.73" width="6.55" height="5.23" fill="#EFF3FF"/><rect x="551.89" y="493.96" width="6.55" height="0.87" fill="#4A2A22"/><rect x="551.89" y="494.83" width="6.55" height="15.68" fill="#C6DBEF"/><rect x="551.89" y="510.51" width="6.55" height="3.48" fill="#9ECAE1"/><rect x="551.89" y="513.99" width="6.55" height="3.48" fill="#6BAED6"/><rect x="551.89" y="517.48" width="6.55" height="4.97" fill="#3182BD"/><rect x="559.66" y="447.79" width="6.55" height="26.13" fill="#FFF5F0"/><rect x="559.66" y="473.92" width="6.55" height="7.84" fill="#FEE0D2"/><rect x="559.66" y="481.76" width="6.55" height="7.84" fill="#FCBBA1"/><rect x="559.66" y="489.60" width="6.55" height="1.31" fill="#4A2A22"/><rect x="559.66" y="490.91" width="6.55" height="9.58" fill="#FC9272"/><rect x="559.66" y="500.49" width="6.55" height="4.36" fill="#FB6A4A"/><rect x="559.66" y="504.85" width="6.55" height="2.18" fill="#4A2A22"/><rect x="559.66" y="507.02" width="6.55" height="7.84" fill="#C6DBEF"/><rect x="559.66" y="514.86" width="6.55" height="3.48" fill="#9ECAE1"/><rect x="559.66" y="518.35" width="6.55" height="4.09" fill="#6BAED6"/><rect x="567.43" y="447.79" width="6.55" height="34.41" fill="#FFF5F0"/><rect x="567.43" y="482.20" width="6.55" height="3.48" fill="#FEE0D2"/><rect x="567.43" y="485.68" width="6.55" height="6.97" fill="#FCBBA1"/><rect x="567.43" y="492.65" width="6.55" height="20.03" fill="#FC9272"/><rect x="567.43" y="512.69" width="6.55" height="3.05" fill="#4A2A22"/><rect x="567.43" y="515.74" width="6.55" height="3.92" fill="#EF3B2C"/><rect x="567.43" y="519.66" width="6.55" height="2.79" fill="#6BAED6"/><rect x="575.20" y="447.79" width="6.55" height="37.02" fill="#FFF5F0"/><rect x="575.20" y="484.81" width="6.55" height="3.92" fill="#FEE0D2"/><rect x="575.20" y="488.73" width="6.55" height="5.66" fill="#FCBBA1"/><rect x="575.20" y="494.39" width="6.55" height="20.03" fill="#FC9272"/><rect x="575.20" y="514.43" width="6.55" height="3.05" fill="#4A2A22"/><rect x="575.20" y="517.48" width="6.55" height="4.97" fill="#EF3B2C"/><rect x="582.97" y="447.79" width="6.55" height="28.75" fill="#FFF5F0"/><rect x="582.97" y="476.54" width="6.55" height="6.10" fill="#FEE0D2"/><rect x="582.97" y="482.63" width="6.55" height="3.92" fill="#FCBBA1"/><rect x="582.97" y="486.55" width="6.55" height="16.11" fill="#FC9272"/><rect x="582.97" y="502.67" width="6.55" height="3.05" fill="#4A2A22"/><rect x="582.97" y="505.72" width="6.55" height="7.84" fill="#EF3B2C"/><rect x="582.97" y="513.56" width="6.55" height="6.10" fill="#CD1F20"/><rect x="582.97" y="519.66" width="6.55" height="2.79" fill="#A3150F"/><rect x="590.74" y="447.79" width="6.55" height="13.07" fill="#FFF5F0"/><rect x="590.74" y="460.86" width="6.55" height="6.10" fill="#FEE0D2"/><rect x="590.74" y="466.95" width="6.55" height="2.18" fill="#FCBBA1"/><rect x="590.74" y="469.13" width="6.55" height="9.15" fill="#FC9272"/><rect x="590.74" y="478.28" width="6.55" height="1.31" fill="#4A2A22"/><rect x="590.74" y="479.59" width="6.55" height="5.23" fill="#EF3B2C"/><rect x="590.74" y="484.81" width="6.55" height="20.91" fill="#CD1F20"/><rect x="590.74" y="505.72" width="6.55" height="16.48" fill="#A3150F"/><rect x="598.51" y="447.79" width="6.55" height="3.48" fill="#FFF5F0"/><rect x="598.51" y="451.28" width="6.55" height="6.10" fill="#FEE0D2"/><rect x="598.51" y="457.37" width="6.55" height="1.31" fill="#4A2A22"/><rect x="598.51" y="458.68" width="6.55" height="7.84" fill="#FC9272"/><rect x="598.51" y="466.52" width="6.55" height="1.31" fill="#4A2A22"/><rect x="598.51" y="467.83" width="6.55" height="3.92" fill="#EF3B2C"/><rect x="598.51" y="471.75" width="6.55" height="25.70" fill="#CD1F20"/><rect x="598.51" y="497.44" width="6.55" height="24.76" fill="#A3150F"/><rect x="606.28" y="447.79" width="6.55" height="2.18" fill="#FFF5F0"/><rect x="606.28" y="449.97" width="6.55" height="7.40" fill="#FEE0D2"/><rect x="606.28" y="457.37" width="6.55" height="6.97" fill="#FC9272"/><rect x="606.28" y="464.34" width="6.55" height="2.18" fill="#4A2A22"/><rect x="606.28" y="466.52" width="6.55" height="3.05" fill="#EF3B2C"/><rect x="606.28" y="469.57" width="6.55" height="22.21" fill="#CD1F20"/><rect x="606.28" y="491.78" width="6.55" height="30.42" fill="#A3150F"/><rect x="614.05" y="447.79" width="6.55" height="3.05" fill="#FFF5F0"/><rect x="614.05" y="450.84" width="6.55" height="5.66" fill="#FEE0D2"/><rect x="614.05" y="456.50" width="6.55" height="10.45" fill="#FC9272"/><rect x="614.05" y="466.95" width="6.55" height="3.05" fill="#FB6A4A"/><rect x="614.05" y="470.00" width="6.55" height="3.48" fill="#EF3B2C"/><rect x="614.05" y="473.49" width="6.55" height="17.25" fill="#CD1F20"/><rect x="614.05" y="490.74" width="6.55" height="31.46" fill="#A3150F"/><rect x="621.82" y="447.79" width="6.55" height="2.61" fill="#4A2A22"/><rect x="621.82" y="450.40" width="6.55" height="8.71" fill="#FC9272"/><rect x="621.82" y="459.11" width="6.55" height="10.02" fill="#FB6A4A"/><rect x="621.82" y="469.13" width="6.55" height="6.53" fill="#EF3B2C"/><rect x="621.82" y="475.67" width="6.55" height="16.99" fill="#CD1F20"/><rect x="621.82" y="492.65" width="6.55" height="29.55" fill="#A3150F"/><rect x="629.59" y="447.79" width="6.55" height="1.74" fill="#4A2A22"/><rect x="629.59" y="449.53" width="6.55" height="23.52" fill="#FB6A4A"/><rect x="629.59" y="473.05" width="6.55" height="4.36" fill="#EF3B2C"/><rect x="629.59" y="477.41" width="6.55" height="18.29" fill="#CD1F20"/><rect x="629.59" y="495.70" width="6.55" height="26.50" fill="#A3150F"/><rect x="637.36" y="447.36" width="6.55" height="4.18" fill="#4A2A22"/><rect x="637.36" y="451.54" width="6.55" height="34.49" fill="#CD1F20"/><rect x="637.36" y="486.03" width="6.55" height="36.17" fill="#A3150F"/><rect x="645.13" y="447.36" width="6.55" height="73.61" fill="#CD1F20"/><rect x="645.13" y="520.96" width="6.55" height="1.39" fill="#A3150F"/></g>
<rect x="489.6" y="443" width="170" height="83.3" fill="none" stroke="#333" stroke-width="0.7" />
<line x1="487.4" y1="458.7" x2="489.6" y2="458.7" stroke="#333" stroke-width="0.6" />
<text x="486.3" y="461.5" font-size="8.1" fill="#4D4D4D" text-anchor="end" >150000</text>
<line x1="487.4" y1="480" x2="489.6" y2="480" stroke="#333" stroke-width="0.6" />
<text x="486.3" y="482.8" font-size="8.1" fill="#4D4D4D" text-anchor="end" >100000</text>
<line x1="487.4" y1="501.4" x2="489.6" y2="501.4" stroke="#333" stroke-width="0.6" />
<text x="486.3" y="504.2" font-size="8.1" fill="#4D4D4D" text-anchor="end" >50000</text>
<line x1="487.4" y1="522.8" x2="489.6" y2="522.8" stroke="#333" stroke-width="0.6" />
<text x="486.3" y="525.6" font-size="8.1" fill="#4D4D4D" text-anchor="end" >0</text>
<text x="453.5" y="484.5" font-size="10.1" text-anchor="middle" transform="rotate(-90 453.5 484.5)" >Cells</text>
<text x="676.6" y="444" font-size="8.4" transform="rotate(90 676.6 444)" textLength="80.9" lengthAdjust="spacingAndGlyphs" >Cell type fractions per</text>
<text x="666.3" y="446.4" font-size="8.4" transform="rotate(90 666.3 446.4)" textLength="77.6" lengthAdjust="spacingAndGlyphs" >sample per CD44 bin</text>
<text x="216.3" y="542.1" font-size="14" >j</text>
<line x1="259.2" y1="532.9" x2="685" y2="532.9" stroke="#111" stroke-width="1.5" stroke-dasharray="2.8 2.24" stroke-dashoffset="1.05"/>
<line x1="259.2" y1="629.4" x2="685" y2="629.4" stroke="#111" stroke-width="1.5" stroke-dasharray="2.8 2.24" stroke-dashoffset="1.05"/>
<rect x="266.6" y="539.7" width="170" height="82.8" fill="#fff" />
<g stroke="#EBEBEB" stroke-width="0.6"><line x1="266.6" y1="618.90" x2="436.6" y2="618.90"/><line x1="266.6" y1="609.36" x2="436.6" y2="609.36"/><line x1="266.6" y1="599.83" x2="436.6" y2="599.83"/><line x1="266.6" y1="590.29" x2="436.6" y2="590.29"/><line x1="266.6" y1="580.75" x2="436.6" y2="580.75"/><line x1="266.6" y1="571.21" x2="436.6" y2="571.21"/><line x1="266.6" y1="561.67" x2="436.6" y2="561.67"/><line x1="266.6" y1="552.14" x2="436.6" y2="552.14"/><line x1="266.6" y1="542.60" x2="436.6" y2="542.60"/><line x1="286.65" y1="539.7" x2="286.65" y2="622.5"/><line x1="306.90" y1="539.7" x2="306.90" y2="622.5"/><line x1="327.15" y1="539.7" x2="327.15" y2="622.5"/><line x1="347.40" y1="539.7" x2="347.40" y2="622.5"/><line x1="367.65" y1="539.7" x2="367.65" y2="622.5"/><line x1="387.90" y1="539.7" x2="387.90" y2="622.5"/><line x1="408.15" y1="539.7" x2="408.15" y2="622.5"/><line x1="428.40" y1="539.7" x2="428.40" y2="622.5"/></g>
<path d="M274.5 619.2 L282.6 619.2 L290.7 619.2 L298.8 619.2 L306.9 619.2 L315 619.2 L323.1 619.2 L331.2 617.5 L339.3 614.6 L347.4 606.2 L355.5 593.8 L363.6 582.3 L371.7 572.3 L379.8 567 L387.9 563.1 L396 558.9 L404.1 554.2 L412.2 549.4 L420.3 545.2 L428.4 542.9" fill="none" stroke="#BDBDBD" stroke-width="0.9"/>
<circle cx="274.5" cy="619.2" r="2.05" fill="#000" />
<circle cx="282.6" cy="619.2" r="2.05" fill="#000" />
<circle cx="290.7" cy="619.2" r="2.05" fill="#000" />
<circle cx="298.8" cy="619.2" r="2.05" fill="#000" />
<circle cx="306.9" cy="619.2" r="2.05" fill="#000" />
<circle cx="315" cy="619.2" r="2.05" fill="#000" />
<circle cx="323.1" cy="619.2" r="2.05" fill="#000" />
<circle cx="331.2" cy="617.5" r="2.05" fill="#000" />
<circle cx="339.3" cy="614.6" r="2.05" fill="#000" />
<circle cx="347.4" cy="606.2" r="2.05" fill="#000" />
<circle cx="355.5" cy="593.8" r="2.05" fill="#000" />
<circle cx="363.6" cy="582.3" r="2.05" fill="#000" />
<circle cx="371.7" cy="572.3" r="2.05" fill="#000" />
<circle cx="379.8" cy="567" r="2.05" fill="#000" />
<circle cx="387.9" cy="563.1" r="2.05" fill="#000" />
<circle cx="396" cy="558.9" r="2.05" fill="#000" />
<circle cx="404.1" cy="554.2" r="2.05" fill="#000" />
<circle cx="412.2" cy="549.4" r="2.05" fill="#000" />
<circle cx="420.3" cy="545.2" r="2.05" fill="#000" />
<circle cx="428.4" cy="542.9" r="2.05" fill="#000" />
<rect x="266.6" y="539.7" width="170" height="82.8" fill="none" stroke="#333" stroke-width="0.7" />
<line x1="264.4" y1="542.6" x2="266.6" y2="542.6" stroke="#333" stroke-width="0.6" />
<text x="263.3" y="545.4" font-size="8.1" fill="#4D4D4D" text-anchor="end" >1.00</text>
<line x1="264.4" y1="561.67" x2="266.6" y2="561.67" stroke="#333" stroke-width="0.6" />
<text x="263.3" y="564.47" font-size="8.1" fill="#4D4D4D" text-anchor="end" >0.75</text>
<line x1="264.4" y1="580.75" x2="266.6" y2="580.75" stroke="#333" stroke-width="0.6" />
<text x="263.3" y="583.55" font-size="8.1" fill="#4D4D4D" text-anchor="end" >0.50</text>
<line x1="264.4" y1="599.83" x2="266.6" y2="599.83" stroke="#333" stroke-width="0.6" />
<text x="263.3" y="602.62" font-size="8.1" fill="#4D4D4D" text-anchor="end" >0.25</text>
<line x1="264.4" y1="618.9" x2="266.6" y2="618.9" stroke="#333" stroke-width="0.6" />
<text x="263.3" y="621.7" font-size="8.1" fill="#4D4D4D" text-anchor="end" >0.00</text>
<text x="230.6" y="581.2" font-size="10.3" text-anchor="middle" transform="rotate(-90 230.6 581.2)" >CD44 density</text>
<rect x="489.9" y="539" width="169.1" height="82.9" fill="#fff" />
<g stroke="#EBEBEB" stroke-width="0.6"><line x1="489.9" y1="618.90" x2="659.0" y2="618.90"/><line x1="489.9" y1="609.36" x2="659.0" y2="609.36"/><line x1="489.9" y1="599.83" x2="659.0" y2="599.83"/><line x1="489.9" y1="590.29" x2="659.0" y2="590.29"/><line x1="489.9" y1="580.75" x2="659.0" y2="580.75"/><line x1="489.9" y1="571.21" x2="659.0" y2="571.21"/><line x1="489.9" y1="561.67" x2="659.0" y2="561.67"/><line x1="489.9" y1="552.14" x2="659.0" y2="552.14"/><line x1="489.9" y1="542.60" x2="659.0" y2="542.60"/><line x1="509.59" y1="539.0" x2="509.59" y2="621.9"/><line x1="529.90" y1="539.0" x2="529.90" y2="621.9"/><line x1="550.21" y1="539.0" x2="550.21" y2="621.9"/><line x1="570.52" y1="539.0" x2="570.52" y2="621.9"/><line x1="590.84" y1="539.0" x2="590.84" y2="621.9"/><line x1="611.15" y1="539.0" x2="611.15" y2="621.9"/><line x1="631.46" y1="539.0" x2="631.46" y2="621.9"/><line x1="651.77" y1="539.0" x2="651.77" y2="621.9"/></g>
<path d="M497.4 618.6 L505.52 618.6 L513.65 618.6 L521.77 618.6 L529.9 618.6 L538.02 618.6 L546.15 618.6 L554.27 617.1 L562.4 611.4 L570.52 599.4 L578.65 587.8 L586.77 577.6 L594.9 569.5 L603.02 565.9 L611.15 561.7 L619.27 557.8 L627.4 553.3 L635.52 548.9 L643.65 545 L651.77 542.9" fill="none" stroke="#BDBDBD" stroke-width="0.9"/>
<circle cx="497.4" cy="618.6" r="2.05" fill="#000" />
<circle cx="505.52" cy="618.6" r="2.05" fill="#000" />
<circle cx="513.65" cy="618.6" r="2.05" fill="#000" />
<circle cx="521.77" cy="618.6" r="2.05" fill="#000" />
<circle cx="529.9" cy="618.6" r="2.05" fill="#000" />
<circle cx="538.02" cy="618.6" r="2.05" fill="#000" />
<circle cx="546.15" cy="618.6" r="2.05" fill="#000" />
<circle cx="554.27" cy="617.1" r="2.05" fill="#000" />
<circle cx="562.4" cy="611.4" r="2.05" fill="#000" />
<circle cx="570.52" cy="599.4" r="2.05" fill="#000" />
<circle cx="578.65" cy="587.8" r="2.05" fill="#000" />
<circle cx="586.77" cy="577.6" r="2.05" fill="#000" />
<circle cx="594.9" cy="569.5" r="2.05" fill="#000" />
<circle cx="603.02" cy="565.9" r="2.05" fill="#000" />
<circle cx="611.15" cy="561.7" r="2.05" fill="#000" />
<circle cx="619.27" cy="557.8" r="2.05" fill="#000" />
<circle cx="627.4" cy="553.3" r="2.05" fill="#000" />
<circle cx="635.52" cy="548.9" r="2.05" fill="#000" />
<circle cx="643.65" cy="545" r="2.05" fill="#000" />
<circle cx="651.77" cy="542.9" r="2.05" fill="#000" />
<rect x="489.9" y="539" width="169.1" height="82.9" fill="none" stroke="#333" stroke-width="0.7" />
<line x1="487.7" y1="542.6" x2="489.9" y2="542.6" stroke="#333" stroke-width="0.6" />
<text x="486.6" y="545.4" font-size="8.1" fill="#4D4D4D" text-anchor="end" >1.00</text>
<line x1="487.7" y1="561.67" x2="489.9" y2="561.67" stroke="#333" stroke-width="0.6" />
<text x="486.6" y="564.47" font-size="8.1" fill="#4D4D4D" text-anchor="end" >0.75</text>
<line x1="487.7" y1="580.75" x2="489.9" y2="580.75" stroke="#333" stroke-width="0.6" />
<text x="486.6" y="583.55" font-size="8.1" fill="#4D4D4D" text-anchor="end" >0.50</text>
<line x1="487.7" y1="599.83" x2="489.9" y2="599.83" stroke="#333" stroke-width="0.6" />
<text x="486.6" y="602.62" font-size="8.1" fill="#4D4D4D" text-anchor="end" >0.25</text>
<line x1="487.7" y1="618.9" x2="489.9" y2="618.9" stroke="#333" stroke-width="0.6" />
<text x="486.6" y="621.7" font-size="8.1" fill="#4D4D4D" text-anchor="end" >0.00</text>
<text x="452.8" y="581.2" font-size="10.3" text-anchor="middle" transform="rotate(-90 452.8 581.2)" >CD44 density</text>
<text x="677.3" y="537" font-size="8.4" transform="rotate(90 677.3 537)" textLength="87" lengthAdjust="spacingAndGlyphs" >Average adjusted CD44</text>
<text x="666.4" y="541.7" font-size="8.4" transform="rotate(90 666.4 541.7)" textLength="78.2" lengthAdjust="spacingAndGlyphs" >density per CD44 bin</text>
<text x="214.3" y="647.5" font-size="14" >k</text>
<rect x="266.6" y="635.3" width="170" height="137.9" fill="#fff" />
<g stroke="#EBEBEB" stroke-width="0.6"><line x1="266.6" y1="767.40" x2="436.6" y2="767.40"/><line x1="266.6" y1="748.75" x2="436.6" y2="748.75"/><line x1="266.6" y1="730.10" x2="436.6" y2="730.10"/><line x1="266.6" y1="711.45" x2="436.6" y2="711.45"/><line x1="266.6" y1="692.80" x2="436.6" y2="692.80"/><line x1="266.6" y1="674.15" x2="436.6" y2="674.15"/><line x1="266.6" y1="655.50" x2="436.6" y2="655.50"/><line x1="266.6" y1="636.85" x2="436.6" y2="636.85"/><line x1="286.65" y1="635.3" x2="286.65" y2="773.2"/><line x1="306.90" y1="635.3" x2="306.90" y2="773.2"/><line x1="327.15" y1="635.3" x2="327.15" y2="773.2"/><line x1="347.40" y1="635.3" x2="347.40" y2="773.2"/><line x1="367.65" y1="635.3" x2="367.65" y2="773.2"/><line x1="387.90" y1="635.3" x2="387.90" y2="773.2"/><line x1="408.15" y1="635.3" x2="408.15" y2="773.2"/><line x1="428.40" y1="635.3" x2="428.40" y2="773.2"/></g>
<path d="M274.5 767.4 L282.6 767.4 L290.7 767.4 L298.8 767.4 L306.9 767.4 L315 767.4 L323.1 766.65 L331.2 765.16 L339.3 762.92 L347.4 760.69 L355.5 764.42 L363.6 765.16 L371.7 760.69 L379.8 759.94 L387.9 764.42 L396 765.16 L404.1 765.91 L412.2 766.65 L420.3 767.4 L428.4 767.4" fill="none" stroke="#111" stroke-width="0.95"/>
<path d="M274.5 767.4 L282.6 767.4 L290.7 767.4 L298.8 767.4 L306.9 767.4 L315 767.4 L323.1 767.4 L331.2 766.65 L339.3 765.16 L347.4 756.96 L355.5 654.75 L363.6 719.66 L371.7 720.4 L379.8 732.34 L387.9 733.83 L396 742.04 L404.1 738.31 L412.2 746.51 L420.3 765.91 L428.4 767.4" fill="none" stroke="#111" stroke-width="0.95"/>
<path d="M274.5 767.4 L282.6 767.4 L290.7 767.4 L298.8 767.4 L306.9 767.4 L315 767.4 L323.1 765.91 L331.2 765.16 L339.3 760.69 L347.4 763.67 L355.5 765.16 L363.6 762.18 L371.7 761.43 L379.8 759.19 L387.9 759.94 L396 762.92 L404.1 764.42 L412.2 765.16 L420.3 766.65 L428.4 767.4" fill="none" stroke="#111" stroke-width="0.95"/>
<path d="M339.3 742.04 L347.4 730.85 L355.5 733.08 L363.6 730.85 L371.7 725.62 L379.8 718.16 L387.9 713.69 L396 712.2 L404.1 720.4 L412.2 739.8 L420.3 761.43 L428.4 766.65" fill="none" stroke="#111" stroke-width="0.95"/>
<path d="M274.5 766.65 L282.6 766.65 L290.7 766.65 L298.8 766.65 L306.9 766.65 L315 766.65 L323.1 765.91 L331.2 765.16 L339.3 764.42 L347.4 763.67 L355.5 749.5 L363.6 723.39 L371.7 759.19 L379.8 758.45 L387.9 757.7 L396 739.8 L404.1 740.54 L412.2 750.99 L420.3 760.69 L428.4 766.65" fill="none" stroke="#111" stroke-width="0.95"/>
<path d="M339.3 765.91 L347.4 765.16 L355.5 752.48 L363.6 762.92 L371.7 762.92 L379.8 761.43 L387.9 762.18 L396 762.92 L404.1 763.67 L412.2 764.42 L420.3 765.91 L428.4 766.65" fill="none" stroke="#111" stroke-width="0.95"/>
<path d="M347.4 766.65 L355.5 765.91 L363.6 764.42 L371.7 763.67 L379.8 764.42 L387.9 763.67 L396 764.42 L404.1 765.16 L412.2 765.91 L420.3 766.65 L428.4 767.4" fill="none" stroke="#111" stroke-width="0.95"/>
<path d="M355.5 767.4 L363.6 766.65 L371.7 765.91 L379.8 766.65 L387.9 765.91 L396 766.65 L404.1 766.65 L412.2 766.65 L420.3 767.4 L428.4 767.4" fill="none" stroke="#111" stroke-width="0.95"/>
<g fill="#FFF5F0" stroke="#000" stroke-width="0.55"><circle cx="274.50" cy="767.40" r="2.25"/><circle cx="282.60" cy="767.40" r="2.25"/><circle cx="290.70" cy="767.40" r="2.25"/><circle cx="298.80" cy="767.40" r="2.25"/><circle cx="306.90" cy="767.40" r="2.25"/><circle cx="315.00" cy="767.40" r="2.25"/><circle cx="323.10" cy="766.65" r="2.25"/><circle cx="331.20" cy="765.16" r="2.25"/><circle cx="339.30" cy="762.92" r="2.25"/><circle cx="347.40" cy="760.69" r="2.25"/><circle cx="355.50" cy="764.42" r="2.25"/><circle cx="363.60" cy="765.16" r="2.25"/><circle cx="371.70" cy="760.69" r="2.25"/><circle cx="379.80" cy="759.94" r="2.25"/><circle cx="387.90" cy="764.42" r="2.25"/><circle cx="396.00" cy="765.16" r="2.25"/><circle cx="404.10" cy="765.91" r="2.25"/><circle cx="412.20" cy="766.65" r="2.25"/><circle cx="420.30" cy="767.40" r="2.25"/><circle cx="428.40" cy="767.40" r="2.25"/></g>
<g fill="#FEE0D2" stroke="#000" stroke-width="0.55"><circle cx="274.50" cy="767.40" r="2.25"/><circle cx="282.60" cy="767.40" r="2.25"/><circle cx="290.70" cy="767.40" r="2.25"/><circle cx="298.80" cy="767.40" r="2.25"/><circle cx="306.90" cy="767.40" r="2.25"/><circle cx="315.00" cy="767.40" r="2.25"/><circle cx="323.10" cy="767.40" r="2.25"/><circle cx="331.20" cy="766.65" r="2.25"/><circle cx="339.30" cy="765.16" r="2.25"/><circle cx="347.40" cy="756.96" r="2.25"/><circle cx="355.50" cy="654.75" r="2.25"/><circle cx="363.60" cy="719.66" r="2.25"/><circle cx="371.70" cy="720.40" r="2.25"/><circle cx="379.80" cy="732.34" r="2.25"/><circle cx="387.90" cy="733.83" r="2.25"/><circle cx="396.00" cy="742.04" r="2.25"/><circle cx="404.10" cy="738.31" r="2.25"/><circle cx="412.20" cy="746.51" r="2.25"/><circle cx="420.30" cy="765.91" r="2.25"/><circle cx="428.40" cy="767.40" r="2.25"/></g>
<g fill="#FCBBA1" stroke="#000" stroke-width="0.55"><circle cx="274.50" cy="767.40" r="2.25"/><circle cx="282.60" cy="767.40" r="2.25"/><circle cx="290.70" cy="767.40" r="2.25"/><circle cx="298.80" cy="767.40" r="2.25"/><circle cx="306.90" cy="767.40" r="2.25"/><circle cx="315.00" cy="767.40" r="2.25"/><circle cx="323.10" cy="765.91" r="2.25"/><circle cx="331.20" cy="765.16" r="2.25"/><circle cx="339.30" cy="760.69" r="2.25"/><circle cx="347.40" cy="763.67" r="2.25"/><circle cx="355.50" cy="765.16" r="2.25"/><circle cx="363.60" cy="762.18" r="2.25"/><circle cx="371.70" cy="761.43" r="2.25"/><circle cx="379.80" cy="759.19" r="2.25"/><circle cx="387.90" cy="759.94" r="2.25"/><circle cx="396.00" cy="762.92" r="2.25"/><circle cx="404.10" cy="764.42" r="2.25"/><circle cx="412.20" cy="765.16" r="2.25"/><circle cx="420.30" cy="766.65" r="2.25"/><circle cx="428.40" cy="767.40" r="2.25"/></g>
<g fill="#FC9272" stroke="#000" stroke-width="0.55"><circle cx="339.30" cy="742.04" r="2.25"/><circle cx="347.40" cy="730.85" r="2.25"/><circle cx="355.50" cy="733.08" r="2.25"/><circle cx="363.60" cy="730.85" r="2.25"/><circle cx="371.70" cy="725.62" r="2.25"/><circle cx="379.80" cy="718.16" r="2.25"/><circle cx="387.90" cy="713.69" r="2.25"/><circle cx="396.00" cy="712.20" r="2.25"/><circle cx="404.10" cy="720.40" r="2.25"/><circle cx="412.20" cy="739.80" r="2.25"/><circle cx="420.30" cy="761.43" r="2.25"/><circle cx="428.40" cy="766.65" r="2.25"/></g>
<g fill="#FB6A4A" stroke="#000" stroke-width="0.55"><circle cx="274.50" cy="766.65" r="2.25"/><circle cx="282.60" cy="766.65" r="2.25"/><circle cx="290.70" cy="766.65" r="2.25"/><circle cx="298.80" cy="766.65" r="2.25"/><circle cx="306.90" cy="766.65" r="2.25"/><circle cx="315.00" cy="766.65" r="2.25"/><circle cx="323.10" cy="765.91" r="2.25"/><circle cx="331.20" cy="765.16" r="2.25"/><circle cx="339.30" cy="764.42" r="2.25"/><circle cx="347.40" cy="763.67" r="2.25"/><circle cx="355.50" cy="749.50" r="2.25"/><circle cx="363.60" cy="723.39" r="2.25"/><circle cx="371.70" cy="759.19" r="2.25"/><circle cx="379.80" cy="758.45" r="2.25"/><circle cx="387.90" cy="757.70" r="2.25"/><circle cx="396.00" cy="739.80" r="2.25"/><circle cx="404.10" cy="740.54" r="2.25"/><circle cx="412.20" cy="750.99" r="2.25"/><circle cx="420.30" cy="760.69" r="2.25"/><circle cx="428.40" cy="766.65" r="2.25"/></g>
<g fill="#EF3B2C" stroke="#000" stroke-width="0.55"><circle cx="339.30" cy="765.91" r="2.25"/><circle cx="347.40" cy="765.16" r="2.25"/><circle cx="355.50" cy="752.48" r="2.25"/><circle cx="363.60" cy="762.92" r="2.25"/><circle cx="371.70" cy="762.92" r="2.25"/><circle cx="379.80" cy="761.43" r="2.25"/><circle cx="387.90" cy="762.18" r="2.25"/><circle cx="396.00" cy="762.92" r="2.25"/><circle cx="404.10" cy="763.67" r="2.25"/><circle cx="412.20" cy="764.42" r="2.25"/><circle cx="420.30" cy="765.91" r="2.25"/><circle cx="428.40" cy="766.65" r="2.25"/></g>
<g fill="#CD1F20" stroke="#000" stroke-width="0.55"><circle cx="347.40" cy="766.65" r="2.25"/><circle cx="355.50" cy="765.91" r="2.25"/><circle cx="363.60" cy="764.42" r="2.25"/><circle cx="371.70" cy="763.67" r="2.25"/><circle cx="379.80" cy="764.42" r="2.25"/><circle cx="387.90" cy="763.67" r="2.25"/><circle cx="396.00" cy="764.42" r="2.25"/><circle cx="404.10" cy="765.16" r="2.25"/><circle cx="412.20" cy="765.91" r="2.25"/><circle cx="420.30" cy="766.65" r="2.25"/><circle cx="428.40" cy="767.40" r="2.25"/></g>
<g fill="#A3150F" stroke="#000" stroke-width="0.55"><circle cx="355.50" cy="767.40" r="2.25"/><circle cx="363.60" cy="766.65" r="2.25"/><circle cx="371.70" cy="765.91" r="2.25"/><circle cx="379.80" cy="766.65" r="2.25"/><circle cx="387.90" cy="765.91" r="2.25"/><circle cx="396.00" cy="766.65" r="2.25"/><circle cx="404.10" cy="766.65" r="2.25"/><circle cx="412.20" cy="766.65" r="2.25"/><circle cx="420.30" cy="767.40" r="2.25"/><circle cx="428.40" cy="767.40" r="2.25"/></g>
<rect x="266.6" y="635.3" width="170" height="137.9" fill="none" stroke="#333" stroke-width="0.7" />
<line x1="264.4" y1="767.4" x2="266.6" y2="767.4" stroke="#333" stroke-width="0.6" />
<text x="263.3" y="770.2" font-size="8.1" fill="#4D4D4D" text-anchor="end" >0</text>
<line x1="264.4" y1="730.1" x2="266.6" y2="730.1" stroke="#333" stroke-width="0.6" />
<text x="263.3" y="732.9" font-size="8.1" fill="#4D4D4D" text-anchor="end" >5</text>
<line x1="264.4" y1="692.8" x2="266.6" y2="692.8" stroke="#333" stroke-width="0.6" />
<text x="263.3" y="695.6" font-size="8.1" fill="#4D4D4D" text-anchor="end" >10</text>
<line x1="264.4" y1="655.5" x2="266.6" y2="655.5" stroke="#333" stroke-width="0.6" />
<text x="263.3" y="658.3" font-size="8.1" fill="#4D4D4D" text-anchor="end" >15</text>
<rect x="270" y="638.4" width="77.5" height="37.1" fill="#fff" stroke="#000" stroke-width="0.8" />
<text x="276.3" y="648.6" font-size="7.2" >GTC high</text>
<circle cx="277.9" cy="656.3" r="1.6" fill="#FFF5F0" stroke="#000" stroke-width="0.5" />
<text x="282.9" y="658.5" font-size="6" fill="#4D4D4D" >1</text>
<circle cx="296.3" cy="656.3" r="1.6" fill="#FCBBA1" stroke="#000" stroke-width="0.5" />
<text x="301.3" y="658.5" font-size="6" fill="#4D4D4D" >3</text>
<circle cx="314.4" cy="656.3" r="1.6" fill="#FB6A4A" stroke="#000" stroke-width="0.5" />
<text x="319.4" y="658.5" font-size="6" fill="#4D4D4D" >5</text>
<circle cx="332.8" cy="656.3" r="1.6" fill="#CD1F20" stroke="#000" stroke-width="0.5" />
<text x="337.8" y="658.5" font-size="6" fill="#4D4D4D" >7</text>
<circle cx="277.9" cy="668.1" r="1.6" fill="#FEE0D2" stroke="#000" stroke-width="0.5" />
<text x="282.9" y="670.3" font-size="6" fill="#4D4D4D" >2</text>
<circle cx="296.3" cy="668.1" r="1.6" fill="#FC9272" stroke="#000" stroke-width="0.5" />
<text x="301.3" y="670.3" font-size="6" fill="#4D4D4D" >4</text>
<circle cx="314.4" cy="668.1" r="1.6" fill="#EF3B2C" stroke="#000" stroke-width="0.5" />
<text x="319.4" y="670.3" font-size="6" fill="#4D4D4D" >6</text>
<circle cx="332.8" cy="668.1" r="1.6" fill="#A3150F" stroke="#000" stroke-width="0.5" />
<text x="337.8" y="670.3" font-size="6" fill="#4D4D4D" >8</text>
<rect x="490.3" y="634.7" width="169.4" height="138.5" fill="#fff" />
<g stroke="#EBEBEB" stroke-width="0.6"><line x1="490.3" y1="767.40" x2="659.7" y2="767.40"/><line x1="490.3" y1="754.50" x2="659.7" y2="754.50"/><line x1="490.3" y1="741.60" x2="659.7" y2="741.60"/><line x1="490.3" y1="728.70" x2="659.7" y2="728.70"/><line x1="490.3" y1="715.80" x2="659.7" y2="715.80"/><line x1="490.3" y1="702.90" x2="659.7" y2="702.90"/><line x1="490.3" y1="690.00" x2="659.7" y2="690.00"/><line x1="490.3" y1="677.10" x2="659.7" y2="677.10"/><line x1="490.3" y1="664.20" x2="659.7" y2="664.20"/><line x1="490.3" y1="651.30" x2="659.7" y2="651.30"/><line x1="490.3" y1="638.40" x2="659.7" y2="638.40"/><line x1="509.50" y1="634.7" x2="509.50" y2="773.2"/><line x1="529.82" y1="634.7" x2="529.82" y2="773.2"/><line x1="550.14" y1="634.7" x2="550.14" y2="773.2"/><line x1="570.47" y1="634.7" x2="570.47" y2="773.2"/><line x1="590.80" y1="634.7" x2="590.80" y2="773.2"/><line x1="611.12" y1="634.7" x2="611.12" y2="773.2"/><line x1="631.45" y1="634.7" x2="631.45" y2="773.2"/><line x1="651.77" y1="634.7" x2="651.77" y2="773.2"/></g>
<path d="M497.3 752.18 L505.43 748.82 L513.56 721.99 L521.69 713.48 L529.82 696.97 L537.95 695.16 L546.08 701.35 L554.21 704.96 L562.34 695.68 L570.47 691.81 L578.6 687.42 L586.73 681.74 L594.86 676.84 L602.99 680.45 L611.12 685.1 L619.25 690 L627.38 699.55" fill="none" stroke="#111" stroke-width="0.95"/>
<path d="M497.3 762.76 L505.43 737.73 L513.56 730.25 L521.69 730.25 L529.82 729.22 L537.95 727.67 L546.08 728.44 L554.21 728.44 L562.34 721.48 L570.47 718.12 L578.6 716.57 L586.73 716.57 L594.86 714.51 L602.99 713.48 L611.12 711.93 L619.25 713.48 L627.38 711.93 L635.51 709.35 L643.64 707.54" fill="none" stroke="#111" stroke-width="0.95"/>
<path d="M497.3 763.53 L505.43 752.18 L513.56 747.79 L521.69 747.02 L529.82 745.47 L537.95 744.18 L546.08 741.6 L554.21 738.25 L562.34 731.02 L570.47 721.99 L578.6 721.48 L586.73 706.77 L594.86 698.77 L602.99 701.35 L611.12 704.19 L619.25 711.41 L627.38 733.34" fill="none" stroke="#111" stroke-width="0.95"/>
<path d="M497.3 759.92 L505.43 756.05 L513.56 750.89 L521.69 746.24 L529.82 747.02 L537.95 742.89 L546.08 734.38 L554.21 712.7 L562.34 702.13 L570.47 692.58 L578.6 698.77 L586.73 689.23 L594.86 695.68 L602.99 696.19 L611.12 691.81 L619.25 693.61 L627.38 683.29 L635.51 676.84" fill="none" stroke="#111" stroke-width="0.95"/>
<path d="M497.3 760.95 L505.43 755.53 L513.56 749.86 L521.69 746.76 L529.82 745.99 L537.95 742.12 L546.08 737.47 L554.21 714.51 L562.34 694.39 L570.47 682 L578.6 679.42 L586.73 666.26 L594.86 667.55 L602.99 673.75 L611.12 671.94 L619.25 656.98 L627.38 640.98 L635.51 655.43 L643.64 678.13" fill="none" stroke="#111" stroke-width="0.95"/>
<path d="M554.21 767.4 L562.34 684.58 L570.47 700.32 L578.6 714.51 L586.73 720.7 L594.86 723.28 L602.99 723.28 L611.12 721.48 L619.25 715.28 L627.38 714.51 L635.51 706.25 L643.64 697.74" fill="none" stroke="#111" stroke-width="0.95"/>
<path d="M586.73 729.22 L594.86 731.02 L602.99 727.67 L611.12 727.67 L619.25 728.44 L627.38 729.73 L635.51 734.63 L643.64 730.25 L651.77 740.31" fill="none" stroke="#111" stroke-width="0.95"/>
<path d="M578.6 755.53 L586.73 758.11 L594.86 749.6 L602.99 749.6 L611.12 752.95 L619.25 752.95 L627.38 752.95 L635.51 753.98 L643.64 752.18 L651.77 751.4" fill="none" stroke="#111" stroke-width="0.95"/>
<g fill="#FFF5F0" stroke="#000" stroke-width="0.55"><circle cx="497.30" cy="752.18" r="2.25"/><circle cx="505.43" cy="748.82" r="2.25"/><circle cx="513.56" cy="721.99" r="2.25"/><circle cx="521.69" cy="713.48" r="2.25"/><circle cx="529.82" cy="696.97" r="2.25"/><circle cx="537.95" cy="695.16" r="2.25"/><circle cx="546.08" cy="701.35" r="2.25"/><circle cx="554.21" cy="704.96" r="2.25"/><circle cx="562.34" cy="695.68" r="2.25"/><circle cx="570.47" cy="691.81" r="2.25"/><circle cx="578.60" cy="687.42" r="2.25"/><circle cx="586.73" cy="681.74" r="2.25"/><circle cx="594.86" cy="676.84" r="2.25"/><circle cx="602.99" cy="680.45" r="2.25"/><circle cx="611.12" cy="685.10" r="2.25"/><circle cx="619.25" cy="690.00" r="2.25"/><circle cx="627.38" cy="699.55" r="2.25"/></g>
<g fill="#FEE0D2" stroke="#000" stroke-width="0.55"><circle cx="497.30" cy="762.76" r="2.25"/><circle cx="505.43" cy="737.73" r="2.25"/><circle cx="513.56" cy="730.25" r="2.25"/><circle cx="521.69" cy="730.25" r="2.25"/><circle cx="529.82" cy="729.22" r="2.25"/><circle cx="537.95" cy="727.67" r="2.25"/><circle cx="546.08" cy="728.44" r="2.25"/><circle cx="554.21" cy="728.44" r="2.25"/><circle cx="562.34" cy="721.48" r="2.25"/><circle cx="570.47" cy="718.12" r="2.25"/><circle cx="578.60" cy="716.57" r="2.25"/><circle cx="586.73" cy="716.57" r="2.25"/><circle cx="594.86" cy="714.51" r="2.25"/><circle cx="602.99" cy="713.48" r="2.25"/><circle cx="611.12" cy="711.93" r="2.25"/><circle cx="619.25" cy="713.48" r="2.25"/><circle cx="627.38" cy="711.93" r="2.25"/><circle cx="635.51" cy="709.35" r="2.25"/><circle cx="643.64" cy="707.54" r="2.25"/></g>
<g fill="#FCBBA1" stroke="#000" stroke-width="0.55"><circle cx="497.30" cy="763.53" r="2.25"/><circle cx="505.43" cy="752.18" r="2.25"/><circle cx="513.56" cy="747.79" r="2.25"/><circle cx="521.69" cy="747.02" r="2.25"/><circle cx="529.82" cy="745.47" r="2.25"/><circle cx="537.95" cy="744.18" r="2.25"/><circle cx="546.08" cy="741.60" r="2.25"/><circle cx="554.21" cy="738.25" r="2.25"/><circle cx="562.34" cy="731.02" r="2.25"/><circle cx="570.47" cy="721.99" r="2.25"/><circle cx="578.60" cy="721.48" r="2.25"/><circle cx="586.73" cy="706.77" r="2.25"/><circle cx="594.86" cy="698.77" r="2.25"/><circle cx="602.99" cy="701.35" r="2.25"/><circle cx="611.12" cy="704.19" r="2.25"/><circle cx="619.25" cy="711.41" r="2.25"/><circle cx="627.38" cy="733.34" r="2.25"/></g>
<g fill="#FC9272" stroke="#000" stroke-width="0.55"><circle cx="497.30" cy="759.92" r="2.25"/><circle cx="505.43" cy="756.05" r="2.25"/><circle cx="513.56" cy="750.89" r="2.25"/><circle cx="521.69" cy="746.24" r="2.25"/><circle cx="529.82" cy="747.02" r="2.25"/><circle cx="537.95" cy="742.89" r="2.25"/><circle cx="546.08" cy="734.38" r="2.25"/><circle cx="554.21" cy="712.70" r="2.25"/><circle cx="562.34" cy="702.13" r="2.25"/><circle cx="570.47" cy="692.58" r="2.25"/><circle cx="578.60" cy="698.77" r="2.25"/><circle cx="586.73" cy="689.23" r="2.25"/><circle cx="594.86" cy="695.68" r="2.25"/><circle cx="602.99" cy="696.19" r="2.25"/><circle cx="611.12" cy="691.81" r="2.25"/><circle cx="619.25" cy="693.61" r="2.25"/><circle cx="627.38" cy="683.29" r="2.25"/><circle cx="635.51" cy="676.84" r="2.25"/></g>
<g fill="#FB6A4A" stroke="#000" stroke-width="0.55"><circle cx="497.30" cy="760.95" r="2.25"/><circle cx="505.43" cy="755.53" r="2.25"/><circle cx="513.56" cy="749.86" r="2.25"/><circle cx="521.69" cy="746.76" r="2.25"/><circle cx="529.82" cy="745.99" r="2.25"/><circle cx="537.95" cy="742.12" r="2.25"/><circle cx="546.08" cy="737.47" r="2.25"/><circle cx="554.21" cy="714.51" r="2.25"/><circle cx="562.34" cy="694.39" r="2.25"/><circle cx="570.47" cy="682.00" r="2.25"/><circle cx="578.60" cy="679.42" r="2.25"/><circle cx="586.73" cy="666.26" r="2.25"/><circle cx="594.86" cy="667.55" r="2.25"/><circle cx="602.99" cy="673.75" r="2.25"/><circle cx="611.12" cy="671.94" r="2.25"/><circle cx="619.25" cy="656.98" r="2.25"/><circle cx="627.38" cy="640.98" r="2.25"/><circle cx="635.51" cy="655.43" r="2.25"/><circle cx="643.64" cy="678.13" r="2.25"/></g>
<g fill="#EF3B2C" stroke="#000" stroke-width="0.55"><circle cx="554.21" cy="767.40" r="2.25"/><circle cx="562.34" cy="684.58" r="2.25"/><circle cx="570.47" cy="700.32" r="2.25"/><circle cx="578.60" cy="714.51" r="2.25"/><circle cx="586.73" cy="720.70" r="2.25"/><circle cx="594.86" cy="723.28" r="2.25"/><circle cx="602.99" cy="723.28" r="2.25"/><circle cx="611.12" cy="721.48" r="2.25"/><circle cx="619.25" cy="715.28" r="2.25"/><circle cx="627.38" cy="714.51" r="2.25"/><circle cx="635.51" cy="706.25" r="2.25"/><circle cx="643.64" cy="697.74" r="2.25"/></g>
<g fill="#CD1F20" stroke="#000" stroke-width="0.55"><circle cx="586.73" cy="729.22" r="2.25"/><circle cx="594.86" cy="731.02" r="2.25"/><circle cx="602.99" cy="727.67" r="2.25"/><circle cx="611.12" cy="727.67" r="2.25"/><circle cx="619.25" cy="728.44" r="2.25"/><circle cx="627.38" cy="729.73" r="2.25"/><circle cx="635.51" cy="734.63" r="2.25"/><circle cx="643.64" cy="730.25" r="2.25"/><circle cx="651.77" cy="740.31" r="2.25"/></g>
<g fill="#A3150F" stroke="#000" stroke-width="0.55"><circle cx="578.60" cy="755.53" r="2.25"/><circle cx="586.73" cy="758.11" r="2.25"/><circle cx="594.86" cy="749.60" r="2.25"/><circle cx="602.99" cy="749.60" r="2.25"/><circle cx="611.12" cy="752.95" r="2.25"/><circle cx="619.25" cy="752.95" r="2.25"/><circle cx="627.38" cy="752.95" r="2.25"/><circle cx="635.51" cy="753.98" r="2.25"/><circle cx="643.64" cy="752.18" r="2.25"/><circle cx="651.77" cy="751.40" r="2.25"/></g>
<rect x="490.3" y="634.7" width="169.4" height="138.5" fill="none" stroke="#333" stroke-width="0.7" />
<line x1="488.1" y1="767.4" x2="490.3" y2="767.4" stroke="#333" stroke-width="0.6" />
<text x="487" y="770.2" font-size="8.1" fill="#4D4D4D" text-anchor="end" >0</text>
<line x1="488.1" y1="741.6" x2="490.3" y2="741.6" stroke="#333" stroke-width="0.6" />
<text x="487" y="744.4" font-size="8.1" fill="#4D4D4D" text-anchor="end" >10</text>
<line x1="488.1" y1="715.8" x2="490.3" y2="715.8" stroke="#333" stroke-width="0.6" />
<text x="487" y="718.6" font-size="8.1" fill="#4D4D4D" text-anchor="end" >20</text>
<line x1="488.1" y1="690" x2="490.3" y2="690" stroke="#333" stroke-width="0.6" />
<text x="487" y="692.8" font-size="8.1" fill="#4D4D4D" text-anchor="end" >30</text>
<line x1="488.1" y1="664.2" x2="490.3" y2="664.2" stroke="#333" stroke-width="0.6" />
<text x="487" y="667" font-size="8.1" fill="#4D4D4D" text-anchor="end" >40</text>
<line x1="488.1" y1="638.4" x2="490.3" y2="638.4" stroke="#333" stroke-width="0.6" />
<text x="487" y="641.2" font-size="8.1" fill="#4D4D4D" text-anchor="end" >50</text>
<text x="230.6" y="704.6" font-size="9.9" text-anchor="middle" transform="rotate(-90 230.6 704.6)" >T cell fraction</text>
<text x="453.2" y="704.3" font-size="9.9" text-anchor="middle" transform="rotate(-90 453.2 704.3)" >TAM fraction</text>
<rect x="266.6" y="778.2" width="170" height="138.7" fill="#fff" />
<g stroke="#EBEBEB" stroke-width="0.6"><line x1="266.6" y1="910.80" x2="436.6" y2="910.80"/><line x1="266.6" y1="892.17" x2="436.6" y2="892.17"/><line x1="266.6" y1="873.55" x2="436.6" y2="873.55"/><line x1="266.6" y1="854.92" x2="436.6" y2="854.92"/><line x1="266.6" y1="836.30" x2="436.6" y2="836.30"/><line x1="266.6" y1="817.67" x2="436.6" y2="817.67"/><line x1="266.6" y1="799.05" x2="436.6" y2="799.05"/><line x1="266.6" y1="780.42" x2="436.6" y2="780.42"/><line x1="287.32" y1="778.2" x2="287.32" y2="916.9"/><line x1="308.70" y1="778.2" x2="308.70" y2="916.9"/><line x1="330.07" y1="778.2" x2="330.07" y2="916.9"/><line x1="351.45" y1="778.2" x2="351.45" y2="916.9"/><line x1="372.82" y1="778.2" x2="372.82" y2="916.9"/><line x1="394.20" y1="778.2" x2="394.20" y2="916.9"/><line x1="415.58" y1="778.2" x2="415.58" y2="916.9"/></g>
<path d="M274.5 910.8 L283.05 910.8 L291.6 910.8 L300.15 910.8 L308.7 910.8 L317.25 910.8 L325.8 910.8 L334.35 910.8 L342.9 910.8 L351.45 910.8 L360 910.8 L368.55 910.8 L377.1 910.8 L385.65 910.8 L394.2 910.05 L402.75 910.8 L411.3 910.8 L419.85 910.8 L428.4 910.8" fill="none" stroke="#111" stroke-width="0.95"/>
<path d="M274.5 910.8 L283.05 910.8 L291.6 910.8 L300.15 910.8 L308.7 910.8 L317.25 910.8 L325.8 910.8 L334.35 910.8 L342.9 910.8 L351.45 910.8 L360 910.05 L368.55 910.05 L377.1 910.05 L385.65 909.31 L394.2 908.56 L402.75 910.05 L411.3 910.8 L419.85 910.05 L428.4 910.05" fill="none" stroke="#111" stroke-width="0.95"/>
<path d="M334.35 910.8 L342.9 910.05 L351.45 910.8 L360 910.05 L368.55 910.05 L377.1 909.31 L385.65 904.84 L394.2 899.62 L402.75 910.05 L411.3 910.8 L419.85 910.05 L428.4 910.05" fill="none" stroke="#111" stroke-width="0.95"/>
<path d="M274.5 910.8 L283.05 910.8 L291.6 910.8 L300.15 910.8 L308.7 910.8 L317.25 910.8 L325.8 910.05 L334.35 910.05 L342.9 908.56 L351.45 910.05 L360 904.84 L368.55 910.05 L377.1 910.05 L385.65 910.05 L394.2 908.56 L402.75 910.05 L411.3 910.8 L419.85 910.8 L428.4 910.8" fill="none" stroke="#111" stroke-width="0.95"/>
<path d="M274.5 910.8 L283.05 910.8 L291.6 910.8 L300.15 910.8 L308.7 910.8 L317.25 910.05 L325.8 910.05 L334.35 910.05 L342.9 910.05 L351.45 910.05" fill="none" stroke="#111" stroke-width="0.95"/>
<path d="M274.5 910.8 L283.05 910.8 L291.6 910.8 L300.15 910.8 L308.7 910.8 L317.25 910.8 L325.8 910.8 L334.35 910.8 L342.9 910.8" fill="none" stroke="#111" stroke-width="0.95"/>
<g fill="#EFF3FF" stroke="#000" stroke-width="0.55"><circle cx="274.50" cy="910.80" r="2.25"/><circle cx="283.05" cy="910.80" r="2.25"/><circle cx="291.60" cy="910.80" r="2.25"/><circle cx="300.15" cy="910.80" r="2.25"/><circle cx="308.70" cy="910.80" r="2.25"/><circle cx="317.25" cy="910.80" r="2.25"/><circle cx="325.80" cy="910.80" r="2.25"/><circle cx="334.35" cy="910.80" r="2.25"/><circle cx="342.90" cy="910.80" r="2.25"/><circle cx="351.45" cy="910.80" r="2.25"/><circle cx="360.00" cy="910.80" r="2.25"/><circle cx="368.55" cy="910.80" r="2.25"/><circle cx="377.10" cy="910.80" r="2.25"/><circle cx="385.65" cy="910.80" r="2.25"/><circle cx="394.20" cy="910.05" r="2.25"/><circle cx="402.75" cy="910.80" r="2.25"/><circle cx="411.30" cy="910.80" r="2.25"/><circle cx="419.85" cy="910.80" r="2.25"/><circle cx="428.40" cy="910.80" r="2.25"/></g>
<g fill="#C6DBEF" stroke="#000" stroke-width="0.55"><circle cx="274.50" cy="910.80" r="2.25"/><circle cx="283.05" cy="910.80" r="2.25"/><circle cx="291.60" cy="910.80" r="2.25"/><circle cx="300.15" cy="910.80" r="2.25"/><circle cx="308.70" cy="910.80" r="2.25"/><circle cx="317.25" cy="910.80" r="2.25"/><circle cx="325.80" cy="910.80" r="2.25"/><circle cx="334.35" cy="910.80" r="2.25"/><circle cx="342.90" cy="910.80" r="2.25"/><circle cx="351.45" cy="910.80" r="2.25"/><circle cx="360.00" cy="910.05" r="2.25"/><circle cx="368.55" cy="910.05" r="2.25"/><circle cx="377.10" cy="910.05" r="2.25"/><circle cx="385.65" cy="909.31" r="2.25"/><circle cx="394.20" cy="908.56" r="2.25"/><circle cx="402.75" cy="910.05" r="2.25"/><circle cx="411.30" cy="910.80" r="2.25"/><circle cx="419.85" cy="910.05" r="2.25"/><circle cx="428.40" cy="910.05" r="2.25"/></g>
<g fill="#9ECAE1" stroke="#000" stroke-width="0.55"><circle cx="334.35" cy="910.80" r="2.25"/><circle cx="342.90" cy="910.05" r="2.25"/><circle cx="351.45" cy="910.80" r="2.25"/><circle cx="360.00" cy="910.05" r="2.25"/><circle cx="368.55" cy="910.05" r="2.25"/><circle cx="377.10" cy="909.31" r="2.25"/><circle cx="385.65" cy="904.84" r="2.25"/><circle cx="394.20" cy="899.62" r="2.25"/><circle cx="402.75" cy="910.05" r="2.25"/><circle cx="411.30" cy="910.80" r="2.25"/><circle cx="419.85" cy="910.05" r="2.25"/><circle cx="428.40" cy="910.05" r="2.25"/></g>
<g fill="#6BAED6" stroke="#000" stroke-width="0.55"><circle cx="274.50" cy="910.80" r="2.25"/><circle cx="283.05" cy="910.80" r="2.25"/><circle cx="291.60" cy="910.80" r="2.25"/><circle cx="300.15" cy="910.80" r="2.25"/><circle cx="308.70" cy="910.80" r="2.25"/><circle cx="317.25" cy="910.80" r="2.25"/><circle cx="325.80" cy="910.05" r="2.25"/><circle cx="334.35" cy="910.05" r="2.25"/><circle cx="342.90" cy="908.56" r="2.25"/><circle cx="351.45" cy="910.05" r="2.25"/><circle cx="360.00" cy="904.84" r="2.25"/><circle cx="368.55" cy="910.05" r="2.25"/><circle cx="377.10" cy="910.05" r="2.25"/><circle cx="385.65" cy="910.05" r="2.25"/><circle cx="394.20" cy="908.56" r="2.25"/><circle cx="402.75" cy="910.05" r="2.25"/><circle cx="411.30" cy="910.80" r="2.25"/><circle cx="419.85" cy="910.80" r="2.25"/><circle cx="428.40" cy="910.80" r="2.25"/></g>
<g fill="#3182BD" stroke="#000" stroke-width="0.55"><circle cx="274.50" cy="910.80" r="2.25"/><circle cx="283.05" cy="910.80" r="2.25"/><circle cx="291.60" cy="910.80" r="2.25"/><circle cx="300.15" cy="910.80" r="2.25"/><circle cx="308.70" cy="910.80" r="2.25"/><circle cx="317.25" cy="910.05" r="2.25"/><circle cx="325.80" cy="910.05" r="2.25"/><circle cx="334.35" cy="910.05" r="2.25"/><circle cx="342.90" cy="910.05" r="2.25"/><circle cx="351.45" cy="910.05" r="2.25"/></g>
<g fill="#08519C" stroke="#000" stroke-width="0.55"><circle cx="274.50" cy="910.80" r="2.25"/><circle cx="283.05" cy="910.80" r="2.25"/><circle cx="291.60" cy="910.80" r="2.25"/><circle cx="300.15" cy="910.80" r="2.25"/><circle cx="308.70" cy="910.80" r="2.25"/><circle cx="317.25" cy="910.80" r="2.25"/><circle cx="325.80" cy="910.80" r="2.25"/><circle cx="334.35" cy="910.80" r="2.25"/><circle cx="342.90" cy="910.80" r="2.25"/></g>
<rect x="266.6" y="778.2" width="170" height="138.7" fill="none" stroke="#333" stroke-width="0.7" />
<line x1="264.4" y1="910.8" x2="266.6" y2="910.8" stroke="#333" stroke-width="0.6" />
<text x="263.3" y="913.6" font-size="8.1" fill="#4D4D4D" text-anchor="end" >0</text>
<line x1="264.4" y1="873.55" x2="266.6" y2="873.55" stroke="#333" stroke-width="0.6" />
<text x="263.3" y="876.35" font-size="8.1" fill="#4D4D4D" text-anchor="end" >5</text>
<line x1="264.4" y1="836.3" x2="266.6" y2="836.3" stroke="#333" stroke-width="0.6" />
<text x="263.3" y="839.1" font-size="8.1" fill="#4D4D4D" text-anchor="end" >10</text>
<line x1="264.4" y1="799.05" x2="266.6" y2="799.05" stroke="#333" stroke-width="0.6" />
<text x="263.3" y="801.85" font-size="8.1" fill="#4D4D4D" text-anchor="end" >15</text>
<line x1="308.7" y1="916.9" x2="308.7" y2="918.9" stroke="#333" stroke-width="0.5" />
<text x="308.7" y="928" font-size="8.1" fill="#4D4D4D" text-anchor="middle" >5</text>
<line x1="351.45" y1="916.9" x2="351.45" y2="918.9" stroke="#333" stroke-width="0.5" />
<text x="351.45" y="928" font-size="8.1" fill="#4D4D4D" text-anchor="middle" >10</text>
<line x1="394.2" y1="916.9" x2="394.2" y2="918.9" stroke="#333" stroke-width="0.5" />
<text x="394.2" y="928" font-size="8.1" fill="#4D4D4D" text-anchor="middle" >15</text>
<rect x="270" y="781.6" width="77.5" height="36.8" fill="#fff" stroke="#000" stroke-width="0.8" />
<text x="276.3" y="791.8" font-size="7.2" >GTC low</text>
<circle cx="277.9" cy="799.4" r="1.6" fill="#EFF3FF" stroke="#000" stroke-width="0.5" />
<text x="282.9" y="801.6" font-size="6" fill="#4D4D4D" >9</text>
<circle cx="303.9" cy="799.4" r="1.6" fill="#9ECAE1" stroke="#000" stroke-width="0.5" />
<text x="308.9" y="801.6" font-size="6" fill="#4D4D4D" >11</text>
<circle cx="329.6" cy="799.4" r="1.6" fill="#3182BD" stroke="#000" stroke-width="0.5" />
<text x="334.6" y="801.6" font-size="6" fill="#4D4D4D" >13</text>
<circle cx="277.9" cy="810.5" r="1.6" fill="#C6DBEF" stroke="#000" stroke-width="0.5" />
<text x="282.9" y="812.7" font-size="6" fill="#4D4D4D" >10</text>
<circle cx="303.9" cy="810.5" r="1.6" fill="#6BAED6" stroke="#000" stroke-width="0.5" />
<text x="308.9" y="812.7" font-size="6" fill="#4D4D4D" >12</text>
<circle cx="329.6" cy="810.5" r="1.6" fill="#08519C" stroke="#000" stroke-width="0.5" />
<text x="334.6" y="812.7" font-size="6" fill="#4D4D4D" >14</text>
<rect x="490.3" y="778.2" width="169.4" height="138.7" fill="#fff" />
<g stroke="#EBEBEB" stroke-width="0.6"><line x1="490.3" y1="910.30" x2="659.7" y2="910.30"/><line x1="490.3" y1="887.45" x2="659.7" y2="887.45"/><line x1="490.3" y1="864.60" x2="659.7" y2="864.60"/><line x1="490.3" y1="841.75" x2="659.7" y2="841.75"/><line x1="490.3" y1="818.90" x2="659.7" y2="818.90"/><line x1="490.3" y1="796.05" x2="659.7" y2="796.05"/><line x1="510.17" y1="778.2" x2="510.17" y2="916.9"/><line x1="531.62" y1="778.2" x2="531.62" y2="916.9"/><line x1="553.07" y1="778.2" x2="553.07" y2="916.9"/><line x1="574.52" y1="778.2" x2="574.52" y2="916.9"/><line x1="595.97" y1="778.2" x2="595.97" y2="916.9"/><line x1="617.42" y1="778.2" x2="617.42" y2="916.9"/><line x1="638.87" y1="778.2" x2="638.87" y2="916.9"/></g>
<path d="M505.88 859.57 L514.46 887.22 L523.04 895.9 L531.62 895.22 L540.2 894.3 L548.78 893.85 L557.36 893.16 L565.94 892.02 L574.52 897.96" fill="none" stroke="#111" stroke-width="0.95"/>
<path d="M497.3 895.22 L505.88 895.9 L514.46 893.85 L523.04 892.71 L531.62 892.71 L540.2 893.85 L548.78 895.22 L557.36 892.02 L565.94 889.96 L574.52 893.16 L583.1 889.28 L591.68 891.11 L600.26 910.3" fill="none" stroke="#111" stroke-width="0.95"/>
<path d="M497.3 908.93 L505.88 909.84 L514.46 907.1 L523.04 906.42 L531.62 907.79 L540.2 908.47 L548.78 908.93 L557.36 906.87 L565.94 905.73 L574.52 905.04 L583.1 905.04 L591.68 905.04 L600.26 903.22 L608.84 905.5 L617.42 903.67 L626 899.1 L634.58 903.67 L643.16 904.13 L651.74 903.67" fill="none" stroke="#111" stroke-width="0.95"/>
<path d="M497.3 902.53 L505.88 897.96 L514.46 893.39 L523.04 892.71 L531.62 893.39 L540.2 894.53 L548.78 892.48 L557.36 891.56 L565.94 890.88 L574.52 886.76" fill="none" stroke="#111" stroke-width="0.95"/>
<path d="M497.3 902.99 L505.88 899.1 L514.46 901.16 L523.04 902.53 L531.62 902.53 L540.2 903.67 L548.78 904.59 L557.36 908.24" fill="none" stroke="#111" stroke-width="0.95"/>
<path d="M514.46 903.67 L523.04 904.36 L531.62 903.9 L540.2 904.36 L548.78 904.82 L557.36 903.9 L565.94 901.85" fill="none" stroke="#111" stroke-width="0.95"/>
<g fill="#C6DBEF" stroke="#000" stroke-width="0.55"><circle cx="505.88" cy="859.57" r="2.25"/><circle cx="514.46" cy="887.22" r="2.25"/><circle cx="523.04" cy="895.90" r="2.25"/><circle cx="531.62" cy="895.22" r="2.25"/><circle cx="540.20" cy="894.30" r="2.25"/><circle cx="548.78" cy="893.85" r="2.25"/><circle cx="557.36" cy="893.16" r="2.25"/><circle cx="565.94" cy="892.02" r="2.25"/><circle cx="574.52" cy="897.96" r="2.25"/></g>
<g fill="#9ECAE1" stroke="#000" stroke-width="0.55"><circle cx="497.30" cy="895.22" r="2.25"/><circle cx="505.88" cy="895.90" r="2.25"/><circle cx="514.46" cy="893.85" r="2.25"/><circle cx="523.04" cy="892.71" r="2.25"/><circle cx="531.62" cy="892.71" r="2.25"/><circle cx="540.20" cy="893.85" r="2.25"/><circle cx="548.78" cy="895.22" r="2.25"/><circle cx="557.36" cy="892.02" r="2.25"/><circle cx="565.94" cy="889.96" r="2.25"/><circle cx="574.52" cy="893.16" r="2.25"/><circle cx="583.10" cy="889.28" r="2.25"/><circle cx="591.68" cy="891.11" r="2.25"/><circle cx="600.26" cy="910.30" r="2.25"/></g>
<g fill="#6BAED6" stroke="#000" stroke-width="0.55"><circle cx="497.30" cy="908.93" r="2.25"/><circle cx="505.88" cy="909.84" r="2.25"/><circle cx="514.46" cy="907.10" r="2.25"/><circle cx="523.04" cy="906.42" r="2.25"/><circle cx="531.62" cy="907.79" r="2.25"/><circle cx="540.20" cy="908.47" r="2.25"/><circle cx="548.78" cy="908.93" r="2.25"/><circle cx="557.36" cy="906.87" r="2.25"/><circle cx="565.94" cy="905.73" r="2.25"/><circle cx="574.52" cy="905.04" r="2.25"/><circle cx="583.10" cy="905.04" r="2.25"/><circle cx="591.68" cy="905.04" r="2.25"/><circle cx="600.26" cy="903.22" r="2.25"/><circle cx="608.84" cy="905.50" r="2.25"/><circle cx="617.42" cy="903.67" r="2.25"/><circle cx="626.00" cy="899.10" r="2.25"/><circle cx="634.58" cy="903.67" r="2.25"/><circle cx="643.16" cy="904.13" r="2.25"/><circle cx="651.74" cy="903.67" r="2.25"/></g>
<g fill="#3182BD" stroke="#000" stroke-width="0.55"><circle cx="497.30" cy="902.53" r="2.25"/><circle cx="505.88" cy="897.96" r="2.25"/><circle cx="514.46" cy="893.39" r="2.25"/><circle cx="523.04" cy="892.71" r="2.25"/><circle cx="531.62" cy="893.39" r="2.25"/><circle cx="540.20" cy="894.53" r="2.25"/><circle cx="548.78" cy="892.48" r="2.25"/><circle cx="557.36" cy="891.56" r="2.25"/><circle cx="565.94" cy="890.88" r="2.25"/><circle cx="574.52" cy="886.76" r="2.25"/></g>
<g fill="#08519C" stroke="#000" stroke-width="0.55"><circle cx="497.30" cy="902.99" r="2.25"/><circle cx="505.88" cy="899.10" r="2.25"/><circle cx="514.46" cy="901.16" r="2.25"/><circle cx="523.04" cy="902.53" r="2.25"/><circle cx="531.62" cy="902.53" r="2.25"/><circle cx="540.20" cy="903.67" r="2.25"/><circle cx="548.78" cy="904.59" r="2.25"/><circle cx="557.36" cy="908.24" r="2.25"/></g>
<g fill="#C6DBEF" stroke="#000" stroke-width="0.55"><circle cx="514.46" cy="903.67" r="2.25"/><circle cx="523.04" cy="904.36" r="2.25"/><circle cx="531.62" cy="903.90" r="2.25"/><circle cx="540.20" cy="904.36" r="2.25"/><circle cx="548.78" cy="904.82" r="2.25"/><circle cx="557.36" cy="903.90" r="2.25"/><circle cx="565.94" cy="901.85" r="2.25"/></g>
<rect x="490.3" y="778.2" width="169.4" height="138.7" fill="none" stroke="#333" stroke-width="0.7" />
<line x1="488.1" y1="910.3" x2="490.3" y2="910.3" stroke="#333" stroke-width="0.6" />
<text x="487" y="913.1" font-size="8.1" fill="#4D4D4D" text-anchor="end" >0</text>
<line x1="488.1" y1="864.6" x2="490.3" y2="864.6" stroke="#333" stroke-width="0.6" />
<text x="487" y="867.4" font-size="8.1" fill="#4D4D4D" text-anchor="end" >20</text>
<line x1="488.1" y1="818.9" x2="490.3" y2="818.9" stroke="#333" stroke-width="0.6" />
<text x="487" y="821.7" font-size="8.1" fill="#4D4D4D" text-anchor="end" >40</text>
<line x1="531.62" y1="916.9" x2="531.62" y2="918.9" stroke="#333" stroke-width="0.5" />
<text x="531.62" y="928" font-size="8.1" fill="#4D4D4D" text-anchor="middle" >5</text>
<line x1="574.52" y1="916.9" x2="574.52" y2="918.9" stroke="#333" stroke-width="0.5" />
<text x="574.52" y="928" font-size="8.1" fill="#4D4D4D" text-anchor="middle" >10</text>
<line x1="617.42" y1="916.9" x2="617.42" y2="918.9" stroke="#333" stroke-width="0.5" />
<text x="617.42" y="928" font-size="8.1" fill="#4D4D4D" text-anchor="middle" >15</text>
<text x="230.6" y="847.2" font-size="9.9" text-anchor="middle" transform="rotate(-90 230.6 847.2)" >T cell fraction</text>
<text x="453.2" y="847.2" font-size="9.9" text-anchor="middle" transform="rotate(-90 453.2 847.2)" >TAM fraction</text>
<text x="351.4" y="937.9" font-size="9.9" text-anchor="middle" >CD44 density bins</text>
<text x="574.8" y="937.7" font-size="9.9" text-anchor="middle" >CD44 density bins</text>
<text x="672.3" y="641.5" font-size="8.4" transform="rotate(90 672.3 641.5)" textLength="270.9" lengthAdjust="spacingAndGlyphs" >Cell fractions of GTC-high (red) and GTC-low (blue) samples per CD44 bin</text>
</svg>
</body></html>
